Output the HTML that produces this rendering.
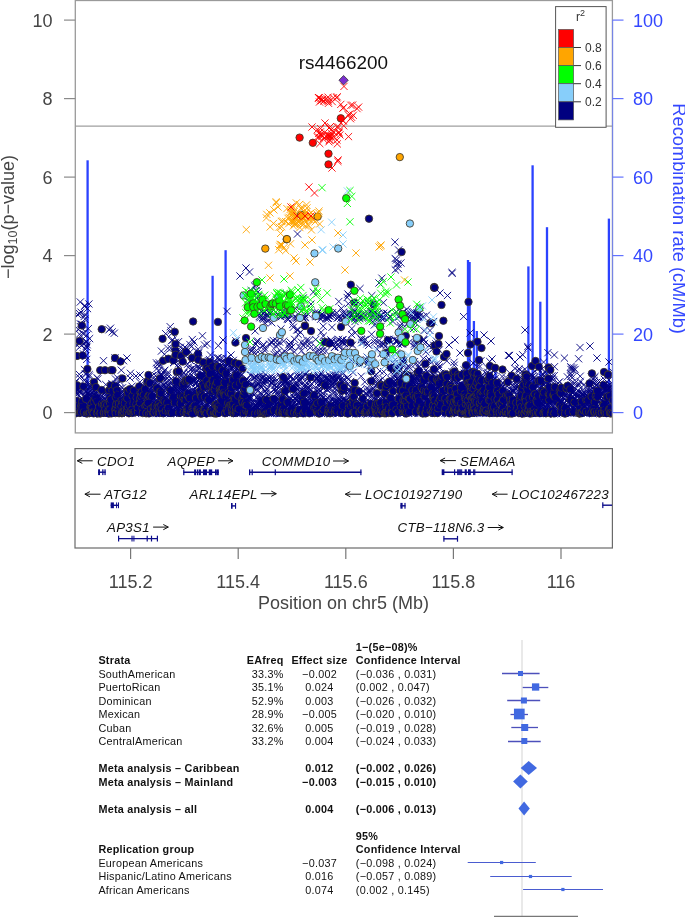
<!DOCTYPE html>
<html><head><meta charset="utf-8"><style>
html,body{margin:0;padding:0;background:#fff;}
svg{display:block;will-change:transform;}
text{font-family:"Liberation Sans", sans-serif;}
</style></head><body>
<svg width="685" height="917" viewBox="0 0 685 917">

<line x1="75" y1="126.1" x2="612.4" y2="126.1" stroke="#9f9f9f" stroke-width="1.2"/>
<line x1="87.6" y1="160.3" x2="87.6" y2="414" stroke="#2b42ff" stroke-width="2.3"/>
<line x1="212.6" y1="275.8" x2="212.6" y2="414" stroke="#2b42ff" stroke-width="2.3"/>
<line x1="225.6" y1="250.2" x2="225.6" y2="414" stroke="#2b42ff" stroke-width="2.3"/>
<line x1="468.0" y1="260" x2="468.0" y2="414" stroke="#2b42ff" stroke-width="2.3"/>
<line x1="469.6" y1="262" x2="469.6" y2="414" stroke="#2b42ff" stroke-width="2.3"/>
<line x1="473.9" y1="321" x2="473.9" y2="414" stroke="#2b42ff" stroke-width="2.3"/>
<line x1="476.8" y1="331" x2="476.8" y2="414" stroke="#2b42ff" stroke-width="2.3"/>
<line x1="495.5" y1="365" x2="495.5" y2="414" stroke="#2b42ff" stroke-width="2.3"/>
<line x1="528.4" y1="266.4" x2="528.4" y2="414" stroke="#2b42ff" stroke-width="2.3"/>
<line x1="532.6" y1="165.3" x2="532.6" y2="414" stroke="#2b42ff" stroke-width="2.3"/>
<line x1="540.3" y1="301.7" x2="540.3" y2="414" stroke="#2b42ff" stroke-width="2.3"/>
<line x1="547.0" y1="227.2" x2="547.0" y2="414" stroke="#2b42ff" stroke-width="2.3"/>
<line x1="608.9" y1="218.6" x2="608.9" y2="414" stroke="#2b42ff" stroke-width="2.3"/>
<defs><circle id="c" r="3.7" stroke="#3e3828" stroke-width="0.85"/><path id="x" d="M-3.6,-3.6L3.6,3.6M-3.6,3.6L3.6,-3.6" fill="none" stroke-width="0.9"/></defs>
<svg x="75.5" y="0" width="537" height="433" viewBox="75.5 0 537 433" overflow="hidden">
<g fill="#000080" stroke="#000080">
<use href="#c" x="73.9" y="386.3"/>
<use href="#x" x="73.9" y="383.4"/>
<use href="#c" x="74.1" y="389.4"/>
<use href="#c" x="74.6" y="401.8"/>
<use href="#x" x="74.7" y="401.8"/>
<use href="#x" x="74.9" y="404.0"/>
<use href="#x" x="74.9" y="411.5"/>
<use href="#x" x="75.2" y="390.2"/>
<use href="#x" x="75.3" y="382.5"/>
<use href="#x" x="75.4" y="351.3"/>
<use href="#x" x="75.5" y="392.5"/>
<use href="#x" x="75.7" y="412.8"/>
<use href="#c" x="75.8" y="413.3"/>
<use href="#x" x="76.0" y="406.7"/>
<use href="#x" x="76.1" y="393.3"/>
<use href="#x" x="76.2" y="399.9"/>
<use href="#x" x="76.5" y="408.2"/>
<use href="#x" x="76.5" y="389.5"/>
<use href="#c" x="76.7" y="401.0"/>
<use href="#x" x="76.8" y="413.0"/>
<use href="#x" x="76.9" y="345.0"/>
<use href="#c" x="77.0" y="356.0"/>
<use href="#x" x="77.0" y="413.0"/>
<use href="#c" x="77.2" y="385.3"/>
<use href="#x" x="77.4" y="401.6"/>
<use href="#x" x="77.4" y="394.1"/>
<use href="#c" x="77.4" y="410.8"/>
<use href="#x" x="77.6" y="314.5"/>
<use href="#x" x="77.8" y="390.0"/>
<use href="#x" x="77.9" y="411.1"/>
<use href="#x" x="77.9" y="388.4"/>
<use href="#x" x="78.2" y="389.6"/>
<use href="#x" x="78.3" y="329.5"/>
<use href="#c" x="78.3" y="405.8"/>
<use href="#x" x="78.5" y="411.4"/>
<use href="#x" x="78.5" y="401.9"/>
<use href="#x" x="78.6" y="409.5"/>
<use href="#x" x="79.1" y="395.4"/>
<use href="#c" x="79.1" y="411.5"/>
<use href="#c" x="79.3" y="412.9"/>
<use href="#x" x="79.3" y="374.3"/>
<use href="#x" x="79.3" y="404.0"/>
<use href="#x" x="79.3" y="412.8"/>
<use href="#x" x="79.5" y="313.6"/>
<use href="#x" x="79.5" y="343.7"/>
<use href="#c" x="79.5" y="341.0"/>
<use href="#x" x="79.5" y="334.2"/>
<use href="#x" x="79.5" y="377.6"/>
<use href="#x" x="79.6" y="412.7"/>
<use href="#x" x="79.6" y="391.9"/>
<use href="#x" x="79.7" y="392.3"/>
<use href="#x" x="79.8" y="409.5"/>
<use href="#x" x="80.1" y="413.1"/>
<use href="#c" x="80.1" y="412.5"/>
<use href="#x" x="80.3" y="302.0"/>
<use href="#x" x="80.4" y="324.0"/>
<use href="#x" x="80.4" y="405.4"/>
<use href="#x" x="80.7" y="327.0"/>
<use href="#c" x="80.7" y="412.4"/>
<use href="#x" x="80.9" y="410.0"/>
<use href="#x" x="81.0" y="327.1"/>
<use href="#x" x="81.0" y="412.2"/>
<use href="#c" x="81.0" y="411.8"/>
<use href="#x" x="81.1" y="312.2"/>
<use href="#x" x="81.2" y="411.0"/>
<use href="#x" x="81.2" y="390.0"/>
<use href="#c" x="81.2" y="406.1"/>
<use href="#x" x="81.6" y="345.2"/>
<use href="#x" x="81.6" y="391.9"/>
<use href="#x" x="81.7" y="412.3"/>
<use href="#x" x="81.7" y="324.5"/>
<use href="#x" x="81.8" y="399.3"/>
<use href="#x" x="81.9" y="324.3"/>
<use href="#c" x="81.9" y="325.5"/>
<use href="#x" x="82.2" y="404.1"/>
<use href="#c" x="82.2" y="401.7"/>
<use href="#x" x="82.5" y="408.9"/>
<use href="#c" x="82.5" y="406.6"/>
<use href="#c" x="82.6" y="355.5"/>
<use href="#x" x="82.6" y="411.3"/>
<use href="#x" x="82.9" y="333.3"/>
<use href="#x" x="83.1" y="412.4"/>
<use href="#x" x="83.2" y="407.3"/>
<use href="#x" x="83.2" y="407.9"/>
<use href="#c" x="83.3" y="386.4"/>
<use href="#x" x="83.4" y="353.9"/>
<use href="#x" x="83.5" y="413.0"/>
<use href="#x" x="83.6" y="334.1"/>
<use href="#x" x="83.7" y="400.1"/>
<use href="#c" x="83.8" y="412.2"/>
<use href="#x" x="83.8" y="403.5"/>
<use href="#x" x="83.9" y="403.3"/>
<use href="#x" x="84.0" y="343.5"/>
<use href="#x" x="84.2" y="403.7"/>
<use href="#x" x="84.2" y="316.5"/>
<use href="#x" x="84.3" y="380.3"/>
<use href="#x" x="84.5" y="396.3"/>
<use href="#x" x="84.5" y="369.6"/>
<use href="#x" x="84.6" y="306.3"/>
<use href="#x" x="84.7" y="407.1"/>
<use href="#x" x="84.8" y="410.2"/>
<use href="#x" x="84.8" y="305.6"/>
<use href="#x" x="84.9" y="403.6"/>
<use href="#x" x="84.9" y="319.2"/>
<use href="#x" x="85.1" y="314.5"/>
<use href="#x" x="85.2" y="412.4"/>
<use href="#x" x="85.2" y="398.5"/>
<use href="#x" x="85.4" y="349.4"/>
<use href="#x" x="85.4" y="396.5"/>
<use href="#x" x="85.5" y="373.9"/>
<use href="#x" x="85.8" y="356.0"/>
<use href="#x" x="85.8" y="391.4"/>
<use href="#c" x="85.9" y="399.0"/>
<use href="#x" x="85.9" y="386.7"/>
<use href="#x" x="86.0" y="412.2"/>
<use href="#x" x="86.1" y="374.2"/>
<use href="#x" x="86.2" y="413.3"/>
<use href="#x" x="86.2" y="346.5"/>
<use href="#x" x="86.2" y="342.1"/>
<use href="#x" x="86.2" y="406.9"/>
<use href="#x" x="86.4" y="341.4"/>
<use href="#x" x="86.5" y="381.9"/>
<use href="#x" x="86.7" y="359.4"/>
<use href="#x" x="86.7" y="335.3"/>
<use href="#c" x="86.8" y="413.6"/>
<use href="#x" x="86.8" y="391.3"/>
<use href="#x" x="86.8" y="394.3"/>
<use href="#x" x="86.9" y="406.9"/>
<use href="#x" x="87.0" y="347.2"/>
<use href="#x" x="87.1" y="344.7"/>
<use href="#x" x="87.3" y="393.7"/>
<use href="#x" x="87.4" y="392.8"/>
<use href="#c" x="87.4" y="369.0"/>
<use href="#x" x="87.5" y="308.6"/>
<use href="#x" x="87.5" y="401.9"/>
<use href="#x" x="87.7" y="407.8"/>
<use href="#x" x="87.7" y="410.5"/>
<use href="#x" x="87.8" y="413.4"/>
<use href="#c" x="87.8" y="412.9"/>
<use href="#x" x="88.0" y="408.0"/>
<use href="#x" x="88.3" y="406.8"/>
<use href="#x" x="88.3" y="328.7"/>
<use href="#x" x="88.4" y="382.4"/>
<use href="#x" x="88.6" y="397.0"/>
<use href="#x" x="88.6" y="384.8"/>
<use href="#x" x="88.7" y="393.6"/>
<use href="#x" x="88.8" y="413.2"/>
<use href="#x" x="88.9" y="394.9"/>
<use href="#x" x="88.9" y="304.0"/>
<use href="#x" x="89.1" y="386.9"/>
<use href="#x" x="89.2" y="374.6"/>
<use href="#c" x="89.3" y="412.8"/>
<use href="#x" x="89.3" y="406.8"/>
<use href="#x" x="89.3" y="395.3"/>
<use href="#x" x="89.4" y="376.2"/>
<use href="#c" x="89.5" y="412.5"/>
<use href="#x" x="89.6" y="338.6"/>
<use href="#x" x="89.9" y="412.4"/>
<use href="#x" x="90.0" y="391.5"/>
<use href="#x" x="90.0" y="403.9"/>
<use href="#c" x="90.1" y="412.6"/>
<use href="#c" x="90.4" y="407.0"/>
<use href="#x" x="90.4" y="386.5"/>
<use href="#x" x="90.6" y="387.9"/>
<use href="#x" x="90.6" y="412.6"/>
<use href="#x" x="90.7" y="400.0"/>
<use href="#x" x="90.8" y="400.2"/>
<use href="#x" x="90.9" y="396.8"/>
<use href="#c" x="91.2" y="407.3"/>
<use href="#x" x="91.5" y="395.3"/>
<use href="#c" x="91.7" y="404.2"/>
<use href="#c" x="92.0" y="408.3"/>
<use href="#c" x="92.0" y="411.7"/>
<use href="#x" x="92.1" y="400.5"/>
<use href="#x" x="92.2" y="410.2"/>
<use href="#x" x="92.2" y="401.3"/>
<use href="#x" x="92.5" y="392.3"/>
<use href="#x" x="92.9" y="395.7"/>
<use href="#x" x="92.9" y="397.0"/>
<use href="#x" x="93.0" y="413.6"/>
<use href="#x" x="93.2" y="405.3"/>
<use href="#x" x="93.3" y="391.8"/>
<use href="#c" x="93.4" y="412.2"/>
<use href="#c" x="93.6" y="413.4"/>
<use href="#c" x="93.8" y="401.1"/>
<use href="#x" x="93.8" y="394.8"/>
<use href="#c" x="94.0" y="382.1"/>
<use href="#x" x="94.0" y="405.5"/>
<use href="#x" x="94.4" y="409.0"/>
<use href="#x" x="94.6" y="391.1"/>
<use href="#x" x="94.6" y="402.8"/>
<use href="#x" x="94.7" y="389.7"/>
<use href="#x" x="95.0" y="399.1"/>
<use href="#x" x="95.2" y="410.6"/>
<use href="#x" x="95.3" y="396.6"/>
<use href="#c" x="95.4" y="398.3"/>
<use href="#x" x="95.7" y="400.2"/>
<use href="#x" x="95.7" y="399.3"/>
<use href="#x" x="95.9" y="412.1"/>
<use href="#c" x="95.9" y="387.1"/>
<use href="#x" x="96.0" y="392.3"/>
<use href="#x" x="96.2" y="407.4"/>
<use href="#x" x="96.3" y="393.3"/>
<use href="#x" x="96.4" y="413.4"/>
<use href="#x" x="96.5" y="402.2"/>
<use href="#x" x="96.9" y="409.1"/>
<use href="#c" x="96.9" y="412.7"/>
<use href="#x" x="97.1" y="396.5"/>
<use href="#x" x="97.1" y="377.7"/>
<use href="#x" x="97.2" y="408.7"/>
<use href="#c" x="97.3" y="401.6"/>
<use href="#x" x="97.5" y="396.1"/>
<use href="#c" x="97.5" y="413.5"/>
<use href="#x" x="97.6" y="410.2"/>
<use href="#x" x="97.7" y="397.4"/>
<use href="#x" x="97.7" y="397.0"/>
<use href="#x" x="97.8" y="378.9"/>
<use href="#c" x="98.0" y="410.9"/>
<use href="#x" x="98.3" y="403.2"/>
<use href="#x" x="98.6" y="412.3"/>
<use href="#x" x="98.6" y="409.6"/>
<use href="#x" x="99.0" y="404.4"/>
<use href="#c" x="99.1" y="407.0"/>
<use href="#x" x="99.2" y="413.4"/>
<use href="#x" x="99.2" y="399.4"/>
<use href="#x" x="99.5" y="397.0"/>
<use href="#x" x="99.9" y="397.6"/>
<use href="#x" x="100.0" y="408.3"/>
<use href="#x" x="100.1" y="412.8"/>
<use href="#c" x="100.2" y="413.5"/>
<use href="#c" x="100.2" y="370.2"/>
<use href="#x" x="100.3" y="405.5"/>
<use href="#x" x="100.4" y="404.7"/>
<use href="#x" x="100.5" y="407.1"/>
<use href="#x" x="100.6" y="409.7"/>
<use href="#c" x="100.8" y="412.5"/>
<use href="#x" x="101.0" y="401.0"/>
<use href="#x" x="101.2" y="410.5"/>
<use href="#x" x="101.2" y="411.8"/>
<use href="#c" x="101.5" y="390.0"/>
<use href="#x" x="101.5" y="398.3"/>
<use href="#x" x="101.6" y="408.5"/>
<use href="#c" x="101.7" y="329.2"/>
<use href="#x" x="101.8" y="412.4"/>
<use href="#x" x="101.9" y="398.5"/>
<use href="#x" x="101.9" y="408.6"/>
<use href="#c" x="102.0" y="404.1"/>
<use href="#x" x="102.3" y="411.9"/>
<use href="#x" x="102.5" y="409.8"/>
<use href="#x" x="102.6" y="392.1"/>
<use href="#x" x="102.6" y="406.6"/>
<use href="#x" x="102.7" y="405.5"/>
<use href="#x" x="102.7" y="413.2"/>
<use href="#x" x="102.8" y="412.5"/>
<use href="#x" x="103.4" y="403.6"/>
<use href="#x" x="103.5" y="360.7"/>
<use href="#x" x="103.5" y="412.3"/>
<use href="#x" x="103.6" y="398.7"/>
<use href="#c" x="103.7" y="404.7"/>
<use href="#x" x="103.8" y="411.7"/>
<use href="#c" x="103.8" y="412.9"/>
<use href="#c" x="104.0" y="412.6"/>
<use href="#x" x="104.7" y="398.6"/>
<use href="#x" x="104.8" y="405.6"/>
<use href="#c" x="105.0" y="370.2"/>
<use href="#c" x="105.0" y="404.2"/>
<use href="#x" x="105.1" y="412.3"/>
<use href="#c" x="105.3" y="409.1"/>
<use href="#x" x="105.4" y="392.6"/>
<use href="#x" x="105.7" y="409.5"/>
<use href="#c" x="105.8" y="412.6"/>
<use href="#x" x="105.8" y="407.0"/>
<use href="#x" x="105.8" y="384.6"/>
<use href="#x" x="106.1" y="391.1"/>
<use href="#x" x="106.3" y="391.1"/>
<use href="#x" x="106.4" y="391.5"/>
<use href="#x" x="106.9" y="413.2"/>
<use href="#x" x="107.0" y="400.4"/>
<use href="#c" x="107.2" y="405.0"/>
<use href="#x" x="107.2" y="412.3"/>
<use href="#x" x="107.2" y="405.8"/>
<use href="#x" x="107.3" y="410.8"/>
<use href="#c" x="107.7" y="412.3"/>
<use href="#x" x="107.7" y="411.1"/>
<use href="#x" x="107.8" y="392.7"/>
<use href="#x" x="107.9" y="396.8"/>
<use href="#x" x="108.2" y="396.5"/>
<use href="#x" x="108.2" y="395.4"/>
<use href="#c" x="108.8" y="413.6"/>
<use href="#x" x="108.8" y="395.2"/>
<use href="#x" x="108.9" y="406.9"/>
<use href="#c" x="108.9" y="409.3"/>
<use href="#x" x="109.0" y="329.8"/>
<use href="#c" x="109.1" y="390.3"/>
<use href="#x" x="109.1" y="413.4"/>
<use href="#x" x="109.4" y="413.4"/>
<use href="#x" x="109.5" y="404.0"/>
<use href="#x" x="109.8" y="393.2"/>
<use href="#c" x="110.0" y="402.9"/>
<use href="#x" x="110.1" y="402.3"/>
<use href="#x" x="110.2" y="413.4"/>
<use href="#c" x="110.2" y="409.3"/>
<use href="#x" x="110.5" y="328.2"/>
<use href="#c" x="110.6" y="399.5"/>
<use href="#c" x="110.7" y="385.5"/>
<use href="#x" x="110.7" y="412.2"/>
<use href="#x" x="110.8" y="405.4"/>
<use href="#c" x="111.0" y="370.2"/>
<use href="#x" x="111.1" y="413.3"/>
<use href="#x" x="111.3" y="400.5"/>
<use href="#x" x="111.4" y="412.3"/>
<use href="#x" x="111.5" y="404.3"/>
<use href="#c" x="111.5" y="413.4"/>
<use href="#x" x="111.5" y="411.1"/>
<use href="#x" x="111.7" y="395.2"/>
<use href="#x" x="111.9" y="383.9"/>
<use href="#x" x="111.9" y="404.6"/>
<use href="#x" x="112.1" y="408.5"/>
<use href="#x" x="112.2" y="331.9"/>
<use href="#c" x="112.4" y="390.6"/>
<use href="#x" x="112.5" y="404.0"/>
<use href="#c" x="112.5" y="370.2"/>
<use href="#x" x="112.5" y="395.5"/>
<use href="#x" x="112.6" y="406.8"/>
<use href="#x" x="112.9" y="403.1"/>
<use href="#x" x="113.1" y="412.3"/>
<use href="#x" x="113.5" y="405.9"/>
<use href="#x" x="113.5" y="412.1"/>
<use href="#x" x="113.5" y="393.4"/>
<use href="#x" x="114.1" y="407.9"/>
<use href="#x" x="114.1" y="395.8"/>
<use href="#x" x="114.1" y="406.9"/>
<use href="#x" x="114.3" y="333.2"/>
<use href="#x" x="114.3" y="392.1"/>
<use href="#x" x="114.4" y="394.4"/>
<use href="#x" x="114.5" y="405.0"/>
<use href="#x" x="114.6" y="413.5"/>
<use href="#c" x="115.0" y="358.0"/>
<use href="#x" x="115.0" y="358.0"/>
<use href="#c" x="115.0" y="386.1"/>
<use href="#x" x="115.1" y="403.4"/>
<use href="#c" x="115.2" y="409.8"/>
<use href="#x" x="115.3" y="396.8"/>
<use href="#x" x="115.4" y="400.8"/>
<use href="#x" x="115.5" y="379.0"/>
<use href="#x" x="115.5" y="384.1"/>
<use href="#x" x="115.6" y="406.5"/>
<use href="#x" x="115.6" y="388.7"/>
<use href="#c" x="115.6" y="413.1"/>
<use href="#c" x="115.8" y="397.2"/>
<use href="#x" x="115.9" y="392.4"/>
<use href="#x" x="116.0" y="388.1"/>
<use href="#c" x="116.1" y="407.6"/>
<use href="#c" x="116.3" y="404.3"/>
<use href="#x" x="116.5" y="392.7"/>
<use href="#x" x="116.7" y="411.6"/>
<use href="#x" x="116.7" y="384.8"/>
<use href="#c" x="116.8" y="390.3"/>
<use href="#x" x="117.0" y="402.2"/>
<use href="#c" x="117.3" y="394.7"/>
<use href="#x" x="117.4" y="413.0"/>
<use href="#x" x="117.5" y="397.2"/>
<use href="#x" x="117.6" y="377.8"/>
<use href="#x" x="117.8" y="399.5"/>
<use href="#x" x="117.8" y="412.0"/>
<use href="#x" x="118.0" y="412.4"/>
<use href="#x" x="118.0" y="383.6"/>
<use href="#x" x="118.2" y="394.1"/>
<use href="#c" x="118.4" y="409.6"/>
<use href="#x" x="118.7" y="412.2"/>
<use href="#c" x="118.8" y="406.2"/>
<use href="#c" x="118.9" y="403.3"/>
<use href="#c" x="119.2" y="412.7"/>
<use href="#c" x="119.2" y="413.2"/>
<use href="#x" x="119.3" y="409.8"/>
<use href="#x" x="119.4" y="412.6"/>
<use href="#x" x="119.6" y="395.4"/>
<use href="#x" x="119.7" y="412.3"/>
<use href="#x" x="119.8" y="402.5"/>
<use href="#x" x="119.9" y="405.7"/>
<use href="#x" x="119.9" y="406.9"/>
<use href="#x" x="120.0" y="408.9"/>
<use href="#x" x="120.0" y="388.4"/>
<use href="#x" x="120.0" y="381.6"/>
<use href="#c" x="120.5" y="361.5"/>
<use href="#x" x="120.7" y="392.2"/>
<use href="#x" x="121.0" y="393.1"/>
<use href="#x" x="121.3" y="370.2"/>
<use href="#c" x="121.3" y="406.1"/>
<use href="#x" x="121.4" y="411.7"/>
<use href="#x" x="121.4" y="408.8"/>
<use href="#x" x="121.5" y="393.6"/>
<use href="#c" x="121.6" y="400.8"/>
<use href="#c" x="121.9" y="412.5"/>
<use href="#c" x="121.9" y="413.3"/>
<use href="#x" x="122.0" y="395.7"/>
<use href="#x" x="122.2" y="406.2"/>
<use href="#x" x="122.4" y="406.1"/>
<use href="#x" x="122.5" y="403.6"/>
<use href="#x" x="122.5" y="387.8"/>
<use href="#c" x="122.5" y="378.5"/>
<use href="#c" x="122.7" y="402.6"/>
<use href="#x" x="122.7" y="407.6"/>
<use href="#x" x="122.8" y="401.9"/>
<use href="#x" x="123.0" y="397.0"/>
<use href="#c" x="123.2" y="412.4"/>
<use href="#x" x="123.5" y="360.7"/>
<use href="#x" x="123.5" y="408.3"/>
<use href="#x" x="123.5" y="402.8"/>
<use href="#x" x="123.6" y="393.3"/>
<use href="#c" x="123.7" y="409.0"/>
<use href="#c" x="123.7" y="411.8"/>
<use href="#x" x="124.1" y="404.4"/>
<use href="#x" x="124.2" y="407.6"/>
<use href="#x" x="124.2" y="410.9"/>
<use href="#x" x="124.8" y="394.6"/>
<use href="#c" x="124.8" y="403.3"/>
<use href="#c" x="124.9" y="410.0"/>
<use href="#x" x="125.2" y="410.0"/>
<use href="#x" x="125.3" y="407.5"/>
<use href="#x" x="125.5" y="391.4"/>
<use href="#x" x="125.7" y="404.4"/>
<use href="#x" x="125.8" y="403.0"/>
<use href="#x" x="126.2" y="404.8"/>
<use href="#x" x="126.2" y="397.5"/>
<use href="#x" x="126.3" y="410.4"/>
<use href="#c" x="126.6" y="412.1"/>
<use href="#x" x="126.7" y="403.3"/>
<use href="#c" x="126.8" y="408.4"/>
<use href="#x" x="127.0" y="358.0"/>
<use href="#x" x="127.2" y="392.7"/>
<use href="#c" x="127.2" y="398.4"/>
<use href="#x" x="127.4" y="409.6"/>
<use href="#c" x="127.4" y="390.6"/>
<use href="#x" x="127.5" y="413.4"/>
<use href="#x" x="127.6" y="393.8"/>
<use href="#c" x="127.8" y="407.1"/>
<use href="#c" x="127.8" y="392.4"/>
<use href="#x" x="128.0" y="402.2"/>
<use href="#x" x="128.4" y="408.1"/>
<use href="#x" x="128.9" y="411.8"/>
<use href="#c" x="129.0" y="413.3"/>
<use href="#x" x="129.1" y="407.7"/>
<use href="#x" x="129.2" y="395.6"/>
<use href="#c" x="129.4" y="404.7"/>
<use href="#x" x="129.4" y="401.5"/>
<use href="#x" x="129.6" y="398.8"/>
<use href="#x" x="129.6" y="412.4"/>
<use href="#c" x="129.8" y="389.1"/>
<use href="#x" x="129.8" y="407.8"/>
<use href="#x" x="130.0" y="378.0"/>
<use href="#x" x="130.0" y="391.9"/>
<use href="#c" x="130.3" y="411.5"/>
<use href="#x" x="130.4" y="373.3"/>
<use href="#x" x="130.4" y="410.2"/>
<use href="#x" x="130.6" y="402.9"/>
<use href="#x" x="130.8" y="396.3"/>
<use href="#x" x="130.9" y="397.7"/>
<use href="#x" x="130.9" y="398.4"/>
<use href="#x" x="131.1" y="395.0"/>
<use href="#c" x="131.3" y="412.3"/>
<use href="#x" x="132.0" y="386.2"/>
<use href="#x" x="132.1" y="413.5"/>
<use href="#x" x="132.1" y="412.6"/>
<use href="#c" x="132.4" y="395.8"/>
<use href="#x" x="132.5" y="405.7"/>
<use href="#c" x="132.5" y="409.1"/>
<use href="#x" x="132.5" y="411.8"/>
<use href="#x" x="132.5" y="391.7"/>
<use href="#x" x="132.6" y="405.8"/>
<use href="#x" x="132.6" y="398.9"/>
<use href="#c" x="132.7" y="412.8"/>
<use href="#x" x="133.1" y="411.5"/>
<use href="#c" x="133.4" y="403.5"/>
<use href="#x" x="133.5" y="408.1"/>
<use href="#c" x="133.8" y="390.5"/>
<use href="#x" x="134.0" y="402.0"/>
<use href="#c" x="134.1" y="412.2"/>
<use href="#x" x="134.2" y="392.5"/>
<use href="#x" x="134.2" y="397.8"/>
<use href="#x" x="134.9" y="411.8"/>
<use href="#x" x="135.0" y="397.3"/>
<use href="#x" x="135.1" y="401.4"/>
<use href="#x" x="135.2" y="402.1"/>
<use href="#c" x="135.2" y="412.0"/>
<use href="#x" x="135.5" y="407.4"/>
<use href="#x" x="135.7" y="404.9"/>
<use href="#x" x="135.8" y="413.5"/>
<use href="#x" x="135.9" y="412.4"/>
<use href="#x" x="136.0" y="376.0"/>
<use href="#x" x="136.2" y="394.6"/>
<use href="#c" x="136.4" y="404.5"/>
<use href="#x" x="136.5" y="406.2"/>
<use href="#c" x="136.6" y="397.8"/>
<use href="#x" x="136.7" y="412.3"/>
<use href="#x" x="137.1" y="404.2"/>
<use href="#x" x="137.2" y="397.4"/>
<use href="#x" x="137.4" y="406.3"/>
<use href="#x" x="137.5" y="393.8"/>
<use href="#x" x="137.5" y="400.2"/>
<use href="#x" x="137.7" y="407.7"/>
<use href="#c" x="137.8" y="411.8"/>
<use href="#c" x="137.9" y="407.6"/>
<use href="#x" x="138.1" y="411.9"/>
<use href="#x" x="138.5" y="397.5"/>
<use href="#x" x="138.6" y="392.0"/>
<use href="#x" x="138.8" y="402.9"/>
<use href="#x" x="138.9" y="395.6"/>
<use href="#x" x="139.0" y="389.4"/>
<use href="#c" x="139.2" y="386.4"/>
<use href="#x" x="139.3" y="410.1"/>
<use href="#x" x="139.3" y="405.7"/>
<use href="#x" x="139.6" y="398.4"/>
<use href="#x" x="139.7" y="405.0"/>
<use href="#x" x="139.8" y="382.2"/>
<use href="#c" x="139.8" y="402.6"/>
<use href="#x" x="140.0" y="392.5"/>
<use href="#x" x="140.0" y="375.0"/>
<use href="#x" x="140.0" y="391.4"/>
<use href="#c" x="140.2" y="398.4"/>
<use href="#c" x="140.5" y="392.3"/>
<use href="#x" x="140.6" y="387.6"/>
<use href="#x" x="140.6" y="412.4"/>
<use href="#x" x="140.8" y="407.5"/>
<use href="#x" x="141.2" y="407.0"/>
<use href="#x" x="141.3" y="411.0"/>
<use href="#x" x="141.5" y="400.9"/>
<use href="#c" x="141.5" y="396.2"/>
<use href="#x" x="141.7" y="404.7"/>
<use href="#x" x="141.7" y="399.6"/>
<use href="#x" x="141.7" y="413.1"/>
<use href="#c" x="141.7" y="392.0"/>
<use href="#x" x="141.9" y="389.4"/>
<use href="#x" x="142.2" y="394.5"/>
<use href="#c" x="142.5" y="408.5"/>
<use href="#x" x="142.6" y="408.1"/>
<use href="#x" x="142.6" y="411.4"/>
<use href="#x" x="142.7" y="397.9"/>
<use href="#c" x="142.8" y="413.1"/>
<use href="#x" x="143.0" y="401.6"/>
<use href="#x" x="143.0" y="410.8"/>
<use href="#x" x="143.6" y="411.5"/>
<use href="#c" x="143.8" y="394.8"/>
<use href="#x" x="143.9" y="405.9"/>
<use href="#x" x="143.9" y="412.2"/>
<use href="#x" x="144.0" y="392.4"/>
<use href="#x" x="144.4" y="394.4"/>
<use href="#x" x="144.8" y="403.9"/>
<use href="#x" x="144.9" y="402.5"/>
<use href="#c" x="144.9" y="388.9"/>
<use href="#x" x="145.2" y="407.5"/>
<use href="#x" x="145.3" y="397.4"/>
<use href="#c" x="145.3" y="406.2"/>
<use href="#x" x="145.4" y="397.0"/>
<use href="#x" x="145.5" y="412.4"/>
<use href="#x" x="145.6" y="393.9"/>
<use href="#x" x="145.6" y="385.7"/>
<use href="#x" x="145.8" y="408.5"/>
<use href="#x" x="146.0" y="393.8"/>
<use href="#x" x="146.1" y="412.1"/>
<use href="#c" x="146.3" y="413.3"/>
<use href="#c" x="146.4" y="405.1"/>
<use href="#x" x="146.5" y="393.8"/>
<use href="#x" x="146.8" y="395.5"/>
<use href="#x" x="146.8" y="388.9"/>
<use href="#x" x="146.9" y="396.0"/>
<use href="#x" x="147.1" y="391.4"/>
<use href="#c" x="147.2" y="381.4"/>
<use href="#x" x="147.4" y="394.8"/>
<use href="#c" x="147.6" y="398.3"/>
<use href="#c" x="147.8" y="402.9"/>
<use href="#x" x="147.8" y="404.1"/>
<use href="#x" x="147.9" y="400.6"/>
<use href="#x" x="148.1" y="412.5"/>
<use href="#x" x="148.5" y="396.4"/>
<use href="#c" x="148.5" y="375.0"/>
<use href="#c" x="148.6" y="395.9"/>
<use href="#x" x="148.7" y="392.5"/>
<use href="#c" x="149.0" y="413.4"/>
<use href="#x" x="149.1" y="407.7"/>
<use href="#x" x="149.2" y="407.7"/>
<use href="#x" x="149.5" y="383.7"/>
<use href="#x" x="149.5" y="406.6"/>
<use href="#c" x="149.5" y="383.0"/>
<use href="#c" x="149.5" y="395.4"/>
<use href="#x" x="149.6" y="406.4"/>
<use href="#x" x="149.8" y="393.0"/>
<use href="#x" x="149.8" y="392.1"/>
<use href="#x" x="150.1" y="408.0"/>
<use href="#x" x="150.4" y="410.3"/>
<use href="#c" x="150.5" y="412.5"/>
<use href="#x" x="150.5" y="401.3"/>
<use href="#x" x="150.9" y="388.5"/>
<use href="#c" x="150.9" y="408.7"/>
<use href="#x" x="151.4" y="400.1"/>
<use href="#x" x="151.5" y="412.8"/>
<use href="#x" x="151.5" y="388.8"/>
<use href="#x" x="151.5" y="412.6"/>
<use href="#x" x="151.6" y="397.6"/>
<use href="#c" x="151.6" y="396.3"/>
<use href="#x" x="151.8" y="387.4"/>
<use href="#x" x="152.2" y="401.6"/>
<use href="#x" x="152.2" y="405.8"/>
<use href="#x" x="152.3" y="386.5"/>
<use href="#x" x="152.3" y="391.6"/>
<use href="#x" x="152.4" y="375.6"/>
<use href="#x" x="152.5" y="404.5"/>
<use href="#x" x="152.7" y="392.5"/>
<use href="#x" x="152.7" y="411.1"/>
<use href="#c" x="152.8" y="412.2"/>
<use href="#x" x="152.9" y="413.6"/>
<use href="#x" x="153.0" y="382.1"/>
<use href="#x" x="153.1" y="413.4"/>
<use href="#c" x="153.6" y="406.8"/>
<use href="#x" x="153.6" y="398.1"/>
<use href="#x" x="153.6" y="394.3"/>
<use href="#c" x="153.7" y="412.5"/>
<use href="#x" x="153.8" y="403.7"/>
<use href="#x" x="153.8" y="384.8"/>
<use href="#x" x="154.0" y="398.6"/>
<use href="#x" x="154.2" y="402.6"/>
<use href="#x" x="154.4" y="379.7"/>
<use href="#x" x="154.5" y="381.9"/>
<use href="#x" x="154.7" y="403.6"/>
<use href="#x" x="154.7" y="409.3"/>
<use href="#c" x="154.8" y="406.2"/>
<use href="#x" x="154.8" y="389.1"/>
<use href="#x" x="155.0" y="404.0"/>
<use href="#x" x="155.4" y="402.5"/>
<use href="#x" x="155.4" y="395.9"/>
<use href="#x" x="155.5" y="400.4"/>
<use href="#x" x="155.5" y="412.6"/>
<use href="#x" x="155.7" y="375.7"/>
<use href="#x" x="156.0" y="408.6"/>
<use href="#x" x="156.0" y="411.8"/>
<use href="#x" x="156.1" y="404.2"/>
<use href="#x" x="156.3" y="413.1"/>
<use href="#x" x="156.4" y="400.9"/>
<use href="#x" x="156.5" y="381.1"/>
<use href="#c" x="156.5" y="411.9"/>
<use href="#x" x="156.5" y="408.1"/>
<use href="#x" x="156.5" y="394.0"/>
<use href="#x" x="156.5" y="362.9"/>
<use href="#x" x="156.8" y="390.8"/>
<use href="#c" x="156.9" y="388.3"/>
<use href="#x" x="157.0" y="368.4"/>
<use href="#x" x="157.3" y="411.7"/>
<use href="#x" x="157.4" y="364.7"/>
<use href="#c" x="157.5" y="406.1"/>
<use href="#x" x="157.6" y="392.5"/>
<use href="#x" x="157.6" y="400.9"/>
<use href="#x" x="157.6" y="385.0"/>
<use href="#x" x="157.8" y="393.3"/>
<use href="#x" x="157.9" y="406.5"/>
<use href="#x" x="158.3" y="413.5"/>
<use href="#x" x="158.4" y="370.8"/>
<use href="#x" x="158.5" y="379.3"/>
<use href="#x" x="158.5" y="392.6"/>
<use href="#c" x="158.6" y="404.0"/>
<use href="#c" x="158.6" y="412.0"/>
<use href="#x" x="158.8" y="394.8"/>
<use href="#x" x="159.1" y="390.5"/>
<use href="#x" x="159.1" y="406.8"/>
<use href="#c" x="159.2" y="406.8"/>
<use href="#x" x="159.2" y="393.8"/>
<use href="#x" x="159.3" y="362.9"/>
<use href="#x" x="159.4" y="403.9"/>
<use href="#x" x="159.7" y="413.5"/>
<use href="#c" x="159.7" y="391.5"/>
<use href="#c" x="159.7" y="413.0"/>
<use href="#x" x="160.0" y="412.7"/>
<use href="#c" x="160.0" y="396.1"/>
<use href="#c" x="160.0" y="378.4"/>
<use href="#x" x="160.0" y="386.5"/>
<use href="#x" x="160.1" y="387.3"/>
<use href="#x" x="160.2" y="364.9"/>
<use href="#c" x="160.5" y="391.7"/>
<use href="#x" x="160.6" y="397.1"/>
<use href="#x" x="160.7" y="413.0"/>
<use href="#c" x="160.7" y="393.4"/>
<use href="#x" x="161.1" y="388.1"/>
<use href="#x" x="161.2" y="411.6"/>
<use href="#x" x="161.3" y="375.2"/>
<use href="#x" x="161.3" y="387.7"/>
<use href="#c" x="161.3" y="405.4"/>
<use href="#x" x="161.4" y="351.1"/>
<use href="#x" x="161.4" y="413.4"/>
<use href="#x" x="161.6" y="375.8"/>
<use href="#c" x="161.7" y="409.4"/>
<use href="#x" x="161.8" y="378.0"/>
<use href="#x" x="161.8" y="374.7"/>
<use href="#x" x="161.9" y="389.3"/>
<use href="#x" x="162.1" y="410.1"/>
<use href="#x" x="162.2" y="386.6"/>
<use href="#x" x="162.3" y="396.9"/>
<use href="#c" x="162.3" y="408.8"/>
<use href="#x" x="162.4" y="410.9"/>
<use href="#x" x="162.5" y="409.2"/>
<use href="#x" x="162.6" y="412.1"/>
<use href="#c" x="162.6" y="338.8"/>
<use href="#x" x="162.9" y="406.0"/>
<use href="#x" x="163.0" y="392.4"/>
<use href="#x" x="163.1" y="385.5"/>
<use href="#c" x="163.1" y="360.8"/>
<use href="#x" x="163.2" y="372.4"/>
<use href="#x" x="163.3" y="400.1"/>
<use href="#c" x="163.3" y="413.2"/>
<use href="#x" x="163.5" y="400.1"/>
<use href="#c" x="163.5" y="400.5"/>
<use href="#x" x="163.6" y="406.9"/>
<use href="#x" x="163.8" y="384.9"/>
<use href="#x" x="163.9" y="396.0"/>
<use href="#x" x="164.0" y="410.4"/>
<use href="#x" x="164.0" y="405.6"/>
<use href="#x" x="164.2" y="401.7"/>
<use href="#x" x="164.3" y="370.9"/>
<use href="#x" x="164.4" y="354.3"/>
<use href="#c" x="164.6" y="401.6"/>
<use href="#x" x="164.7" y="370.3"/>
<use href="#x" x="164.8" y="397.0"/>
<use href="#x" x="164.9" y="412.4"/>
<use href="#x" x="164.9" y="409.6"/>
<use href="#x" x="165.1" y="413.1"/>
<use href="#x" x="165.2" y="407.7"/>
<use href="#x" x="165.5" y="385.9"/>
<use href="#x" x="165.6" y="411.7"/>
<use href="#c" x="165.7" y="410.9"/>
<use href="#x" x="165.7" y="333.7"/>
<use href="#x" x="165.8" y="402.3"/>
<use href="#x" x="166.3" y="404.0"/>
<use href="#x" x="166.3" y="411.6"/>
<use href="#x" x="166.4" y="387.7"/>
<use href="#x" x="166.5" y="379.2"/>
<use href="#x" x="166.5" y="409.2"/>
<use href="#x" x="166.7" y="398.6"/>
<use href="#x" x="167.0" y="378.0"/>
<use href="#x" x="167.0" y="381.8"/>
<use href="#x" x="167.0" y="389.8"/>
<use href="#x" x="167.1" y="408.8"/>
<use href="#c" x="167.2" y="402.7"/>
<use href="#x" x="167.2" y="411.8"/>
<use href="#x" x="167.4" y="400.4"/>
<use href="#x" x="167.5" y="401.3"/>
<use href="#x" x="167.5" y="375.1"/>
<use href="#x" x="167.6" y="386.2"/>
<use href="#x" x="167.7" y="402.9"/>
<use href="#x" x="167.7" y="413.5"/>
<use href="#x" x="167.8" y="412.6"/>
<use href="#x" x="167.9" y="348.3"/>
<use href="#x" x="168.0" y="385.3"/>
<use href="#x" x="168.0" y="393.9"/>
<use href="#c" x="168.1" y="407.8"/>
<use href="#x" x="168.2" y="372.4"/>
<use href="#c" x="168.3" y="358.7"/>
<use href="#x" x="168.4" y="412.1"/>
<use href="#x" x="168.6" y="391.1"/>
<use href="#c" x="168.6" y="412.5"/>
<use href="#x" x="168.8" y="412.0"/>
<use href="#x" x="168.9" y="412.5"/>
<use href="#x" x="169.0" y="394.9"/>
<use href="#x" x="169.1" y="393.4"/>
<use href="#x" x="169.3" y="386.3"/>
<use href="#x" x="169.5" y="412.9"/>
<use href="#x" x="169.6" y="408.3"/>
<use href="#x" x="169.9" y="359.8"/>
<use href="#x" x="170.1" y="400.3"/>
<use href="#x" x="170.1" y="392.5"/>
<use href="#x" x="170.2" y="401.2"/>
<use href="#x" x="170.2" y="326.7"/>
<use href="#x" x="170.3" y="413.6"/>
<use href="#x" x="170.3" y="412.4"/>
<use href="#c" x="170.4" y="412.9"/>
<use href="#c" x="170.5" y="390.3"/>
<use href="#x" x="170.5" y="412.1"/>
<use href="#x" x="170.7" y="399.4"/>
<use href="#x" x="170.7" y="408.5"/>
<use href="#x" x="170.7" y="391.1"/>
<use href="#x" x="170.8" y="393.5"/>
<use href="#x" x="170.8" y="391.6"/>
<use href="#x" x="171.0" y="330.9"/>
<use href="#x" x="171.0" y="348.3"/>
<use href="#x" x="171.1" y="413.4"/>
<use href="#x" x="171.2" y="399.3"/>
<use href="#x" x="171.3" y="378.9"/>
<use href="#x" x="171.5" y="402.9"/>
<use href="#x" x="171.5" y="382.3"/>
<use href="#x" x="171.5" y="412.0"/>
<use href="#x" x="171.6" y="333.6"/>
<use href="#x" x="171.7" y="406.4"/>
<use href="#x" x="171.7" y="340.5"/>
<use href="#x" x="171.8" y="388.4"/>
<use href="#x" x="172.1" y="397.6"/>
<use href="#x" x="172.1" y="405.7"/>
<use href="#c" x="172.1" y="412.7"/>
<use href="#x" x="172.5" y="388.2"/>
<use href="#x" x="172.6" y="379.8"/>
<use href="#x" x="172.7" y="340.0"/>
<use href="#c" x="173.0" y="397.5"/>
<use href="#x" x="173.0" y="395.7"/>
<use href="#x" x="173.0" y="413.0"/>
<use href="#x" x="173.1" y="413.2"/>
<use href="#x" x="173.2" y="386.4"/>
<use href="#c" x="173.3" y="360.4"/>
<use href="#x" x="173.4" y="410.7"/>
<use href="#x" x="173.4" y="392.2"/>
<use href="#x" x="173.5" y="406.6"/>
<use href="#x" x="173.7" y="402.2"/>
<use href="#x" x="173.7" y="390.1"/>
<use href="#x" x="173.8" y="362.6"/>
<use href="#x" x="173.8" y="362.3"/>
<use href="#x" x="174.0" y="386.4"/>
<use href="#x" x="174.1" y="412.7"/>
<use href="#x" x="174.2" y="412.8"/>
<use href="#x" x="174.3" y="397.2"/>
<use href="#x" x="174.4" y="412.5"/>
<use href="#x" x="174.7" y="404.3"/>
<use href="#x" x="174.7" y="352.7"/>
<use href="#c" x="174.8" y="402.5"/>
<use href="#c" x="174.8" y="331.9"/>
<use href="#x" x="174.8" y="387.0"/>
<use href="#x" x="175.0" y="413.0"/>
<use href="#x" x="175.1" y="411.5"/>
<use href="#x" x="175.1" y="342.4"/>
<use href="#x" x="175.1" y="343.1"/>
<use href="#x" x="175.2" y="397.0"/>
<use href="#x" x="175.3" y="412.3"/>
<use href="#c" x="175.4" y="350.5"/>
<use href="#x" x="175.4" y="346.1"/>
<use href="#c" x="175.5" y="354.7"/>
<use href="#c" x="175.5" y="344.1"/>
<use href="#x" x="175.5" y="402.1"/>
<use href="#x" x="175.8" y="397.2"/>
<use href="#x" x="175.9" y="391.2"/>
<use href="#x" x="176.0" y="386.1"/>
<use href="#c" x="176.1" y="381.3"/>
<use href="#x" x="176.2" y="412.7"/>
<use href="#x" x="176.2" y="392.4"/>
<use href="#x" x="176.3" y="408.2"/>
<use href="#x" x="176.3" y="380.1"/>
<use href="#x" x="176.3" y="383.2"/>
<use href="#x" x="176.4" y="406.1"/>
<use href="#x" x="176.6" y="359.9"/>
<use href="#x" x="176.6" y="412.9"/>
<use href="#x" x="176.6" y="386.5"/>
<use href="#x" x="176.7" y="400.7"/>
<use href="#c" x="176.8" y="371.9"/>
<use href="#x" x="177.2" y="389.6"/>
<use href="#x" x="177.4" y="396.5"/>
<use href="#x" x="177.4" y="393.6"/>
<use href="#x" x="177.5" y="405.8"/>
<use href="#x" x="177.5" y="389.8"/>
<use href="#x" x="177.5" y="375.5"/>
<use href="#x" x="177.6" y="386.1"/>
<use href="#x" x="177.6" y="392.8"/>
<use href="#x" x="178.0" y="412.5"/>
<use href="#x" x="178.0" y="404.9"/>
<use href="#x" x="178.1" y="367.1"/>
<use href="#x" x="178.3" y="399.8"/>
<use href="#x" x="178.3" y="366.8"/>
<use href="#x" x="178.3" y="364.1"/>
<use href="#x" x="178.4" y="386.3"/>
<use href="#x" x="178.5" y="341.7"/>
<use href="#x" x="178.6" y="392.5"/>
<use href="#x" x="178.6" y="407.8"/>
<use href="#c" x="178.8" y="371.3"/>
<use href="#x" x="178.9" y="351.2"/>
<use href="#x" x="179.0" y="405.6"/>
<use href="#x" x="179.2" y="391.1"/>
<use href="#c" x="179.3" y="412.8"/>
<use href="#x" x="179.4" y="410.3"/>
<use href="#c" x="179.4" y="412.7"/>
<use href="#x" x="179.5" y="397.5"/>
<use href="#x" x="179.5" y="387.0"/>
<use href="#x" x="179.7" y="400.8"/>
<use href="#x" x="179.8" y="359.2"/>
<use href="#x" x="179.9" y="393.2"/>
<use href="#x" x="179.9" y="412.3"/>
<use href="#x" x="179.9" y="396.7"/>
<use href="#x" x="180.0" y="407.2"/>
<use href="#x" x="180.2" y="411.3"/>
<use href="#x" x="180.4" y="347.3"/>
<use href="#x" x="180.4" y="413.1"/>
<use href="#x" x="180.6" y="385.1"/>
<use href="#c" x="180.6" y="403.5"/>
<use href="#x" x="180.7" y="387.7"/>
<use href="#x" x="180.8" y="411.0"/>
<use href="#x" x="180.8" y="410.1"/>
<use href="#c" x="180.9" y="396.3"/>
<use href="#c" x="181.0" y="356.0"/>
<use href="#x" x="181.1" y="391.2"/>
<use href="#x" x="181.2" y="402.6"/>
<use href="#x" x="181.5" y="377.0"/>
<use href="#x" x="181.8" y="405.0"/>
<use href="#x" x="181.8" y="403.5"/>
<use href="#x" x="181.9" y="388.7"/>
<use href="#x" x="182.0" y="409.4"/>
<use href="#x" x="182.1" y="412.0"/>
<use href="#x" x="182.4" y="396.8"/>
<use href="#x" x="182.4" y="385.7"/>
<use href="#x" x="182.5" y="390.0"/>
<use href="#x" x="182.6" y="396.3"/>
<use href="#x" x="182.7" y="401.5"/>
<use href="#x" x="182.7" y="398.7"/>
<use href="#x" x="182.7" y="410.0"/>
<use href="#c" x="182.8" y="361.6"/>
<use href="#x" x="183.0" y="381.0"/>
<use href="#x" x="183.0" y="404.4"/>
<use href="#x" x="183.0" y="359.2"/>
<use href="#x" x="183.1" y="413.0"/>
<use href="#c" x="183.2" y="384.4"/>
<use href="#c" x="183.2" y="396.8"/>
<use href="#x" x="183.2" y="377.6"/>
<use href="#x" x="183.3" y="349.0"/>
<use href="#x" x="183.4" y="401.2"/>
<use href="#x" x="183.5" y="383.9"/>
<use href="#x" x="183.5" y="393.2"/>
<use href="#x" x="183.5" y="397.7"/>
<use href="#x" x="183.5" y="385.2"/>
<use href="#c" x="183.7" y="412.3"/>
<use href="#x" x="183.7" y="372.5"/>
<use href="#x" x="183.9" y="409.9"/>
<use href="#x" x="183.9" y="373.2"/>
<use href="#x" x="183.9" y="389.6"/>
<use href="#x" x="184.0" y="376.5"/>
<use href="#x" x="184.1" y="413.3"/>
<use href="#x" x="184.3" y="354.6"/>
<use href="#c" x="184.5" y="399.6"/>
<use href="#x" x="184.6" y="402.0"/>
<use href="#x" x="184.8" y="389.8"/>
<use href="#x" x="184.8" y="347.2"/>
<use href="#x" x="184.8" y="386.8"/>
<use href="#x" x="185.2" y="402.3"/>
<use href="#c" x="185.3" y="381.3"/>
<use href="#x" x="185.3" y="389.9"/>
<use href="#x" x="185.4" y="407.0"/>
<use href="#x" x="185.4" y="383.9"/>
<use href="#x" x="185.5" y="394.6"/>
<use href="#c" x="185.6" y="399.4"/>
<use href="#x" x="185.7" y="399.5"/>
<use href="#x" x="185.9" y="411.1"/>
<use href="#c" x="186.0" y="352.0"/>
<use href="#x" x="186.0" y="397.6"/>
<use href="#x" x="186.2" y="399.5"/>
<use href="#x" x="186.2" y="409.9"/>
<use href="#x" x="186.3" y="411.6"/>
<use href="#x" x="186.4" y="392.3"/>
<use href="#c" x="186.4" y="412.9"/>
<use href="#x" x="186.7" y="407.1"/>
<use href="#x" x="186.7" y="348.8"/>
<use href="#c" x="186.7" y="380.2"/>
<use href="#x" x="186.9" y="408.9"/>
<use href="#x" x="186.9" y="410.1"/>
<use href="#x" x="187.0" y="400.1"/>
<use href="#c" x="187.0" y="408.6"/>
<use href="#c" x="187.4" y="412.6"/>
<use href="#c" x="187.5" y="395.2"/>
<use href="#x" x="187.6" y="364.2"/>
<use href="#x" x="187.7" y="386.0"/>
<use href="#x" x="187.7" y="413.5"/>
<use href="#c" x="187.8" y="410.2"/>
<use href="#c" x="187.9" y="393.6"/>
<use href="#x" x="188.1" y="407.2"/>
<use href="#x" x="188.1" y="398.9"/>
<use href="#x" x="188.1" y="392.1"/>
<use href="#x" x="188.2" y="404.5"/>
<use href="#x" x="188.4" y="367.1"/>
<use href="#x" x="188.5" y="388.3"/>
<use href="#c" x="188.6" y="410.4"/>
<use href="#x" x="188.7" y="399.5"/>
<use href="#c" x="188.7" y="379.4"/>
<use href="#x" x="188.8" y="404.9"/>
<use href="#x" x="189.1" y="410.2"/>
<use href="#x" x="189.3" y="409.5"/>
<use href="#x" x="189.3" y="392.1"/>
<use href="#c" x="189.3" y="398.0"/>
<use href="#x" x="189.8" y="404.7"/>
<use href="#x" x="189.8" y="376.6"/>
<use href="#x" x="189.9" y="344.5"/>
<use href="#x" x="190.1" y="412.4"/>
<use href="#x" x="190.1" y="373.9"/>
<use href="#x" x="190.2" y="352.0"/>
<use href="#x" x="190.2" y="413.4"/>
<use href="#x" x="190.2" y="408.3"/>
<use href="#x" x="190.2" y="405.7"/>
<use href="#x" x="190.3" y="397.5"/>
<use href="#x" x="190.4" y="407.7"/>
<use href="#x" x="190.4" y="369.6"/>
<use href="#x" x="190.5" y="360.5"/>
<use href="#x" x="191.0" y="394.0"/>
<use href="#x" x="191.0" y="384.0"/>
<use href="#x" x="191.2" y="381.5"/>
<use href="#x" x="191.3" y="412.4"/>
<use href="#x" x="191.3" y="393.4"/>
<use href="#c" x="191.3" y="412.1"/>
<use href="#x" x="191.4" y="346.6"/>
<use href="#x" x="191.4" y="406.3"/>
<use href="#x" x="191.4" y="395.7"/>
<use href="#x" x="191.4" y="400.2"/>
<use href="#x" x="191.6" y="382.6"/>
<use href="#x" x="191.7" y="407.8"/>
<use href="#x" x="191.7" y="413.5"/>
<use href="#x" x="191.9" y="355.6"/>
<use href="#x" x="192.0" y="407.6"/>
<use href="#c" x="192.0" y="358.0"/>
<use href="#x" x="192.2" y="392.9"/>
<use href="#x" x="192.3" y="339.5"/>
<use href="#c" x="192.3" y="413.6"/>
<use href="#x" x="192.3" y="400.8"/>
<use href="#x" x="192.4" y="413.1"/>
<use href="#x" x="192.4" y="368.5"/>
<use href="#c" x="192.5" y="407.9"/>
<use href="#x" x="192.6" y="396.5"/>
<use href="#x" x="192.6" y="401.2"/>
<use href="#x" x="192.6" y="405.3"/>
<use href="#x" x="192.9" y="407.4"/>
<use href="#x" x="193.0" y="390.1"/>
<use href="#c" x="193.1" y="321.5"/>
<use href="#x" x="193.3" y="398.5"/>
<use href="#x" x="193.4" y="412.4"/>
<use href="#x" x="193.5" y="380.2"/>
<use href="#x" x="193.5" y="359.3"/>
<use href="#x" x="193.6" y="380.1"/>
<use href="#c" x="193.8" y="407.5"/>
<use href="#x" x="193.8" y="392.6"/>
<use href="#x" x="193.8" y="395.9"/>
<use href="#x" x="194.0" y="377.1"/>
<use href="#x" x="194.0" y="342.0"/>
<use href="#x" x="194.0" y="395.1"/>
<use href="#x" x="194.2" y="368.6"/>
<use href="#x" x="194.3" y="411.5"/>
<use href="#x" x="194.3" y="379.6"/>
<use href="#x" x="194.4" y="411.0"/>
<use href="#x" x="194.4" y="409.4"/>
<use href="#x" x="194.4" y="371.9"/>
<use href="#c" x="194.5" y="405.8"/>
<use href="#x" x="194.6" y="410.2"/>
<use href="#x" x="194.6" y="412.8"/>
<use href="#x" x="194.9" y="378.3"/>
<use href="#x" x="195.0" y="392.5"/>
<use href="#x" x="195.2" y="412.9"/>
<use href="#x" x="195.2" y="408.6"/>
<use href="#x" x="195.3" y="380.5"/>
<use href="#x" x="195.4" y="411.1"/>
<use href="#x" x="195.8" y="398.8"/>
<use href="#x" x="195.8" y="391.5"/>
<use href="#x" x="196.0" y="383.5"/>
<use href="#x" x="196.0" y="395.3"/>
<use href="#c" x="196.0" y="397.9"/>
<use href="#x" x="196.1" y="382.8"/>
<use href="#x" x="196.3" y="391.2"/>
<use href="#x" x="196.4" y="389.3"/>
<use href="#x" x="196.5" y="412.9"/>
<use href="#x" x="196.5" y="403.8"/>
<use href="#x" x="196.6" y="405.7"/>
<use href="#x" x="196.7" y="381.9"/>
<use href="#x" x="196.8" y="401.6"/>
<use href="#x" x="196.8" y="403.1"/>
<use href="#c" x="197.2" y="409.4"/>
<use href="#x" x="197.2" y="401.4"/>
<use href="#x" x="197.3" y="385.8"/>
<use href="#x" x="197.4" y="413.3"/>
<use href="#x" x="197.6" y="377.3"/>
<use href="#x" x="197.6" y="410.4"/>
<use href="#x" x="197.6" y="366.7"/>
<use href="#x" x="197.7" y="385.9"/>
<use href="#x" x="197.7" y="376.0"/>
<use href="#x" x="197.8" y="385.9"/>
<use href="#x" x="197.9" y="396.0"/>
<use href="#c" x="198.0" y="354.0"/>
<use href="#x" x="198.0" y="412.9"/>
<use href="#c" x="198.1" y="409.2"/>
<use href="#x" x="198.2" y="349.1"/>
<use href="#x" x="198.2" y="377.7"/>
<use href="#c" x="198.3" y="359.9"/>
<use href="#x" x="198.4" y="357.5"/>
<use href="#c" x="198.4" y="412.0"/>
<use href="#x" x="198.5" y="353.2"/>
<use href="#x" x="198.5" y="397.0"/>
<use href="#x" x="198.6" y="352.0"/>
<use href="#x" x="198.7" y="369.3"/>
<use href="#x" x="198.9" y="413.5"/>
<use href="#x" x="198.9" y="395.8"/>
<use href="#c" x="199.0" y="409.9"/>
<use href="#x" x="199.1" y="396.9"/>
<use href="#x" x="199.2" y="406.7"/>
<use href="#x" x="199.2" y="408.6"/>
<use href="#x" x="199.2" y="405.9"/>
<use href="#x" x="199.4" y="407.9"/>
<use href="#x" x="199.6" y="367.7"/>
<use href="#x" x="199.6" y="394.0"/>
<use href="#x" x="199.8" y="388.7"/>
<use href="#c" x="200.1" y="390.9"/>
<use href="#x" x="200.1" y="401.8"/>
<use href="#c" x="200.1" y="411.7"/>
<use href="#x" x="200.3" y="401.1"/>
<use href="#x" x="200.3" y="410.7"/>
<use href="#c" x="200.3" y="375.9"/>
<use href="#x" x="200.4" y="397.9"/>
<use href="#c" x="200.5" y="394.5"/>
<use href="#x" x="200.6" y="374.3"/>
<use href="#x" x="200.6" y="400.3"/>
<use href="#c" x="200.6" y="413.6"/>
<use href="#x" x="200.6" y="377.3"/>
<use href="#x" x="200.7" y="364.3"/>
<use href="#x" x="200.9" y="400.9"/>
<use href="#x" x="201.0" y="383.4"/>
<use href="#x" x="201.2" y="394.6"/>
<use href="#c" x="201.2" y="396.0"/>
<use href="#c" x="201.4" y="396.7"/>
<use href="#x" x="201.4" y="407.7"/>
<use href="#x" x="201.6" y="386.2"/>
<use href="#x" x="201.8" y="374.7"/>
<use href="#x" x="201.8" y="364.6"/>
<use href="#c" x="201.9" y="413.4"/>
<use href="#x" x="201.9" y="384.3"/>
<use href="#x" x="201.9" y="411.6"/>
<use href="#x" x="202.1" y="399.4"/>
<use href="#x" x="202.1" y="401.6"/>
<use href="#x" x="202.2" y="374.2"/>
<use href="#x" x="202.2" y="396.5"/>
<use href="#x" x="202.3" y="376.0"/>
<use href="#x" x="202.4" y="335.8"/>
<use href="#x" x="202.7" y="410.6"/>
<use href="#x" x="202.9" y="412.8"/>
<use href="#x" x="202.9" y="377.9"/>
<use href="#x" x="203.0" y="388.7"/>
<use href="#c" x="203.0" y="383.9"/>
<use href="#x" x="203.1" y="377.9"/>
<use href="#x" x="203.1" y="391.8"/>
<use href="#x" x="203.1" y="380.0"/>
<use href="#x" x="203.3" y="406.6"/>
<use href="#c" x="203.4" y="362.3"/>
<use href="#x" x="203.5" y="374.4"/>
<use href="#x" x="203.8" y="412.1"/>
<use href="#x" x="203.9" y="412.3"/>
<use href="#c" x="204.0" y="387.2"/>
<use href="#x" x="204.0" y="413.4"/>
<use href="#x" x="204.0" y="399.5"/>
<use href="#c" x="204.1" y="410.2"/>
<use href="#x" x="204.1" y="396.8"/>
<use href="#x" x="204.3" y="395.0"/>
<use href="#x" x="204.4" y="366.5"/>
<use href="#x" x="204.4" y="407.0"/>
<use href="#x" x="204.5" y="372.4"/>
<use href="#x" x="204.5" y="345.0"/>
<use href="#x" x="204.5" y="382.1"/>
<use href="#x" x="204.6" y="406.6"/>
<use href="#c" x="204.6" y="412.6"/>
<use href="#c" x="204.7" y="409.1"/>
<use href="#c" x="204.8" y="396.8"/>
<use href="#x" x="204.9" y="397.9"/>
<use href="#c" x="205.0" y="410.7"/>
<use href="#x" x="205.0" y="396.0"/>
<use href="#x" x="205.1" y="413.4"/>
<use href="#x" x="205.3" y="387.8"/>
<use href="#x" x="205.3" y="381.9"/>
<use href="#x" x="205.6" y="373.3"/>
<use href="#x" x="205.7" y="372.4"/>
<use href="#x" x="205.8" y="372.7"/>
<use href="#x" x="205.8" y="363.9"/>
<use href="#x" x="206.0" y="412.2"/>
<use href="#x" x="206.0" y="408.2"/>
<use href="#x" x="206.1" y="373.3"/>
<use href="#x" x="206.2" y="412.2"/>
<use href="#x" x="206.2" y="382.4"/>
<use href="#x" x="206.2" y="383.7"/>
<use href="#c" x="206.2" y="412.8"/>
<use href="#c" x="206.4" y="380.9"/>
<use href="#x" x="206.5" y="372.8"/>
<use href="#c" x="206.5" y="368.0"/>
<use href="#c" x="206.5" y="413.5"/>
<use href="#x" x="206.5" y="385.8"/>
<use href="#x" x="206.7" y="376.1"/>
<use href="#x" x="206.8" y="413.5"/>
<use href="#x" x="206.9" y="378.2"/>
<use href="#x" x="206.9" y="389.6"/>
<use href="#x" x="207.0" y="410.2"/>
<use href="#x" x="207.0" y="404.9"/>
<use href="#x" x="207.2" y="343.8"/>
<use href="#x" x="207.2" y="404.1"/>
<use href="#x" x="207.3" y="370.1"/>
<use href="#x" x="207.3" y="397.4"/>
<use href="#x" x="207.4" y="392.5"/>
<use href="#x" x="207.8" y="395.7"/>
<use href="#x" x="207.9" y="402.0"/>
<use href="#x" x="208.0" y="375.4"/>
<use href="#x" x="208.0" y="386.1"/>
<use href="#x" x="208.1" y="368.3"/>
<use href="#x" x="208.2" y="412.3"/>
<use href="#x" x="208.3" y="382.3"/>
<use href="#c" x="208.3" y="386.1"/>
<use href="#x" x="208.4" y="360.7"/>
<use href="#x" x="208.4" y="393.1"/>
<use href="#c" x="208.5" y="369.4"/>
<use href="#x" x="208.5" y="402.9"/>
<use href="#c" x="208.5" y="399.8"/>
<use href="#x" x="208.7" y="371.9"/>
<use href="#x" x="208.7" y="396.7"/>
<use href="#c" x="208.8" y="385.1"/>
<use href="#x" x="208.9" y="387.2"/>
<use href="#x" x="209.0" y="411.4"/>
<use href="#x" x="209.1" y="408.5"/>
<use href="#x" x="209.1" y="398.7"/>
<use href="#x" x="209.1" y="372.2"/>
<use href="#x" x="209.1" y="385.3"/>
<use href="#x" x="209.1" y="413.1"/>
<use href="#x" x="209.3" y="411.6"/>
<use href="#x" x="209.5" y="359.6"/>
<use href="#x" x="209.5" y="413.4"/>
<use href="#c" x="209.6" y="362.1"/>
<use href="#c" x="209.6" y="374.1"/>
<use href="#x" x="209.8" y="413.2"/>
<use href="#x" x="209.9" y="403.0"/>
<use href="#x" x="209.9" y="382.7"/>
<use href="#x" x="209.9" y="400.6"/>
<use href="#c" x="210.1" y="384.3"/>
<use href="#x" x="210.1" y="413.6"/>
<use href="#x" x="210.2" y="408.5"/>
<use href="#c" x="210.2" y="411.8"/>
<use href="#x" x="210.4" y="387.1"/>
<use href="#x" x="210.4" y="374.2"/>
<use href="#x" x="210.4" y="361.2"/>
<use href="#x" x="210.5" y="400.5"/>
<use href="#x" x="210.5" y="413.5"/>
<use href="#x" x="210.5" y="367.3"/>
<use href="#x" x="210.5" y="355.0"/>
<use href="#x" x="210.9" y="371.6"/>
<use href="#c" x="210.9" y="412.5"/>
<use href="#x" x="211.0" y="395.1"/>
<use href="#x" x="211.2" y="400.6"/>
<use href="#x" x="211.2" y="401.7"/>
<use href="#x" x="211.2" y="395.2"/>
<use href="#x" x="211.3" y="394.6"/>
<use href="#x" x="211.3" y="399.8"/>
<use href="#x" x="211.3" y="375.2"/>
<use href="#x" x="211.3" y="368.6"/>
<use href="#x" x="212.0" y="392.9"/>
<use href="#x" x="212.0" y="373.4"/>
<use href="#x" x="212.1" y="408.1"/>
<use href="#x" x="212.1" y="399.9"/>
<use href="#x" x="212.2" y="390.5"/>
<use href="#x" x="212.2" y="390.0"/>
<use href="#x" x="212.2" y="399.2"/>
<use href="#c" x="212.4" y="380.4"/>
<use href="#x" x="212.4" y="392.4"/>
<use href="#c" x="212.4" y="391.4"/>
<use href="#c" x="212.4" y="366.4"/>
<use href="#x" x="212.4" y="367.3"/>
<use href="#x" x="212.7" y="372.9"/>
<use href="#x" x="212.8" y="389.5"/>
<use href="#c" x="212.9" y="386.0"/>
<use href="#x" x="212.9" y="397.3"/>
<use href="#x" x="212.9" y="412.6"/>
<use href="#x" x="212.9" y="405.1"/>
<use href="#x" x="213.0" y="390.7"/>
<use href="#x" x="213.1" y="397.9"/>
<use href="#x" x="213.1" y="371.0"/>
<use href="#x" x="213.2" y="404.6"/>
<use href="#x" x="213.3" y="390.3"/>
<use href="#x" x="213.3" y="374.4"/>
<use href="#c" x="213.3" y="380.0"/>
<use href="#x" x="213.6" y="382.8"/>
<use href="#x" x="213.6" y="412.6"/>
<use href="#x" x="213.7" y="385.6"/>
<use href="#x" x="213.8" y="409.7"/>
<use href="#x" x="213.9" y="368.4"/>
<use href="#c" x="213.9" y="413.2"/>
<use href="#x" x="214.0" y="363.8"/>
<use href="#x" x="214.0" y="379.3"/>
<use href="#x" x="214.0" y="412.8"/>
<use href="#x" x="214.3" y="384.8"/>
<use href="#x" x="214.4" y="411.3"/>
<use href="#c" x="214.4" y="412.5"/>
<use href="#x" x="214.5" y="402.7"/>
<use href="#x" x="214.6" y="380.7"/>
<use href="#x" x="214.6" y="406.9"/>
<use href="#c" x="214.6" y="389.9"/>
<use href="#x" x="214.6" y="362.0"/>
<use href="#x" x="214.7" y="407.5"/>
<use href="#x" x="214.8" y="376.0"/>
<use href="#x" x="214.8" y="376.7"/>
<use href="#x" x="214.8" y="398.1"/>
<use href="#x" x="215.0" y="371.7"/>
<use href="#c" x="215.0" y="388.6"/>
<use href="#x" x="215.0" y="393.4"/>
<use href="#x" x="215.4" y="405.7"/>
<use href="#c" x="215.4" y="404.8"/>
<use href="#x" x="215.5" y="392.4"/>
<use href="#c" x="215.6" y="413.4"/>
<use href="#c" x="215.6" y="385.3"/>
<use href="#x" x="215.7" y="369.1"/>
<use href="#x" x="215.7" y="412.2"/>
<use href="#x" x="215.8" y="374.9"/>
<use href="#x" x="216.0" y="401.6"/>
<use href="#x" x="216.0" y="408.0"/>
<use href="#x" x="216.1" y="389.7"/>
<use href="#x" x="216.4" y="375.2"/>
<use href="#x" x="216.4" y="376.4"/>
<use href="#x" x="216.4" y="394.6"/>
<use href="#c" x="216.5" y="413.4"/>
<use href="#x" x="216.5" y="362.8"/>
<use href="#c" x="216.6" y="412.6"/>
<use href="#x" x="216.6" y="403.9"/>
<use href="#c" x="216.6" y="404.5"/>
<use href="#x" x="216.6" y="378.3"/>
<use href="#c" x="216.9" y="382.1"/>
<use href="#x" x="216.9" y="395.9"/>
<use href="#x" x="217.2" y="358.1"/>
<use href="#x" x="217.2" y="367.9"/>
<use href="#x" x="217.3" y="384.1"/>
<use href="#x" x="217.3" y="376.5"/>
<use href="#x" x="217.3" y="380.4"/>
<use href="#x" x="217.4" y="396.2"/>
<use href="#x" x="217.5" y="402.9"/>
<use href="#x" x="217.5" y="368.0"/>
<use href="#x" x="217.5" y="371.9"/>
<use href="#x" x="217.5" y="370.6"/>
<use href="#x" x="217.6" y="374.9"/>
<use href="#c" x="217.7" y="366.8"/>
<use href="#x" x="217.8" y="384.8"/>
<use href="#x" x="217.8" y="393.2"/>
<use href="#c" x="217.9" y="321.9"/>
<use href="#x" x="218.1" y="396.2"/>
<use href="#c" x="218.1" y="406.0"/>
<use href="#x" x="218.2" y="357.7"/>
<use href="#x" x="218.2" y="372.8"/>
<use href="#x" x="218.3" y="345.6"/>
<use href="#x" x="218.3" y="383.5"/>
<use href="#x" x="218.3" y="400.2"/>
<use href="#x" x="218.4" y="370.1"/>
<use href="#c" x="218.6" y="411.5"/>
<use href="#c" x="218.9" y="367.1"/>
<use href="#x" x="219.0" y="381.1"/>
<use href="#c" x="219.0" y="412.8"/>
<use href="#x" x="219.0" y="384.6"/>
<use href="#x" x="219.1" y="390.5"/>
<use href="#c" x="219.1" y="406.3"/>
<use href="#x" x="219.2" y="408.3"/>
<use href="#x" x="219.2" y="383.7"/>
<use href="#c" x="219.2" y="409.2"/>
<use href="#x" x="219.3" y="364.3"/>
<use href="#x" x="219.3" y="386.1"/>
<use href="#x" x="219.4" y="386.0"/>
<use href="#x" x="219.5" y="400.0"/>
<use href="#x" x="219.5" y="372.4"/>
<use href="#x" x="219.6" y="377.7"/>
<use href="#x" x="219.7" y="407.6"/>
<use href="#x" x="219.7" y="358.9"/>
<use href="#x" x="219.8" y="410.5"/>
<use href="#c" x="219.8" y="389.4"/>
<use href="#x" x="219.9" y="412.3"/>
<use href="#x" x="220.0" y="401.5"/>
<use href="#x" x="220.2" y="399.1"/>
<use href="#x" x="220.3" y="410.9"/>
<use href="#c" x="220.3" y="394.9"/>
<use href="#x" x="220.3" y="381.7"/>
<use href="#c" x="220.4" y="409.5"/>
<use href="#x" x="220.6" y="375.3"/>
<use href="#x" x="220.7" y="374.9"/>
<use href="#c" x="220.8" y="391.1"/>
<use href="#x" x="220.8" y="374.8"/>
<use href="#x" x="220.9" y="412.5"/>
<use href="#x" x="221.1" y="408.8"/>
<use href="#x" x="221.1" y="376.2"/>
<use href="#x" x="221.2" y="409.4"/>
<use href="#x" x="221.2" y="378.4"/>
<use href="#x" x="221.3" y="413.1"/>
<use href="#c" x="221.3" y="400.9"/>
<use href="#x" x="221.4" y="365.6"/>
<use href="#x" x="221.5" y="370.8"/>
<use href="#x" x="221.6" y="413.4"/>
<use href="#x" x="221.6" y="395.9"/>
<use href="#x" x="221.6" y="362.3"/>
<use href="#x" x="221.6" y="412.6"/>
<use href="#x" x="221.7" y="407.1"/>
<use href="#x" x="221.7" y="403.0"/>
<use href="#x" x="221.9" y="382.7"/>
<use href="#x" x="221.9" y="399.9"/>
<use href="#x" x="222.1" y="358.4"/>
<use href="#x" x="222.2" y="404.3"/>
<use href="#x" x="222.2" y="397.1"/>
<use href="#x" x="222.3" y="413.4"/>
<use href="#c" x="222.4" y="388.9"/>
<use href="#c" x="222.4" y="390.9"/>
<use href="#c" x="222.4" y="370.4"/>
<use href="#x" x="222.6" y="380.1"/>
<use href="#x" x="222.6" y="412.6"/>
<use href="#x" x="222.8" y="396.8"/>
<use href="#c" x="222.8" y="388.4"/>
<use href="#x" x="223.0" y="374.3"/>
<use href="#x" x="223.0" y="340.0"/>
<use href="#x" x="223.0" y="363.5"/>
<use href="#x" x="223.0" y="394.2"/>
<use href="#x" x="223.1" y="412.1"/>
<use href="#x" x="223.2" y="377.6"/>
<use href="#x" x="223.2" y="410.4"/>
<use href="#x" x="223.2" y="402.4"/>
<use href="#x" x="223.2" y="395.0"/>
<use href="#x" x="223.3" y="381.3"/>
<use href="#x" x="223.6" y="369.4"/>
<use href="#x" x="223.7" y="398.2"/>
<use href="#x" x="223.7" y="412.6"/>
<use href="#x" x="223.8" y="410.2"/>
<use href="#x" x="223.9" y="410.5"/>
<use href="#x" x="223.9" y="399.4"/>
<use href="#x" x="223.9" y="390.4"/>
<use href="#x" x="223.9" y="385.1"/>
<use href="#c" x="224.1" y="392.5"/>
<use href="#x" x="224.2" y="384.2"/>
<use href="#x" x="224.4" y="400.5"/>
<use href="#c" x="224.5" y="382.6"/>
<use href="#x" x="224.5" y="362.5"/>
<use href="#x" x="224.5" y="400.1"/>
<use href="#c" x="224.5" y="395.0"/>
<use href="#x" x="224.6" y="373.1"/>
<use href="#x" x="224.8" y="372.6"/>
<use href="#x" x="224.9" y="399.5"/>
<use href="#x" x="225.0" y="410.1"/>
<use href="#x" x="225.1" y="367.5"/>
<use href="#c" x="225.1" y="413.2"/>
<use href="#x" x="225.2" y="398.0"/>
<use href="#x" x="225.2" y="400.1"/>
<use href="#x" x="225.2" y="376.2"/>
<use href="#x" x="225.3" y="372.7"/>
<use href="#c" x="225.4" y="395.4"/>
<use href="#x" x="225.5" y="376.8"/>
<use href="#x" x="225.6" y="383.6"/>
<use href="#x" x="225.6" y="386.2"/>
<use href="#x" x="225.7" y="400.6"/>
<use href="#x" x="225.7" y="363.5"/>
<use href="#x" x="225.7" y="402.3"/>
<use href="#x" x="225.7" y="401.0"/>
<use href="#x" x="225.9" y="371.3"/>
<use href="#x" x="226.0" y="373.0"/>
<use href="#x" x="226.0" y="409.5"/>
<use href="#c" x="226.1" y="373.6"/>
<use href="#x" x="226.2" y="412.9"/>
<use href="#x" x="226.3" y="383.2"/>
<use href="#x" x="226.3" y="393.4"/>
<use href="#x" x="226.4" y="358.5"/>
<use href="#x" x="226.6" y="409.4"/>
<use href="#x" x="226.6" y="368.3"/>
<use href="#x" x="226.7" y="395.1"/>
<use href="#x" x="226.8" y="392.3"/>
<use href="#x" x="226.8" y="382.9"/>
<use href="#x" x="226.9" y="391.1"/>
<use href="#c" x="226.9" y="409.8"/>
<use href="#x" x="227.0" y="362.5"/>
<use href="#x" x="227.0" y="311.3"/>
<use href="#x" x="227.1" y="412.0"/>
<use href="#x" x="227.2" y="406.6"/>
<use href="#x" x="227.3" y="379.3"/>
<use href="#x" x="227.4" y="409.2"/>
<use href="#x" x="227.4" y="380.3"/>
<use href="#c" x="227.5" y="412.2"/>
<use href="#x" x="227.6" y="387.6"/>
<use href="#x" x="227.7" y="372.7"/>
<use href="#x" x="227.7" y="383.4"/>
<use href="#x" x="227.7" y="403.3"/>
<use href="#x" x="227.8" y="364.0"/>
<use href="#x" x="227.8" y="402.2"/>
<use href="#x" x="228.0" y="413.1"/>
<use href="#x" x="228.1" y="389.5"/>
<use href="#c" x="228.2" y="402.8"/>
<use href="#x" x="228.2" y="395.9"/>
<use href="#x" x="228.3" y="396.9"/>
<use href="#x" x="228.4" y="373.4"/>
<use href="#x" x="228.4" y="401.2"/>
<use href="#x" x="228.6" y="362.0"/>
<use href="#c" x="228.6" y="392.7"/>
<use href="#c" x="228.7" y="361.1"/>
<use href="#x" x="228.8" y="363.4"/>
<use href="#x" x="229.0" y="379.0"/>
<use href="#x" x="229.0" y="375.5"/>
<use href="#x" x="229.1" y="404.1"/>
<use href="#c" x="229.1" y="407.5"/>
<use href="#x" x="229.2" y="395.1"/>
<use href="#x" x="229.2" y="412.9"/>
<use href="#x" x="229.2" y="404.6"/>
<use href="#x" x="229.2" y="361.8"/>
<use href="#x" x="229.3" y="387.9"/>
<use href="#x" x="229.4" y="391.9"/>
<use href="#x" x="229.6" y="407.0"/>
<use href="#x" x="229.7" y="408.9"/>
<use href="#x" x="229.8" y="395.1"/>
<use href="#x" x="229.9" y="406.0"/>
<use href="#x" x="230.0" y="396.5"/>
<use href="#x" x="230.0" y="402.2"/>
<use href="#x" x="230.0" y="381.9"/>
<use href="#c" x="230.1" y="404.9"/>
<use href="#x" x="230.2" y="366.1"/>
<use href="#x" x="230.3" y="385.0"/>
<use href="#x" x="230.3" y="409.1"/>
<use href="#x" x="230.4" y="381.1"/>
<use href="#x" x="230.6" y="367.3"/>
<use href="#x" x="230.7" y="408.1"/>
<use href="#x" x="230.7" y="369.0"/>
<use href="#x" x="230.7" y="388.8"/>
<use href="#x" x="230.8" y="398.3"/>
<use href="#x" x="230.8" y="410.9"/>
<use href="#x" x="230.8" y="413.2"/>
<use href="#x" x="230.9" y="379.6"/>
<use href="#x" x="230.9" y="407.2"/>
<use href="#x" x="231.0" y="355.0"/>
<use href="#c" x="231.2" y="405.2"/>
<use href="#c" x="231.2" y="394.0"/>
<use href="#c" x="231.3" y="385.3"/>
<use href="#c" x="231.4" y="388.0"/>
<use href="#x" x="231.5" y="401.6"/>
<use href="#x" x="231.8" y="389.4"/>
<use href="#x" x="231.8" y="410.4"/>
<use href="#x" x="231.8" y="395.7"/>
<use href="#x" x="231.9" y="404.4"/>
<use href="#x" x="231.9" y="367.5"/>
<use href="#x" x="231.9" y="386.1"/>
<use href="#c" x="232.0" y="412.2"/>
<use href="#c" x="232.0" y="409.9"/>
<use href="#x" x="232.1" y="386.5"/>
<use href="#x" x="232.1" y="386.0"/>
<use href="#x" x="232.3" y="408.2"/>
<use href="#x" x="232.4" y="383.7"/>
<use href="#x" x="232.4" y="375.3"/>
<use href="#x" x="232.5" y="399.9"/>
<use href="#x" x="232.6" y="363.3"/>
<use href="#x" x="232.6" y="412.5"/>
<use href="#c" x="232.6" y="405.4"/>
<use href="#x" x="232.8" y="396.9"/>
<use href="#x" x="232.8" y="405.4"/>
<use href="#x" x="232.9" y="406.4"/>
<use href="#c" x="233.1" y="380.0"/>
<use href="#c" x="233.2" y="403.9"/>
<use href="#x" x="233.3" y="387.5"/>
<use href="#x" x="233.3" y="360.4"/>
<use href="#c" x="233.4" y="413.1"/>
<use href="#x" x="233.4" y="380.0"/>
<use href="#x" x="233.4" y="385.8"/>
<use href="#x" x="233.5" y="373.0"/>
<use href="#c" x="233.5" y="412.8"/>
<use href="#x" x="233.7" y="365.6"/>
<use href="#c" x="233.7" y="410.3"/>
<use href="#x" x="233.8" y="366.2"/>
<use href="#x" x="233.9" y="402.7"/>
<use href="#c" x="234.1" y="398.3"/>
<use href="#x" x="234.1" y="405.8"/>
<use href="#x" x="234.4" y="387.1"/>
<use href="#x" x="234.4" y="403.0"/>
<use href="#x" x="234.4" y="366.6"/>
<use href="#x" x="234.5" y="378.1"/>
<use href="#x" x="234.5" y="409.9"/>
<use href="#x" x="234.7" y="388.6"/>
<use href="#c" x="234.8" y="362.8"/>
<use href="#x" x="234.9" y="372.2"/>
<use href="#x" x="234.9" y="407.7"/>
<use href="#x" x="235.0" y="396.5"/>
<use href="#x" x="235.0" y="395.7"/>
<use href="#c" x="235.1" y="399.1"/>
<use href="#x" x="235.2" y="380.5"/>
<use href="#x" x="235.2" y="387.3"/>
<use href="#x" x="235.3" y="410.7"/>
<use href="#x" x="235.4" y="399.9"/>
<use href="#c" x="235.4" y="342.6"/>
<use href="#x" x="235.5" y="400.3"/>
<use href="#x" x="235.5" y="388.8"/>
<use href="#x" x="235.5" y="405.2"/>
<use href="#x" x="235.6" y="412.2"/>
<use href="#x" x="235.6" y="369.5"/>
<use href="#x" x="235.6" y="412.7"/>
<use href="#x" x="235.7" y="403.9"/>
<use href="#c" x="235.8" y="412.9"/>
<use href="#c" x="235.8" y="385.5"/>
<use href="#c" x="235.8" y="411.3"/>
<use href="#c" x="235.8" y="407.4"/>
<use href="#x" x="235.8" y="382.0"/>
<use href="#x" x="235.9" y="340.8"/>
<use href="#x" x="235.9" y="377.6"/>
<use href="#x" x="235.9" y="366.9"/>
<use href="#c" x="236.0" y="375.3"/>
<use href="#x" x="236.5" y="397.6"/>
<use href="#x" x="236.7" y="410.8"/>
<use href="#x" x="236.8" y="384.5"/>
<use href="#x" x="236.8" y="380.5"/>
<use href="#x" x="236.9" y="402.6"/>
<use href="#x" x="237.0" y="388.7"/>
<use href="#x" x="237.0" y="386.5"/>
<use href="#x" x="237.1" y="393.5"/>
<use href="#x" x="237.1" y="396.6"/>
<use href="#x" x="237.1" y="413.6"/>
<use href="#x" x="237.2" y="405.1"/>
<use href="#c" x="237.4" y="412.3"/>
<use href="#x" x="237.5" y="368.7"/>
<use href="#x" x="237.6" y="375.5"/>
<use href="#x" x="237.7" y="402.9"/>
<use href="#x" x="237.8" y="413.1"/>
<use href="#x" x="237.8" y="412.0"/>
<use href="#x" x="237.9" y="380.3"/>
<use href="#x" x="238.0" y="411.4"/>
<use href="#c" x="238.1" y="395.7"/>
<use href="#x" x="238.2" y="413.2"/>
<use href="#x" x="238.2" y="399.3"/>
<use href="#x" x="238.2" y="413.0"/>
<use href="#x" x="238.2" y="365.2"/>
<use href="#x" x="238.3" y="405.1"/>
<use href="#x" x="238.3" y="411.9"/>
<use href="#c" x="238.6" y="409.0"/>
<use href="#c" x="238.7" y="363.8"/>
<use href="#x" x="238.7" y="381.5"/>
<use href="#x" x="238.9" y="410.3"/>
<use href="#x" x="239.0" y="371.6"/>
<use href="#x" x="239.0" y="374.9"/>
<use href="#x" x="239.0" y="383.4"/>
<use href="#x" x="239.2" y="380.8"/>
<use href="#x" x="239.4" y="387.7"/>
<use href="#x" x="239.4" y="387.6"/>
<use href="#x" x="239.5" y="394.9"/>
<use href="#x" x="239.8" y="405.5"/>
<use href="#x" x="239.8" y="398.6"/>
<use href="#x" x="239.9" y="411.6"/>
<use href="#x" x="239.9" y="411.7"/>
<use href="#x" x="240.0" y="374.2"/>
<use href="#x" x="240.0" y="276.0"/>
<use href="#c" x="240.1" y="383.6"/>
<use href="#x" x="240.1" y="382.2"/>
<use href="#x" x="240.2" y="413.5"/>
<use href="#x" x="240.3" y="384.0"/>
<use href="#x" x="240.4" y="368.6"/>
<use href="#x" x="240.5" y="386.8"/>
<use href="#x" x="240.6" y="385.3"/>
<use href="#x" x="240.7" y="386.3"/>
<use href="#x" x="241.0" y="383.6"/>
<use href="#x" x="241.0" y="390.0"/>
<use href="#x" x="241.1" y="375.7"/>
<use href="#x" x="241.1" y="384.3"/>
<use href="#x" x="241.1" y="413.0"/>
<use href="#x" x="241.2" y="397.6"/>
<use href="#x" x="241.3" y="394.6"/>
<use href="#x" x="241.4" y="401.5"/>
<use href="#x" x="241.7" y="400.0"/>
<use href="#x" x="241.7" y="374.5"/>
<use href="#x" x="241.7" y="386.2"/>
<use href="#x" x="241.8" y="408.4"/>
<use href="#x" x="241.8" y="412.4"/>
<use href="#x" x="241.9" y="386.2"/>
<use href="#x" x="242.0" y="410.2"/>
<use href="#c" x="242.0" y="399.5"/>
<use href="#x" x="242.2" y="402.6"/>
<use href="#x" x="242.5" y="411.5"/>
<use href="#c" x="242.6" y="368.4"/>
<use href="#c" x="242.7" y="402.8"/>
<use href="#x" x="242.9" y="398.6"/>
<use href="#c" x="243.0" y="401.7"/>
<use href="#x" x="243.0" y="405.2"/>
<use href="#c" x="243.1" y="380.8"/>
<use href="#x" x="243.2" y="383.6"/>
<use href="#x" x="243.2" y="406.3"/>
<use href="#c" x="243.5" y="395.1"/>
<use href="#x" x="243.6" y="383.2"/>
<use href="#x" x="243.7" y="387.3"/>
<use href="#c" x="243.8" y="413.1"/>
<use href="#x" x="244.0" y="385.2"/>
<use href="#x" x="244.0" y="408.3"/>
<use href="#x" x="244.3" y="398.7"/>
<use href="#x" x="244.3" y="402.8"/>
<use href="#c" x="244.4" y="391.5"/>
<use href="#x" x="244.5" y="410.9"/>
<use href="#x" x="244.6" y="411.9"/>
<use href="#x" x="244.7" y="393.8"/>
<use href="#c" x="244.8" y="388.5"/>
<use href="#x" x="245.0" y="413.1"/>
<use href="#x" x="245.1" y="385.7"/>
<use href="#c" x="245.3" y="404.5"/>
<use href="#x" x="245.3" y="384.2"/>
<use href="#x" x="245.4" y="392.2"/>
<use href="#x" x="245.5" y="381.1"/>
<use href="#x" x="245.5" y="403.3"/>
<use href="#c" x="245.6" y="402.9"/>
<use href="#c" x="245.6" y="384.6"/>
<use href="#x" x="245.9" y="408.6"/>
<use href="#c" x="246.0" y="338.0"/>
<use href="#x" x="246.0" y="268.0"/>
<use href="#x" x="246.1" y="406.2"/>
<use href="#x" x="246.2" y="412.1"/>
<use href="#x" x="246.3" y="406.1"/>
<use href="#x" x="246.3" y="406.9"/>
<use href="#c" x="246.4" y="411.4"/>
<use href="#x" x="246.6" y="401.0"/>
<use href="#c" x="246.6" y="405.3"/>
<use href="#x" x="246.6" y="412.6"/>
<use href="#x" x="246.8" y="378.9"/>
<use href="#x" x="247.0" y="394.7"/>
<use href="#x" x="247.0" y="396.6"/>
<use href="#x" x="247.0" y="391.4"/>
<use href="#x" x="247.2" y="381.8"/>
<use href="#x" x="247.2" y="398.3"/>
<use href="#x" x="247.5" y="413.0"/>
<use href="#x" x="247.5" y="412.2"/>
<use href="#x" x="247.6" y="394.1"/>
<use href="#x" x="247.8" y="409.9"/>
<use href="#x" x="247.9" y="402.8"/>
<use href="#x" x="248.2" y="386.0"/>
<use href="#x" x="248.2" y="409.8"/>
<use href="#x" x="248.2" y="389.4"/>
<use href="#x" x="248.3" y="410.2"/>
<use href="#c" x="248.4" y="412.3"/>
<use href="#x" x="248.4" y="380.7"/>
<use href="#x" x="248.5" y="398.7"/>
<use href="#x" x="248.6" y="392.3"/>
<use href="#x" x="248.7" y="301.9"/>
<use href="#x" x="248.8" y="397.0"/>
<use href="#x" x="248.8" y="400.8"/>
<use href="#x" x="248.9" y="398.0"/>
<use href="#x" x="249.0" y="397.5"/>
<use href="#x" x="249.0" y="387.3"/>
<use href="#x" x="249.4" y="406.3"/>
<use href="#x" x="249.4" y="381.2"/>
<use href="#x" x="249.5" y="272.0"/>
<use href="#c" x="249.6" y="412.7"/>
<use href="#x" x="249.7" y="413.6"/>
<use href="#x" x="249.8" y="387.9"/>
<use href="#x" x="249.9" y="398.2"/>
<use href="#x" x="250.0" y="349.9"/>
<use href="#x" x="250.1" y="406.8"/>
<use href="#x" x="250.3" y="375.1"/>
<use href="#x" x="250.3" y="407.4"/>
<use href="#x" x="250.4" y="406.1"/>
<use href="#x" x="250.5" y="390.6"/>
<use href="#x" x="250.6" y="410.7"/>
<use href="#x" x="250.7" y="296.5"/>
<use href="#x" x="250.8" y="413.5"/>
<use href="#x" x="250.8" y="384.9"/>
<use href="#c" x="251.0" y="412.0"/>
<use href="#x" x="251.0" y="412.1"/>
<use href="#x" x="251.0" y="397.8"/>
<use href="#x" x="251.1" y="411.9"/>
<use href="#x" x="251.2" y="290.6"/>
<use href="#x" x="251.2" y="410.9"/>
<use href="#x" x="251.2" y="409.1"/>
<use href="#x" x="251.3" y="375.0"/>
<use href="#x" x="251.8" y="355.3"/>
<use href="#x" x="251.9" y="411.2"/>
<use href="#x" x="252.2" y="386.3"/>
<use href="#x" x="252.2" y="393.0"/>
<use href="#x" x="252.2" y="384.8"/>
<use href="#x" x="252.2" y="350.6"/>
<use href="#x" x="252.3" y="361.2"/>
<use href="#x" x="252.5" y="413.3"/>
<use href="#x" x="252.7" y="387.1"/>
<use href="#x" x="252.9" y="387.6"/>
<use href="#x" x="252.9" y="407.9"/>
<use href="#x" x="252.9" y="349.2"/>
<use href="#x" x="253.3" y="402.1"/>
<use href="#x" x="253.3" y="412.9"/>
<use href="#x" x="253.4" y="408.8"/>
<use href="#x" x="253.9" y="400.0"/>
<use href="#x" x="254.0" y="392.3"/>
<use href="#x" x="254.1" y="395.1"/>
<use href="#x" x="254.3" y="377.3"/>
<use href="#x" x="254.4" y="405.3"/>
<use href="#x" x="254.4" y="407.2"/>
<use href="#x" x="254.5" y="285.9"/>
<use href="#x" x="254.5" y="378.0"/>
<use href="#x" x="254.7" y="412.5"/>
<use href="#x" x="254.8" y="387.1"/>
<use href="#x" x="254.8" y="377.3"/>
<use href="#x" x="254.8" y="409.1"/>
<use href="#x" x="255.1" y="304.6"/>
<use href="#x" x="255.1" y="330.9"/>
<use href="#c" x="255.1" y="413.5"/>
<use href="#x" x="255.3" y="412.9"/>
<use href="#x" x="255.5" y="404.6"/>
<use href="#x" x="255.8" y="412.7"/>
<use href="#x" x="255.8" y="344.1"/>
<use href="#x" x="255.8" y="354.1"/>
<use href="#x" x="255.9" y="285.0"/>
<use href="#x" x="255.9" y="344.1"/>
<use href="#x" x="256.0" y="410.4"/>
<use href="#x" x="256.1" y="386.7"/>
<use href="#x" x="256.2" y="413.3"/>
<use href="#x" x="256.2" y="376.6"/>
<use href="#x" x="256.3" y="290.6"/>
<use href="#x" x="256.3" y="405.0"/>
<use href="#x" x="256.5" y="409.0"/>
<use href="#x" x="256.5" y="350.4"/>
<use href="#x" x="256.5" y="413.2"/>
<use href="#x" x="256.6" y="341.5"/>
<use href="#x" x="256.6" y="408.8"/>
<use href="#x" x="256.8" y="298.1"/>
<use href="#x" x="256.9" y="406.8"/>
<use href="#x" x="257.1" y="404.1"/>
<use href="#x" x="257.3" y="410.4"/>
<use href="#x" x="257.3" y="377.3"/>
<use href="#x" x="257.4" y="385.8"/>
<use href="#x" x="257.5" y="384.8"/>
<use href="#x" x="257.6" y="391.1"/>
<use href="#x" x="257.7" y="383.4"/>
<use href="#x" x="257.7" y="341.0"/>
<use href="#x" x="257.7" y="408.2"/>
<use href="#x" x="257.9" y="407.4"/>
<use href="#x" x="258.1" y="291.8"/>
<use href="#x" x="258.2" y="296.5"/>
<use href="#x" x="258.3" y="403.4"/>
<use href="#c" x="258.3" y="413.1"/>
<use href="#x" x="258.5" y="412.4"/>
<use href="#x" x="258.6" y="398.2"/>
<use href="#x" x="258.7" y="383.6"/>
<use href="#x" x="258.8" y="413.0"/>
<use href="#x" x="258.8" y="403.7"/>
<use href="#x" x="258.9" y="412.2"/>
<use href="#x" x="259.0" y="400.9"/>
<use href="#x" x="259.3" y="316.5"/>
<use href="#x" x="259.4" y="413.2"/>
<use href="#x" x="259.4" y="410.1"/>
<use href="#x" x="259.7" y="313.4"/>
<use href="#x" x="259.7" y="403.4"/>
<use href="#x" x="259.8" y="400.7"/>
<use href="#x" x="259.8" y="412.5"/>
<use href="#x" x="260.0" y="317.7"/>
<use href="#x" x="260.3" y="411.6"/>
<use href="#x" x="260.3" y="376.1"/>
<use href="#x" x="260.3" y="405.3"/>
<use href="#x" x="260.4" y="400.9"/>
<use href="#x" x="260.4" y="399.6"/>
<use href="#x" x="260.4" y="392.9"/>
<use href="#x" x="260.5" y="403.6"/>
<use href="#x" x="260.6" y="379.3"/>
<use href="#x" x="260.6" y="386.5"/>
<use href="#x" x="260.7" y="385.8"/>
<use href="#x" x="260.7" y="398.1"/>
<use href="#c" x="260.8" y="412.6"/>
<use href="#x" x="260.9" y="374.0"/>
<use href="#x" x="260.9" y="302.1"/>
<use href="#x" x="261.1" y="404.2"/>
<use href="#x" x="261.2" y="411.1"/>
<use href="#x" x="261.3" y="393.3"/>
<use href="#x" x="261.4" y="401.6"/>
<use href="#x" x="261.4" y="377.3"/>
<use href="#x" x="261.6" y="399.9"/>
<use href="#x" x="261.9" y="406.2"/>
<use href="#x" x="261.9" y="407.7"/>
<use href="#x" x="262.0" y="352.8"/>
<use href="#x" x="262.0" y="397.3"/>
<use href="#x" x="262.1" y="401.4"/>
<use href="#x" x="262.5" y="399.4"/>
<use href="#x" x="262.5" y="317.5"/>
<use href="#c" x="262.5" y="413.0"/>
<use href="#x" x="262.7" y="400.3"/>
<use href="#x" x="262.9" y="345.9"/>
<use href="#x" x="262.9" y="409.6"/>
<use href="#x" x="262.9" y="382.4"/>
<use href="#x" x="263.0" y="313.0"/>
<use href="#x" x="263.1" y="318.2"/>
<use href="#x" x="263.4" y="377.5"/>
<use href="#x" x="263.4" y="385.5"/>
<use href="#x" x="263.4" y="344.5"/>
<use href="#x" x="263.5" y="412.2"/>
<use href="#x" x="263.6" y="319.2"/>
<use href="#x" x="263.8" y="380.5"/>
<use href="#x" x="263.9" y="401.1"/>
<use href="#c" x="264.0" y="413.6"/>
<use href="#x" x="264.1" y="396.2"/>
<use href="#x" x="264.1" y="398.0"/>
<use href="#x" x="264.2" y="412.6"/>
<use href="#x" x="264.3" y="383.2"/>
<use href="#x" x="264.4" y="312.1"/>
<use href="#x" x="264.5" y="348.0"/>
<use href="#c" x="264.5" y="412.4"/>
<use href="#x" x="264.7" y="407.3"/>
<use href="#x" x="264.7" y="408.5"/>
<use href="#x" x="264.7" y="322.9"/>
<use href="#x" x="264.9" y="350.7"/>
<use href="#x" x="265.0" y="312.0"/>
<use href="#x" x="265.0" y="379.3"/>
<use href="#x" x="265.0" y="380.6"/>
<use href="#x" x="265.1" y="391.1"/>
<use href="#x" x="265.2" y="407.8"/>
<use href="#x" x="265.3" y="402.1"/>
<use href="#x" x="265.4" y="408.3"/>
<use href="#x" x="265.5" y="374.3"/>
<use href="#x" x="265.6" y="404.5"/>
<use href="#x" x="265.7" y="402.8"/>
<use href="#x" x="265.9" y="393.1"/>
<use href="#x" x="266.0" y="408.6"/>
<use href="#x" x="266.1" y="408.3"/>
<use href="#c" x="266.2" y="399.8"/>
<use href="#x" x="266.3" y="381.0"/>
<use href="#c" x="266.4" y="413.2"/>
<use href="#x" x="266.5" y="319.0"/>
<use href="#x" x="266.5" y="389.2"/>
<use href="#x" x="266.7" y="407.4"/>
<use href="#x" x="266.9" y="406.2"/>
<use href="#x" x="266.9" y="315.3"/>
<use href="#x" x="267.4" y="403.0"/>
<use href="#x" x="267.5" y="379.0"/>
<use href="#x" x="267.5" y="379.6"/>
<use href="#x" x="267.6" y="389.1"/>
<use href="#x" x="267.8" y="321.1"/>
<use href="#x" x="267.9" y="400.0"/>
<use href="#x" x="267.9" y="315.8"/>
<use href="#x" x="268.1" y="408.7"/>
<use href="#c" x="268.1" y="412.5"/>
<use href="#x" x="268.3" y="407.3"/>
<use href="#x" x="268.4" y="402.8"/>
<use href="#x" x="268.7" y="410.0"/>
<use href="#x" x="268.7" y="402.3"/>
<use href="#x" x="268.8" y="394.8"/>
<use href="#x" x="268.8" y="410.2"/>
<use href="#x" x="269.1" y="312.3"/>
<use href="#x" x="269.1" y="402.1"/>
<use href="#x" x="269.3" y="393.7"/>
<use href="#x" x="269.3" y="406.3"/>
<use href="#x" x="269.4" y="406.0"/>
<use href="#x" x="269.5" y="412.5"/>
<use href="#x" x="269.5" y="403.4"/>
<use href="#x" x="269.7" y="344.2"/>
<use href="#x" x="269.7" y="378.0"/>
<use href="#c" x="269.7" y="412.1"/>
<use href="#x" x="269.8" y="411.0"/>
<use href="#x" x="269.8" y="313.7"/>
<use href="#x" x="269.9" y="413.1"/>
<use href="#x" x="270.0" y="405.7"/>
<use href="#x" x="270.2" y="401.8"/>
<use href="#x" x="270.3" y="404.9"/>
<use href="#x" x="270.6" y="410.0"/>
<use href="#x" x="270.7" y="412.3"/>
<use href="#x" x="270.8" y="382.9"/>
<use href="#x" x="271.0" y="400.3"/>
<use href="#x" x="271.3" y="409.2"/>
<use href="#x" x="271.3" y="376.5"/>
<use href="#x" x="271.3" y="379.2"/>
<use href="#x" x="271.4" y="312.5"/>
<use href="#x" x="271.4" y="341.8"/>
<use href="#x" x="271.5" y="412.8"/>
<use href="#x" x="271.5" y="408.4"/>
<use href="#x" x="271.6" y="408.5"/>
<use href="#x" x="271.7" y="343.1"/>
<use href="#x" x="271.7" y="322.7"/>
<use href="#x" x="272.0" y="382.9"/>
<use href="#x" x="272.1" y="413.6"/>
<use href="#x" x="272.1" y="400.6"/>
<use href="#x" x="272.1" y="409.6"/>
<use href="#x" x="272.2" y="383.4"/>
<use href="#x" x="272.2" y="378.5"/>
<use href="#x" x="272.6" y="381.4"/>
<use href="#x" x="272.7" y="400.1"/>
<use href="#x" x="272.9" y="400.5"/>
<use href="#x" x="272.9" y="410.6"/>
<use href="#x" x="273.1" y="404.1"/>
<use href="#x" x="273.2" y="406.5"/>
<use href="#x" x="273.3" y="340.5"/>
<use href="#x" x="273.5" y="316.1"/>
<use href="#x" x="273.7" y="403.6"/>
<use href="#x" x="273.8" y="401.5"/>
<use href="#c" x="273.8" y="398.8"/>
<use href="#c" x="274.0" y="410.5"/>
<use href="#x" x="274.0" y="399.4"/>
<use href="#x" x="274.1" y="354.4"/>
<use href="#x" x="274.4" y="401.0"/>
<use href="#x" x="274.4" y="413.4"/>
<use href="#x" x="274.5" y="405.7"/>
<use href="#x" x="274.5" y="385.3"/>
<use href="#x" x="274.8" y="389.2"/>
<use href="#x" x="274.9" y="413.0"/>
<use href="#x" x="275.0" y="412.7"/>
<use href="#x" x="275.1" y="406.2"/>
<use href="#x" x="275.2" y="378.2"/>
<use href="#x" x="275.3" y="391.1"/>
<use href="#x" x="275.4" y="410.9"/>
<use href="#x" x="275.5" y="312.3"/>
<use href="#x" x="275.6" y="391.0"/>
<use href="#x" x="275.6" y="316.5"/>
<use href="#x" x="275.6" y="411.5"/>
<use href="#x" x="276.0" y="353.7"/>
<use href="#x" x="276.0" y="346.2"/>
<use href="#x" x="276.1" y="407.1"/>
<use href="#x" x="276.2" y="404.7"/>
<use href="#x" x="276.5" y="409.9"/>
<use href="#x" x="276.5" y="413.4"/>
<use href="#x" x="276.5" y="403.8"/>
<use href="#x" x="276.6" y="390.1"/>
<use href="#x" x="276.7" y="404.7"/>
<use href="#x" x="276.7" y="403.0"/>
<use href="#x" x="276.8" y="393.0"/>
<use href="#x" x="276.9" y="413.0"/>
<use href="#x" x="276.9" y="341.0"/>
<use href="#x" x="277.0" y="386.9"/>
<use href="#x" x="277.6" y="352.7"/>
<use href="#x" x="277.7" y="395.5"/>
<use href="#x" x="277.7" y="399.1"/>
<use href="#x" x="277.7" y="382.8"/>
<use href="#x" x="277.8" y="385.3"/>
<use href="#x" x="277.8" y="402.3"/>
<use href="#x" x="278.0" y="412.4"/>
<use href="#x" x="278.3" y="314.8"/>
<use href="#x" x="278.4" y="345.0"/>
<use href="#x" x="278.5" y="409.1"/>
<use href="#x" x="278.6" y="403.4"/>
<use href="#x" x="278.6" y="413.0"/>
<use href="#x" x="278.9" y="407.6"/>
<use href="#x" x="278.9" y="399.1"/>
<use href="#x" x="279.0" y="396.6"/>
<use href="#x" x="279.1" y="412.7"/>
<use href="#c" x="279.1" y="412.3"/>
<use href="#x" x="279.5" y="413.6"/>
<use href="#x" x="279.6" y="316.1"/>
<use href="#x" x="279.6" y="342.1"/>
<use href="#x" x="279.6" y="410.0"/>
<use href="#x" x="279.7" y="404.9"/>
<use href="#c" x="279.8" y="411.8"/>
<use href="#x" x="279.8" y="377.4"/>
<use href="#x" x="280.1" y="316.2"/>
<use href="#x" x="280.3" y="392.5"/>
<use href="#x" x="280.4" y="403.7"/>
<use href="#x" x="280.5" y="376.5"/>
<use href="#c" x="280.7" y="406.7"/>
<use href="#x" x="280.8" y="376.2"/>
<use href="#x" x="280.9" y="396.7"/>
<use href="#x" x="281.0" y="316.6"/>
<use href="#x" x="281.0" y="411.5"/>
<use href="#x" x="281.0" y="328.9"/>
<use href="#x" x="281.0" y="402.2"/>
<use href="#x" x="281.0" y="405.9"/>
<use href="#x" x="281.3" y="413.2"/>
<use href="#x" x="281.6" y="389.9"/>
<use href="#x" x="281.7" y="353.1"/>
<use href="#x" x="281.8" y="403.6"/>
<use href="#x" x="281.9" y="384.7"/>
<use href="#x" x="282.0" y="308.1"/>
<use href="#x" x="282.2" y="396.6"/>
<use href="#x" x="282.3" y="312.0"/>
<use href="#x" x="282.4" y="315.7"/>
<use href="#x" x="282.4" y="410.1"/>
<use href="#c" x="282.4" y="412.6"/>
<use href="#x" x="282.5" y="408.2"/>
<use href="#x" x="282.5" y="405.9"/>
<use href="#x" x="282.5" y="412.1"/>
<use href="#c" x="282.7" y="399.4"/>
<use href="#c" x="282.8" y="412.7"/>
<use href="#x" x="282.9" y="383.8"/>
<use href="#x" x="283.0" y="379.8"/>
<use href="#x" x="283.0" y="382.7"/>
<use href="#x" x="283.1" y="403.5"/>
<use href="#c" x="283.2" y="377.1"/>
<use href="#c" x="283.3" y="409.0"/>
<use href="#x" x="283.3" y="407.8"/>
<use href="#x" x="283.6" y="341.2"/>
<use href="#c" x="283.8" y="412.5"/>
<use href="#x" x="283.9" y="312.7"/>
<use href="#x" x="283.9" y="412.6"/>
<use href="#x" x="283.9" y="402.2"/>
<use href="#x" x="284.0" y="393.1"/>
<use href="#x" x="284.0" y="379.9"/>
<use href="#x" x="284.1" y="395.0"/>
<use href="#x" x="284.2" y="389.2"/>
<use href="#x" x="284.4" y="400.1"/>
<use href="#x" x="284.4" y="408.9"/>
<use href="#x" x="284.6" y="391.5"/>
<use href="#x" x="284.7" y="351.3"/>
<use href="#x" x="284.7" y="410.9"/>
<use href="#c" x="284.8" y="413.4"/>
<use href="#x" x="284.8" y="407.7"/>
<use href="#c" x="284.9" y="391.1"/>
<use href="#x" x="284.9" y="314.9"/>
<use href="#x" x="285.1" y="408.7"/>
<use href="#x" x="285.2" y="381.3"/>
<use href="#x" x="285.4" y="315.6"/>
<use href="#x" x="285.5" y="376.7"/>
<use href="#x" x="285.7" y="412.3"/>
<use href="#x" x="285.7" y="394.7"/>
<use href="#x" x="285.8" y="379.1"/>
<use href="#x" x="285.8" y="407.5"/>
<use href="#x" x="286.0" y="384.1"/>
<use href="#x" x="286.1" y="381.1"/>
<use href="#x" x="286.2" y="293.9"/>
<use href="#x" x="286.2" y="381.4"/>
<use href="#x" x="286.5" y="388.0"/>
<use href="#x" x="286.6" y="402.6"/>
<use href="#x" x="286.6" y="403.9"/>
<use href="#x" x="286.7" y="381.6"/>
<use href="#x" x="286.7" y="411.8"/>
<use href="#x" x="286.7" y="314.8"/>
<use href="#x" x="286.8" y="389.0"/>
<use href="#x" x="286.9" y="409.1"/>
<use href="#x" x="287.3" y="318.6"/>
<use href="#c" x="287.3" y="411.8"/>
<use href="#c" x="287.5" y="402.1"/>
<use href="#x" x="287.5" y="408.4"/>
<use href="#x" x="287.5" y="410.2"/>
<use href="#x" x="287.7" y="389.3"/>
<use href="#x" x="287.8" y="314.3"/>
<use href="#x" x="287.8" y="411.6"/>
<use href="#x" x="287.9" y="404.1"/>
<use href="#x" x="288.1" y="384.4"/>
<use href="#x" x="288.3" y="319.5"/>
<use href="#x" x="288.3" y="319.3"/>
<use href="#x" x="288.4" y="412.0"/>
<use href="#x" x="288.6" y="312.9"/>
<use href="#x" x="288.7" y="382.5"/>
<use href="#x" x="288.8" y="410.1"/>
<use href="#x" x="289.0" y="386.1"/>
<use href="#x" x="289.0" y="344.3"/>
<use href="#x" x="289.0" y="404.2"/>
<use href="#x" x="289.3" y="397.0"/>
<use href="#c" x="289.4" y="413.3"/>
<use href="#x" x="289.6" y="344.8"/>
<use href="#c" x="289.6" y="412.3"/>
<use href="#x" x="289.7" y="408.5"/>
<use href="#x" x="289.8" y="376.5"/>
<use href="#x" x="289.8" y="348.4"/>
<use href="#x" x="289.9" y="399.3"/>
<use href="#x" x="289.9" y="397.8"/>
<use href="#x" x="290.0" y="376.6"/>
<use href="#x" x="290.0" y="412.4"/>
<use href="#x" x="290.2" y="355.4"/>
<use href="#x" x="290.3" y="345.6"/>
<use href="#x" x="290.4" y="404.0"/>
<use href="#c" x="290.5" y="412.4"/>
<use href="#x" x="290.5" y="409.6"/>
<use href="#x" x="290.6" y="342.5"/>
<use href="#x" x="290.9" y="381.8"/>
<use href="#x" x="291.0" y="389.6"/>
<use href="#x" x="291.0" y="412.5"/>
<use href="#x" x="291.2" y="407.0"/>
<use href="#x" x="291.2" y="411.4"/>
<use href="#x" x="291.3" y="376.3"/>
<use href="#c" x="291.3" y="413.4"/>
<use href="#x" x="291.4" y="405.5"/>
<use href="#x" x="291.4" y="409.9"/>
<use href="#x" x="291.4" y="408.8"/>
<use href="#x" x="291.7" y="389.7"/>
<use href="#x" x="291.7" y="411.5"/>
<use href="#x" x="292.0" y="406.9"/>
<use href="#x" x="292.0" y="347.0"/>
<use href="#x" x="292.2" y="388.6"/>
<use href="#x" x="292.2" y="407.7"/>
<use href="#x" x="292.3" y="407.7"/>
<use href="#x" x="292.5" y="408.0"/>
<use href="#x" x="292.7" y="324.5"/>
<use href="#x" x="292.8" y="405.2"/>
<use href="#x" x="293.0" y="379.1"/>
<use href="#c" x="293.0" y="389.0"/>
<use href="#x" x="293.0" y="404.4"/>
<use href="#x" x="293.2" y="386.1"/>
<use href="#x" x="293.3" y="327.3"/>
<use href="#x" x="293.3" y="396.6"/>
<use href="#x" x="293.5" y="317.9"/>
<use href="#x" x="293.6" y="408.1"/>
<use href="#x" x="293.8" y="413.4"/>
<use href="#x" x="293.8" y="400.7"/>
<use href="#x" x="294.0" y="387.8"/>
<use href="#c" x="294.0" y="412.8"/>
<use href="#x" x="294.4" y="351.9"/>
<use href="#x" x="294.6" y="401.7"/>
<use href="#x" x="294.7" y="339.4"/>
<use href="#x" x="294.9" y="398.3"/>
<use href="#x" x="295.0" y="412.0"/>
<use href="#x" x="295.1" y="397.7"/>
<use href="#x" x="295.3" y="391.6"/>
<use href="#x" x="295.4" y="399.1"/>
<use href="#x" x="295.5" y="308.6"/>
<use href="#x" x="295.6" y="386.6"/>
<use href="#x" x="295.6" y="317.9"/>
<use href="#x" x="295.8" y="412.8"/>
<use href="#x" x="295.8" y="384.1"/>
<use href="#x" x="296.0" y="382.4"/>
<use href="#x" x="296.2" y="387.9"/>
<use href="#x" x="296.3" y="413.4"/>
<use href="#x" x="296.4" y="409.6"/>
<use href="#x" x="296.5" y="385.8"/>
<use href="#x" x="296.6" y="412.3"/>
<use href="#x" x="296.7" y="400.4"/>
<use href="#x" x="296.7" y="405.7"/>
<use href="#x" x="296.7" y="396.9"/>
<use href="#x" x="296.8" y="330.0"/>
<use href="#c" x="296.9" y="413.4"/>
<use href="#x" x="297.0" y="318.0"/>
<use href="#x" x="297.2" y="393.3"/>
<use href="#c" x="297.3" y="413.4"/>
<use href="#x" x="297.4" y="395.6"/>
<use href="#x" x="297.4" y="413.4"/>
<use href="#x" x="297.5" y="411.2"/>
<use href="#x" x="297.5" y="234.0"/>
<use href="#x" x="297.6" y="373.6"/>
<use href="#x" x="297.7" y="410.3"/>
<use href="#x" x="298.0" y="402.4"/>
<use href="#x" x="298.0" y="314.2"/>
<use href="#x" x="298.1" y="386.1"/>
<use href="#x" x="298.1" y="329.8"/>
<use href="#x" x="298.2" y="376.5"/>
<use href="#x" x="298.2" y="376.0"/>
<use href="#x" x="298.2" y="334.4"/>
<use href="#x" x="298.3" y="410.4"/>
<use href="#x" x="298.3" y="390.2"/>
<use href="#c" x="298.4" y="410.4"/>
<use href="#x" x="298.4" y="412.4"/>
<use href="#x" x="298.6" y="380.0"/>
<use href="#x" x="298.7" y="394.6"/>
<use href="#x" x="298.7" y="398.2"/>
<use href="#x" x="298.8" y="402.2"/>
<use href="#c" x="298.9" y="412.2"/>
<use href="#x" x="299.0" y="408.2"/>
<use href="#c" x="299.1" y="410.1"/>
<use href="#x" x="299.1" y="408.4"/>
<use href="#x" x="299.1" y="346.5"/>
<use href="#x" x="299.2" y="381.1"/>
<use href="#x" x="299.5" y="391.6"/>
<use href="#x" x="299.6" y="410.4"/>
<use href="#x" x="299.8" y="401.2"/>
<use href="#x" x="299.9" y="407.7"/>
<use href="#x" x="299.9" y="391.9"/>
<use href="#x" x="300.0" y="409.2"/>
<use href="#x" x="300.4" y="399.1"/>
<use href="#x" x="300.5" y="374.0"/>
<use href="#x" x="300.5" y="332.4"/>
<use href="#x" x="300.6" y="380.0"/>
<use href="#x" x="300.7" y="400.6"/>
<use href="#x" x="300.7" y="376.7"/>
<use href="#x" x="300.9" y="398.3"/>
<use href="#x" x="301.0" y="411.3"/>
<use href="#x" x="301.0" y="413.5"/>
<use href="#x" x="301.3" y="405.0"/>
<use href="#x" x="301.4" y="401.5"/>
<use href="#x" x="301.4" y="342.2"/>
<use href="#x" x="301.5" y="350.8"/>
<use href="#x" x="301.7" y="413.6"/>
<use href="#x" x="301.9" y="405.1"/>
<use href="#x" x="302.0" y="412.6"/>
<use href="#x" x="302.1" y="408.8"/>
<use href="#x" x="302.2" y="406.8"/>
<use href="#x" x="302.2" y="393.9"/>
<use href="#x" x="302.5" y="316.7"/>
<use href="#x" x="302.6" y="401.6"/>
<use href="#x" x="302.6" y="396.2"/>
<use href="#x" x="302.7" y="399.7"/>
<use href="#x" x="302.7" y="390.8"/>
<use href="#x" x="302.7" y="317.7"/>
<use href="#x" x="302.9" y="377.4"/>
<use href="#x" x="303.2" y="298.0"/>
<use href="#x" x="303.2" y="318.5"/>
<use href="#x" x="303.2" y="382.9"/>
<use href="#c" x="303.3" y="413.4"/>
<use href="#x" x="303.3" y="398.4"/>
<use href="#c" x="303.7" y="393.7"/>
<use href="#x" x="303.7" y="345.7"/>
<use href="#x" x="303.7" y="405.2"/>
<use href="#x" x="304.1" y="385.8"/>
<use href="#c" x="304.2" y="402.4"/>
<use href="#x" x="304.5" y="403.6"/>
<use href="#x" x="304.6" y="314.4"/>
<use href="#x" x="304.8" y="400.1"/>
<use href="#x" x="304.8" y="375.1"/>
<use href="#x" x="304.8" y="387.2"/>
<use href="#c" x="304.9" y="325.6"/>
<use href="#x" x="304.9" y="343.4"/>
<use href="#x" x="305.0" y="373.8"/>
<use href="#c" x="305.0" y="326.0"/>
<use href="#x" x="305.1" y="413.5"/>
<use href="#x" x="305.1" y="404.7"/>
<use href="#x" x="305.1" y="392.2"/>
<use href="#x" x="305.2" y="389.9"/>
<use href="#x" x="305.2" y="355.5"/>
<use href="#x" x="305.2" y="317.7"/>
<use href="#c" x="305.2" y="411.2"/>
<use href="#x" x="305.3" y="317.1"/>
<use href="#x" x="305.4" y="407.8"/>
<use href="#x" x="305.6" y="405.4"/>
<use href="#x" x="305.6" y="406.4"/>
<use href="#x" x="305.7" y="407.5"/>
<use href="#x" x="305.9" y="400.5"/>
<use href="#x" x="306.1" y="386.4"/>
<use href="#x" x="306.3" y="409.8"/>
<use href="#x" x="306.4" y="406.8"/>
<use href="#x" x="306.5" y="413.4"/>
<use href="#x" x="306.7" y="383.1"/>
<use href="#x" x="306.7" y="412.7"/>
<use href="#x" x="306.8" y="409.2"/>
<use href="#x" x="306.8" y="340.1"/>
<use href="#x" x="306.8" y="410.4"/>
<use href="#x" x="307.1" y="413.4"/>
<use href="#x" x="307.1" y="411.4"/>
<use href="#x" x="307.2" y="408.2"/>
<use href="#x" x="307.3" y="372.4"/>
<use href="#x" x="307.5" y="412.6"/>
<use href="#x" x="307.6" y="409.6"/>
<use href="#x" x="307.7" y="400.9"/>
<use href="#x" x="307.8" y="391.7"/>
<use href="#x" x="307.9" y="404.2"/>
<use href="#x" x="308.0" y="388.6"/>
<use href="#x" x="308.2" y="314.4"/>
<use href="#x" x="308.2" y="400.5"/>
<use href="#x" x="308.5" y="403.4"/>
<use href="#x" x="308.6" y="375.5"/>
<use href="#x" x="308.7" y="402.8"/>
<use href="#x" x="308.7" y="390.7"/>
<use href="#x" x="309.0" y="388.0"/>
<use href="#x" x="309.0" y="393.9"/>
<use href="#x" x="309.0" y="340.5"/>
<use href="#x" x="309.1" y="377.0"/>
<use href="#x" x="309.2" y="344.2"/>
<use href="#x" x="309.3" y="413.3"/>
<use href="#x" x="309.3" y="405.3"/>
<use href="#c" x="309.4" y="413.3"/>
<use href="#x" x="309.4" y="408.6"/>
<use href="#x" x="309.5" y="391.7"/>
<use href="#x" x="309.6" y="398.0"/>
<use href="#x" x="309.6" y="408.9"/>
<use href="#x" x="309.7" y="385.4"/>
<use href="#x" x="309.8" y="381.9"/>
<use href="#x" x="309.9" y="412.7"/>
<use href="#x" x="310.1" y="406.6"/>
<use href="#x" x="310.1" y="347.8"/>
<use href="#x" x="310.2" y="412.5"/>
<use href="#x" x="310.4" y="399.9"/>
<use href="#c" x="310.7" y="377.3"/>
<use href="#x" x="310.7" y="394.7"/>
<use href="#x" x="310.8" y="378.3"/>
<use href="#x" x="310.9" y="304.1"/>
<use href="#x" x="311.0" y="396.8"/>
<use href="#c" x="311.0" y="331.0"/>
<use href="#x" x="311.0" y="394.5"/>
<use href="#x" x="311.2" y="412.2"/>
<use href="#x" x="311.3" y="407.2"/>
<use href="#x" x="311.4" y="394.4"/>
<use href="#x" x="311.7" y="413.1"/>
<use href="#x" x="312.1" y="407.7"/>
<use href="#x" x="312.1" y="384.2"/>
<use href="#x" x="312.2" y="410.2"/>
<use href="#x" x="312.4" y="377.8"/>
<use href="#x" x="312.4" y="406.0"/>
<use href="#x" x="312.7" y="405.8"/>
<use href="#x" x="312.8" y="405.8"/>
<use href="#x" x="312.8" y="403.0"/>
<use href="#x" x="313.0" y="410.7"/>
<use href="#x" x="313.2" y="405.0"/>
<use href="#x" x="313.2" y="402.2"/>
<use href="#x" x="313.3" y="292.1"/>
<use href="#x" x="313.3" y="398.8"/>
<use href="#x" x="313.4" y="408.4"/>
<use href="#x" x="313.6" y="413.4"/>
<use href="#x" x="313.7" y="400.2"/>
<use href="#x" x="313.7" y="393.3"/>
<use href="#x" x="313.8" y="400.1"/>
<use href="#c" x="314.1" y="395.2"/>
<use href="#c" x="314.3" y="407.8"/>
<use href="#x" x="314.3" y="408.0"/>
<use href="#x" x="314.3" y="393.7"/>
<use href="#x" x="314.5" y="411.2"/>
<use href="#x" x="314.6" y="405.8"/>
<use href="#x" x="314.7" y="400.4"/>
<use href="#x" x="314.8" y="410.6"/>
<use href="#x" x="315.0" y="312.7"/>
<use href="#x" x="315.2" y="403.5"/>
<use href="#x" x="315.4" y="401.1"/>
<use href="#x" x="315.4" y="412.8"/>
<use href="#c" x="315.5" y="406.9"/>
<use href="#x" x="315.7" y="339.5"/>
<use href="#x" x="315.7" y="389.8"/>
<use href="#x" x="315.8" y="315.7"/>
<use href="#x" x="315.8" y="352.1"/>
<use href="#x" x="315.9" y="347.3"/>
<use href="#x" x="315.9" y="411.9"/>
<use href="#x" x="316.0" y="403.2"/>
<use href="#x" x="316.0" y="408.3"/>
<use href="#x" x="316.1" y="316.7"/>
<use href="#x" x="316.3" y="398.2"/>
<use href="#x" x="316.6" y="378.7"/>
<use href="#x" x="316.7" y="405.1"/>
<use href="#x" x="316.7" y="315.7"/>
<use href="#x" x="316.9" y="315.5"/>
<use href="#x" x="316.9" y="399.0"/>
<use href="#c" x="317.0" y="411.7"/>
<use href="#x" x="317.1" y="314.0"/>
<use href="#c" x="317.2" y="403.3"/>
<use href="#x" x="317.2" y="313.8"/>
<use href="#x" x="317.2" y="378.0"/>
<use href="#x" x="317.6" y="378.6"/>
<use href="#x" x="317.7" y="312.4"/>
<use href="#x" x="317.7" y="397.2"/>
<use href="#x" x="317.9" y="376.9"/>
<use href="#x" x="318.0" y="351.6"/>
<use href="#x" x="318.1" y="385.1"/>
<use href="#c" x="318.2" y="412.9"/>
<use href="#x" x="318.2" y="412.8"/>
<use href="#x" x="318.4" y="392.9"/>
<use href="#x" x="318.4" y="391.0"/>
<use href="#x" x="318.5" y="376.3"/>
<use href="#x" x="318.6" y="375.6"/>
<use href="#x" x="318.7" y="381.3"/>
<use href="#x" x="318.8" y="405.9"/>
<use href="#x" x="318.8" y="317.0"/>
<use href="#x" x="318.8" y="389.3"/>
<use href="#x" x="318.8" y="380.6"/>
<use href="#x" x="318.9" y="405.7"/>
<use href="#x" x="319.0" y="407.2"/>
<use href="#c" x="319.2" y="413.6"/>
<use href="#x" x="319.2" y="378.4"/>
<use href="#x" x="319.5" y="361.4"/>
<use href="#x" x="319.7" y="411.0"/>
<use href="#x" x="319.7" y="408.9"/>
<use href="#x" x="319.8" y="411.8"/>
<use href="#x" x="319.9" y="383.1"/>
<use href="#x" x="320.0" y="401.4"/>
<use href="#x" x="320.1" y="390.8"/>
<use href="#x" x="320.1" y="315.9"/>
<use href="#x" x="320.2" y="406.6"/>
<use href="#x" x="320.6" y="384.1"/>
<use href="#x" x="320.6" y="375.0"/>
<use href="#x" x="320.7" y="379.8"/>
<use href="#x" x="320.7" y="315.3"/>
<use href="#x" x="320.7" y="319.2"/>
<use href="#x" x="320.9" y="399.8"/>
<use href="#x" x="320.9" y="351.7"/>
<use href="#x" x="321.0" y="372.9"/>
<use href="#x" x="321.1" y="332.2"/>
<use href="#x" x="321.2" y="407.4"/>
<use href="#c" x="321.2" y="402.3"/>
<use href="#x" x="321.4" y="413.1"/>
<use href="#x" x="321.4" y="410.4"/>
<use href="#x" x="321.5" y="396.9"/>
<use href="#x" x="321.5" y="386.7"/>
<use href="#c" x="321.6" y="412.2"/>
<use href="#x" x="321.6" y="314.9"/>
<use href="#x" x="321.8" y="396.0"/>
<use href="#x" x="321.9" y="405.2"/>
<use href="#x" x="321.9" y="408.1"/>
<use href="#x" x="322.0" y="382.4"/>
<use href="#x" x="322.1" y="411.8"/>
<use href="#x" x="322.3" y="404.0"/>
<use href="#x" x="322.5" y="317.0"/>
<use href="#x" x="322.5" y="401.2"/>
<use href="#x" x="322.6" y="393.2"/>
<use href="#x" x="322.6" y="350.7"/>
<use href="#x" x="322.6" y="381.4"/>
<use href="#x" x="323.2" y="401.4"/>
<use href="#x" x="323.2" y="315.2"/>
<use href="#x" x="323.2" y="346.6"/>
<use href="#x" x="323.2" y="326.2"/>
<use href="#x" x="323.3" y="336.1"/>
<use href="#x" x="323.3" y="343.2"/>
<use href="#x" x="323.4" y="407.8"/>
<use href="#x" x="323.4" y="410.0"/>
<use href="#x" x="323.5" y="412.0"/>
<use href="#x" x="323.6" y="397.2"/>
<use href="#x" x="323.6" y="408.9"/>
<use href="#x" x="323.6" y="388.4"/>
<use href="#c" x="323.7" y="409.4"/>
<use href="#x" x="323.7" y="376.9"/>
<use href="#x" x="323.8" y="413.1"/>
<use href="#x" x="323.9" y="384.6"/>
<use href="#x" x="324.4" y="412.9"/>
<use href="#x" x="324.5" y="402.0"/>
<use href="#x" x="324.5" y="413.3"/>
<use href="#x" x="324.7" y="408.7"/>
<use href="#x" x="324.7" y="382.0"/>
<use href="#c" x="324.9" y="385.4"/>
<use href="#x" x="324.9" y="405.7"/>
<use href="#c" x="325.0" y="342.0"/>
<use href="#x" x="325.1" y="341.5"/>
<use href="#x" x="325.1" y="400.1"/>
<use href="#x" x="325.3" y="413.5"/>
<use href="#x" x="325.7" y="318.6"/>
<use href="#x" x="325.9" y="409.0"/>
<use href="#x" x="325.9" y="378.3"/>
<use href="#x" x="326.0" y="376.3"/>
<use href="#x" x="326.0" y="351.4"/>
<use href="#x" x="326.1" y="399.3"/>
<use href="#x" x="326.3" y="412.0"/>
<use href="#x" x="326.3" y="378.2"/>
<use href="#x" x="326.4" y="341.9"/>
<use href="#x" x="326.6" y="412.5"/>
<use href="#x" x="326.7" y="400.9"/>
<use href="#x" x="326.7" y="384.3"/>
<use href="#x" x="326.7" y="381.9"/>
<use href="#x" x="326.7" y="406.9"/>
<use href="#x" x="326.8" y="407.9"/>
<use href="#x" x="326.8" y="378.6"/>
<use href="#x" x="326.9" y="389.8"/>
<use href="#x" x="327.0" y="317.5"/>
<use href="#x" x="327.4" y="378.1"/>
<use href="#x" x="327.5" y="318.3"/>
<use href="#x" x="327.5" y="413.4"/>
<use href="#x" x="327.8" y="389.7"/>
<use href="#c" x="327.9" y="413.0"/>
<use href="#x" x="327.9" y="397.8"/>
<use href="#x" x="327.9" y="385.4"/>
<use href="#x" x="328.0" y="407.8"/>
<use href="#x" x="328.1" y="315.3"/>
<use href="#x" x="328.3" y="387.9"/>
<use href="#x" x="328.3" y="381.1"/>
<use href="#x" x="328.4" y="318.4"/>
<use href="#x" x="328.6" y="378.7"/>
<use href="#x" x="328.6" y="380.3"/>
<use href="#c" x="328.6" y="409.0"/>
<use href="#x" x="328.9" y="401.7"/>
<use href="#x" x="329.0" y="396.3"/>
<use href="#x" x="329.0" y="316.1"/>
<use href="#x" x="329.2" y="412.0"/>
<use href="#c" x="329.2" y="411.8"/>
<use href="#x" x="329.4" y="405.4"/>
<use href="#c" x="329.4" y="343.5"/>
<use href="#x" x="329.5" y="375.4"/>
<use href="#x" x="329.6" y="402.4"/>
<use href="#x" x="329.7" y="407.5"/>
<use href="#x" x="329.9" y="407.5"/>
<use href="#x" x="330.0" y="413.6"/>
<use href="#c" x="330.2" y="413.3"/>
<use href="#x" x="330.2" y="316.3"/>
<use href="#x" x="330.2" y="388.5"/>
<use href="#c" x="330.4" y="405.9"/>
<use href="#c" x="330.6" y="412.2"/>
<use href="#x" x="330.9" y="339.9"/>
<use href="#x" x="331.0" y="377.7"/>
<use href="#x" x="331.1" y="381.9"/>
<use href="#x" x="331.1" y="410.1"/>
<use href="#x" x="331.1" y="411.7"/>
<use href="#x" x="331.2" y="314.8"/>
<use href="#x" x="331.2" y="385.4"/>
<use href="#x" x="331.4" y="405.8"/>
<use href="#x" x="331.5" y="412.8"/>
<use href="#x" x="331.5" y="341.4"/>
<use href="#x" x="331.6" y="412.5"/>
<use href="#x" x="331.8" y="406.9"/>
<use href="#x" x="332.0" y="327.3"/>
<use href="#c" x="332.0" y="410.1"/>
<use href="#x" x="332.0" y="412.1"/>
<use href="#x" x="332.0" y="342.2"/>
<use href="#x" x="332.1" y="405.1"/>
<use href="#x" x="332.4" y="386.8"/>
<use href="#x" x="332.4" y="312.8"/>
<use href="#x" x="332.6" y="399.9"/>
<use href="#x" x="332.6" y="315.8"/>
<use href="#x" x="332.6" y="397.9"/>
<use href="#x" x="332.6" y="344.0"/>
<use href="#x" x="332.8" y="407.2"/>
<use href="#x" x="332.8" y="408.5"/>
<use href="#x" x="332.8" y="384.1"/>
<use href="#x" x="332.9" y="374.3"/>
<use href="#x" x="333.2" y="378.1"/>
<use href="#x" x="333.2" y="382.3"/>
<use href="#x" x="333.5" y="378.1"/>
<use href="#x" x="333.6" y="393.2"/>
<use href="#x" x="333.7" y="406.5"/>
<use href="#x" x="333.8" y="360.9"/>
<use href="#x" x="333.9" y="380.6"/>
<use href="#x" x="334.1" y="409.8"/>
<use href="#x" x="334.2" y="376.2"/>
<use href="#x" x="334.3" y="402.2"/>
<use href="#x" x="334.4" y="406.1"/>
<use href="#x" x="334.4" y="347.4"/>
<use href="#x" x="334.4" y="401.4"/>
<use href="#x" x="334.6" y="404.3"/>
<use href="#c" x="334.6" y="412.1"/>
<use href="#x" x="334.6" y="412.6"/>
<use href="#x" x="334.8" y="401.0"/>
<use href="#x" x="335.1" y="347.0"/>
<use href="#c" x="335.3" y="410.0"/>
<use href="#x" x="335.3" y="400.5"/>
<use href="#x" x="335.4" y="388.1"/>
<use href="#x" x="335.5" y="374.9"/>
<use href="#x" x="335.8" y="381.3"/>
<use href="#x" x="335.8" y="392.9"/>
<use href="#x" x="336.1" y="411.9"/>
<use href="#x" x="336.1" y="409.0"/>
<use href="#x" x="336.2" y="379.5"/>
<use href="#x" x="336.3" y="383.6"/>
<use href="#x" x="336.5" y="389.8"/>
<use href="#x" x="336.6" y="379.6"/>
<use href="#x" x="336.6" y="407.2"/>
<use href="#x" x="336.6" y="342.5"/>
<use href="#x" x="336.6" y="373.0"/>
<use href="#c" x="336.7" y="411.1"/>
<use href="#x" x="336.8" y="406.7"/>
<use href="#x" x="336.8" y="312.7"/>
<use href="#x" x="336.8" y="412.8"/>
<use href="#x" x="336.8" y="400.6"/>
<use href="#x" x="337.1" y="409.6"/>
<use href="#x" x="337.2" y="405.0"/>
<use href="#x" x="337.2" y="318.2"/>
<use href="#x" x="337.5" y="374.1"/>
<use href="#x" x="337.7" y="385.8"/>
<use href="#x" x="337.9" y="408.6"/>
<use href="#x" x="337.9" y="340.6"/>
<use href="#x" x="338.0" y="401.5"/>
<use href="#x" x="338.0" y="413.4"/>
<use href="#x" x="338.0" y="378.5"/>
<use href="#x" x="338.2" y="317.5"/>
<use href="#x" x="338.3" y="376.1"/>
<use href="#x" x="338.3" y="401.5"/>
<use href="#x" x="338.3" y="413.3"/>
<use href="#x" x="338.4" y="397.5"/>
<use href="#x" x="338.4" y="356.8"/>
<use href="#x" x="338.5" y="339.3"/>
<use href="#x" x="338.6" y="411.1"/>
<use href="#x" x="338.6" y="346.1"/>
<use href="#x" x="338.7" y="399.3"/>
<use href="#x" x="338.7" y="400.0"/>
<use href="#x" x="338.7" y="346.5"/>
<use href="#x" x="338.8" y="301.5"/>
<use href="#x" x="338.9" y="413.4"/>
<use href="#x" x="339.1" y="316.9"/>
<use href="#x" x="339.1" y="408.7"/>
<use href="#x" x="339.2" y="413.4"/>
<use href="#x" x="339.2" y="382.4"/>
<use href="#x" x="339.3" y="405.6"/>
<use href="#x" x="339.3" y="392.2"/>
<use href="#x" x="339.5" y="412.4"/>
<use href="#x" x="339.7" y="409.0"/>
<use href="#x" x="339.9" y="412.4"/>
<use href="#x" x="340.0" y="380.0"/>
<use href="#x" x="340.1" y="402.7"/>
<use href="#x" x="340.3" y="403.1"/>
<use href="#x" x="340.5" y="401.0"/>
<use href="#x" x="340.5" y="379.6"/>
<use href="#c" x="340.6" y="412.9"/>
<use href="#c" x="340.6" y="385.3"/>
<use href="#x" x="340.7" y="406.4"/>
<use href="#x" x="340.7" y="318.3"/>
<use href="#x" x="340.8" y="407.9"/>
<use href="#x" x="341.0" y="368.7"/>
<use href="#c" x="341.0" y="327.0"/>
<use href="#x" x="341.0" y="400.6"/>
<use href="#x" x="341.1" y="407.4"/>
<use href="#x" x="341.1" y="411.9"/>
<use href="#x" x="341.2" y="341.3"/>
<use href="#x" x="341.3" y="411.8"/>
<use href="#x" x="341.3" y="388.4"/>
<use href="#x" x="341.4" y="308.4"/>
<use href="#x" x="341.5" y="389.6"/>
<use href="#x" x="341.7" y="388.8"/>
<use href="#x" x="341.8" y="408.4"/>
<use href="#x" x="342.0" y="319.4"/>
<use href="#x" x="342.0" y="373.5"/>
<use href="#x" x="342.1" y="408.4"/>
<use href="#c" x="342.1" y="390.8"/>
<use href="#x" x="342.3" y="342.7"/>
<use href="#x" x="342.4" y="412.9"/>
<use href="#x" x="342.4" y="405.7"/>
<use href="#x" x="342.6" y="402.7"/>
<use href="#x" x="342.6" y="391.4"/>
<use href="#x" x="342.6" y="339.7"/>
<use href="#c" x="342.7" y="405.9"/>
<use href="#x" x="342.8" y="339.9"/>
<use href="#x" x="342.8" y="380.7"/>
<use href="#x" x="343.1" y="406.7"/>
<use href="#x" x="343.2" y="373.3"/>
<use href="#x" x="343.2" y="314.4"/>
<use href="#x" x="343.3" y="398.8"/>
<use href="#x" x="343.4" y="408.1"/>
<use href="#x" x="343.4" y="348.9"/>
<use href="#x" x="343.5" y="312.2"/>
<use href="#c" x="343.5" y="390.0"/>
<use href="#x" x="343.6" y="388.7"/>
<use href="#x" x="343.6" y="399.3"/>
<use href="#x" x="343.7" y="342.7"/>
<use href="#x" x="343.7" y="391.7"/>
<use href="#x" x="343.8" y="408.7"/>
<use href="#c" x="343.9" y="387.2"/>
<use href="#x" x="344.0" y="379.3"/>
<use href="#x" x="344.0" y="413.1"/>
<use href="#x" x="344.2" y="351.6"/>
<use href="#x" x="344.4" y="401.0"/>
<use href="#x" x="344.4" y="380.6"/>
<use href="#x" x="344.5" y="387.8"/>
<use href="#c" x="344.6" y="412.5"/>
<use href="#x" x="344.6" y="317.6"/>
<use href="#x" x="344.7" y="412.9"/>
<use href="#x" x="344.7" y="385.4"/>
<use href="#x" x="344.7" y="343.7"/>
<use href="#x" x="344.9" y="407.5"/>
<use href="#x" x="344.9" y="317.9"/>
<use href="#x" x="345.0" y="404.3"/>
<use href="#x" x="345.1" y="314.2"/>
<use href="#x" x="345.2" y="391.3"/>
<use href="#x" x="345.3" y="398.9"/>
<use href="#x" x="345.5" y="401.3"/>
<use href="#x" x="345.6" y="410.1"/>
<use href="#x" x="345.8" y="409.8"/>
<use href="#x" x="345.9" y="400.0"/>
<use href="#x" x="346.1" y="401.1"/>
<use href="#x" x="346.3" y="368.3"/>
<use href="#x" x="346.4" y="315.1"/>
<use href="#x" x="346.5" y="409.2"/>
<use href="#x" x="346.7" y="340.6"/>
<use href="#x" x="346.7" y="341.9"/>
<use href="#x" x="346.9" y="412.2"/>
<use href="#x" x="347.0" y="412.2"/>
<use href="#x" x="347.2" y="297.5"/>
<use href="#x" x="347.2" y="402.2"/>
<use href="#c" x="347.3" y="413.2"/>
<use href="#x" x="347.3" y="410.4"/>
<use href="#x" x="347.6" y="377.4"/>
<use href="#x" x="347.7" y="410.8"/>
<use href="#x" x="347.8" y="363.8"/>
<use href="#x" x="347.8" y="410.8"/>
<use href="#x" x="347.9" y="354.8"/>
<use href="#x" x="347.9" y="294.0"/>
<use href="#c" x="347.9" y="413.5"/>
<use href="#x" x="348.3" y="402.1"/>
<use href="#x" x="348.3" y="379.4"/>
<use href="#x" x="348.3" y="303.7"/>
<use href="#x" x="348.4" y="317.0"/>
<use href="#x" x="348.4" y="412.8"/>
<use href="#x" x="348.6" y="403.4"/>
<use href="#x" x="348.7" y="404.4"/>
<use href="#c" x="348.8" y="407.7"/>
<use href="#x" x="348.8" y="295.1"/>
<use href="#x" x="349.3" y="392.0"/>
<use href="#x" x="349.4" y="411.2"/>
<use href="#c" x="349.5" y="403.4"/>
<use href="#x" x="349.5" y="390.5"/>
<use href="#x" x="349.5" y="407.6"/>
<use href="#x" x="349.5" y="404.3"/>
<use href="#x" x="349.8" y="312.6"/>
<use href="#x" x="349.9" y="413.3"/>
<use href="#x" x="350.1" y="409.2"/>
<use href="#x" x="350.2" y="343.7"/>
<use href="#x" x="350.5" y="387.4"/>
<use href="#x" x="350.6" y="396.4"/>
<use href="#c" x="350.6" y="342.6"/>
<use href="#x" x="350.6" y="381.5"/>
<use href="#x" x="350.7" y="315.1"/>
<use href="#x" x="350.8" y="407.2"/>
<use href="#c" x="350.8" y="284.7"/>
<use href="#c" x="351.0" y="405.8"/>
<use href="#x" x="351.1" y="360.1"/>
<use href="#x" x="351.2" y="404.7"/>
<use href="#x" x="351.2" y="316.3"/>
<use href="#x" x="351.2" y="399.7"/>
<use href="#x" x="351.3" y="407.1"/>
<use href="#x" x="351.6" y="334.6"/>
<use href="#x" x="351.7" y="318.6"/>
<use href="#x" x="351.7" y="387.3"/>
<use href="#x" x="351.7" y="413.1"/>
<use href="#x" x="351.7" y="391.3"/>
<use href="#x" x="351.7" y="409.4"/>
<use href="#x" x="351.8" y="314.2"/>
<use href="#x" x="351.8" y="328.6"/>
<use href="#x" x="352.2" y="392.2"/>
<use href="#x" x="352.2" y="404.8"/>
<use href="#x" x="352.2" y="399.5"/>
<use href="#x" x="352.4" y="399.3"/>
<use href="#x" x="352.5" y="388.3"/>
<use href="#x" x="352.7" y="345.1"/>
<use href="#c" x="352.8" y="400.6"/>
<use href="#x" x="352.9" y="413.1"/>
<use href="#x" x="353.0" y="372.4"/>
<use href="#x" x="353.1" y="314.1"/>
<use href="#c" x="353.1" y="412.4"/>
<use href="#x" x="353.5" y="409.3"/>
<use href="#c" x="353.5" y="404.3"/>
<use href="#x" x="353.5" y="403.5"/>
<use href="#x" x="353.6" y="413.3"/>
<use href="#x" x="353.6" y="309.9"/>
<use href="#c" x="353.6" y="396.7"/>
<use href="#x" x="353.8" y="312.3"/>
<use href="#x" x="353.8" y="412.5"/>
<use href="#c" x="353.9" y="412.3"/>
<use href="#x" x="353.9" y="311.6"/>
<use href="#c" x="354.2" y="412.2"/>
<use href="#x" x="354.3" y="386.9"/>
<use href="#c" x="354.4" y="302.6"/>
<use href="#x" x="354.7" y="318.6"/>
<use href="#c" x="354.7" y="390.0"/>
<use href="#c" x="354.7" y="383.0"/>
<use href="#x" x="355.0" y="321.5"/>
<use href="#x" x="355.0" y="410.8"/>
<use href="#x" x="355.0" y="404.8"/>
<use href="#x" x="355.0" y="405.1"/>
<use href="#c" x="355.2" y="413.3"/>
<use href="#x" x="355.2" y="332.8"/>
<use href="#x" x="355.3" y="409.0"/>
<use href="#x" x="355.4" y="395.3"/>
<use href="#x" x="355.5" y="411.8"/>
<use href="#x" x="355.9" y="407.7"/>
<use href="#x" x="356.0" y="413.6"/>
<use href="#x" x="356.3" y="408.1"/>
<use href="#x" x="356.5" y="403.0"/>
<use href="#c" x="356.9" y="405.2"/>
<use href="#x" x="357.0" y="314.4"/>
<use href="#x" x="357.1" y="313.6"/>
<use href="#x" x="357.2" y="413.4"/>
<use href="#x" x="357.3" y="406.4"/>
<use href="#x" x="357.4" y="407.7"/>
<use href="#x" x="357.6" y="315.3"/>
<use href="#x" x="357.7" y="314.4"/>
<use href="#x" x="357.9" y="413.1"/>
<use href="#x" x="357.9" y="408.8"/>
<use href="#x" x="358.7" y="408.6"/>
<use href="#x" x="358.8" y="394.4"/>
<use href="#c" x="358.8" y="391.4"/>
<use href="#x" x="359.0" y="317.2"/>
<use href="#x" x="359.2" y="394.6"/>
<use href="#c" x="359.2" y="412.5"/>
<use href="#c" x="359.3" y="407.7"/>
<use href="#x" x="359.3" y="412.9"/>
<use href="#x" x="359.4" y="402.4"/>
<use href="#x" x="359.5" y="318.7"/>
<use href="#c" x="359.5" y="362.8"/>
<use href="#x" x="359.6" y="407.3"/>
<use href="#x" x="359.7" y="413.6"/>
<use href="#c" x="359.9" y="412.1"/>
<use href="#x" x="360.0" y="288.6"/>
<use href="#x" x="360.4" y="304.5"/>
<use href="#x" x="360.4" y="409.1"/>
<use href="#x" x="360.4" y="404.0"/>
<use href="#x" x="360.7" y="401.9"/>
<use href="#x" x="360.8" y="389.3"/>
<use href="#x" x="360.8" y="411.7"/>
<use href="#x" x="360.9" y="397.1"/>
<use href="#x" x="361.2" y="376.3"/>
<use href="#x" x="361.3" y="392.8"/>
<use href="#x" x="361.3" y="413.6"/>
<use href="#x" x="361.3" y="315.3"/>
<use href="#x" x="361.4" y="339.1"/>
<use href="#x" x="361.6" y="339.7"/>
<use href="#c" x="361.7" y="409.8"/>
<use href="#x" x="362.1" y="396.7"/>
<use href="#x" x="362.1" y="342.5"/>
<use href="#x" x="362.4" y="402.9"/>
<use href="#x" x="362.5" y="318.1"/>
<use href="#c" x="362.6" y="398.7"/>
<use href="#x" x="362.7" y="413.3"/>
<use href="#x" x="362.8" y="412.9"/>
<use href="#x" x="363.2" y="400.0"/>
<use href="#x" x="363.2" y="407.2"/>
<use href="#x" x="363.2" y="342.3"/>
<use href="#x" x="363.4" y="317.2"/>
<use href="#x" x="363.7" y="409.4"/>
<use href="#x" x="363.9" y="313.6"/>
<use href="#x" x="363.9" y="402.7"/>
<use href="#x" x="364.2" y="340.2"/>
<use href="#x" x="364.2" y="403.4"/>
<use href="#x" x="364.8" y="381.9"/>
<use href="#x" x="364.8" y="406.4"/>
<use href="#x" x="364.8" y="407.5"/>
<use href="#c" x="364.9" y="412.6"/>
<use href="#x" x="365.1" y="402.4"/>
<use href="#x" x="365.2" y="411.3"/>
<use href="#x" x="365.3" y="339.4"/>
<use href="#x" x="365.8" y="397.8"/>
<use href="#c" x="365.9" y="412.4"/>
<use href="#x" x="366.0" y="405.0"/>
<use href="#x" x="366.2" y="393.9"/>
<use href="#c" x="366.3" y="411.0"/>
<use href="#x" x="366.4" y="407.2"/>
<use href="#x" x="366.5" y="359.8"/>
<use href="#c" x="366.8" y="409.6"/>
<use href="#x" x="367.0" y="343.8"/>
<use href="#x" x="367.1" y="388.3"/>
<use href="#c" x="367.2" y="406.3"/>
<use href="#x" x="367.2" y="357.2"/>
<use href="#x" x="367.2" y="413.6"/>
<use href="#x" x="367.3" y="364.5"/>
<use href="#x" x="367.4" y="394.3"/>
<use href="#x" x="367.5" y="404.2"/>
<use href="#x" x="367.5" y="391.2"/>
<use href="#x" x="367.7" y="403.8"/>
<use href="#x" x="367.7" y="394.8"/>
<use href="#x" x="367.8" y="409.1"/>
<use href="#x" x="368.1" y="303.0"/>
<use href="#c" x="368.1" y="361.9"/>
<use href="#x" x="368.3" y="408.9"/>
<use href="#x" x="368.4" y="313.5"/>
<use href="#x" x="368.4" y="408.5"/>
<use href="#x" x="368.6" y="408.3"/>
<use href="#x" x="368.7" y="405.8"/>
<use href="#x" x="368.7" y="345.3"/>
<use href="#x" x="368.8" y="411.9"/>
<use href="#c" x="369.0" y="218.7"/>
<use href="#x" x="369.2" y="411.8"/>
<use href="#x" x="369.2" y="316.0"/>
<use href="#x" x="369.3" y="391.4"/>
<use href="#x" x="369.3" y="411.9"/>
<use href="#x" x="370.0" y="413.2"/>
<use href="#x" x="370.1" y="406.2"/>
<use href="#x" x="370.2" y="390.0"/>
<use href="#c" x="370.2" y="412.3"/>
<use href="#x" x="370.3" y="408.5"/>
<use href="#x" x="370.4" y="407.3"/>
<use href="#x" x="370.6" y="365.1"/>
<use href="#x" x="370.6" y="311.7"/>
<use href="#c" x="370.6" y="403.6"/>
<use href="#x" x="370.8" y="397.4"/>
<use href="#x" x="371.0" y="313.6"/>
<use href="#x" x="371.0" y="413.5"/>
<use href="#x" x="371.2" y="411.9"/>
<use href="#c" x="371.2" y="381.1"/>
<use href="#c" x="371.3" y="371.3"/>
<use href="#c" x="371.3" y="412.4"/>
<use href="#x" x="371.6" y="403.1"/>
<use href="#x" x="371.6" y="334.3"/>
<use href="#x" x="371.7" y="311.6"/>
<use href="#x" x="371.8" y="295.6"/>
<use href="#x" x="371.9" y="394.6"/>
<use href="#x" x="372.2" y="411.3"/>
<use href="#x" x="372.3" y="413.6"/>
<use href="#x" x="372.5" y="408.9"/>
<use href="#x" x="372.5" y="321.6"/>
<use href="#x" x="372.5" y="390.0"/>
<use href="#c" x="372.5" y="410.9"/>
<use href="#x" x="372.8" y="362.7"/>
<use href="#x" x="373.0" y="412.1"/>
<use href="#x" x="373.1" y="316.6"/>
<use href="#x" x="373.1" y="412.7"/>
<use href="#x" x="373.3" y="404.4"/>
<use href="#x" x="373.4" y="388.5"/>
<use href="#x" x="373.4" y="410.7"/>
<use href="#x" x="373.5" y="314.0"/>
<use href="#c" x="373.5" y="304.4"/>
<use href="#x" x="373.6" y="398.5"/>
<use href="#x" x="373.6" y="402.7"/>
<use href="#x" x="373.9" y="397.8"/>
<use href="#x" x="374.0" y="408.0"/>
<use href="#x" x="374.3" y="325.0"/>
<use href="#x" x="374.4" y="379.2"/>
<use href="#x" x="374.4" y="389.9"/>
<use href="#x" x="374.5" y="413.5"/>
<use href="#x" x="374.6" y="342.7"/>
<use href="#x" x="374.8" y="340.2"/>
<use href="#x" x="374.8" y="375.8"/>
<use href="#x" x="374.9" y="317.3"/>
<use href="#x" x="374.9" y="311.9"/>
<use href="#x" x="375.1" y="413.6"/>
<use href="#x" x="375.2" y="313.8"/>
<use href="#c" x="375.2" y="407.5"/>
<use href="#x" x="375.2" y="412.5"/>
<use href="#x" x="375.6" y="315.8"/>
<use href="#x" x="375.6" y="385.9"/>
<use href="#x" x="375.7" y="382.5"/>
<use href="#c" x="375.7" y="410.3"/>
<use href="#c" x="375.9" y="404.2"/>
<use href="#c" x="376.1" y="411.9"/>
<use href="#x" x="376.1" y="410.1"/>
<use href="#x" x="376.3" y="374.8"/>
<use href="#x" x="376.7" y="398.2"/>
<use href="#c" x="376.7" y="413.2"/>
<use href="#x" x="376.9" y="314.1"/>
<use href="#c" x="377.0" y="393.2"/>
<use href="#x" x="377.1" y="318.0"/>
<use href="#x" x="377.1" y="349.2"/>
<use href="#x" x="377.1" y="410.3"/>
<use href="#c" x="377.2" y="413.1"/>
<use href="#x" x="377.3" y="396.3"/>
<use href="#x" x="377.4" y="413.4"/>
<use href="#x" x="377.8" y="383.3"/>
<use href="#x" x="377.8" y="404.9"/>
<use href="#c" x="377.9" y="403.6"/>
<use href="#x" x="378.3" y="318.8"/>
<use href="#c" x="378.4" y="411.3"/>
<use href="#x" x="378.5" y="399.8"/>
<use href="#x" x="378.6" y="401.6"/>
<use href="#x" x="378.7" y="381.4"/>
<use href="#x" x="378.7" y="406.3"/>
<use href="#x" x="378.9" y="313.2"/>
<use href="#x" x="379.0" y="340.6"/>
<use href="#x" x="379.0" y="283.0"/>
<use href="#x" x="379.1" y="408.4"/>
<use href="#x" x="379.2" y="316.3"/>
<use href="#x" x="379.3" y="405.9"/>
<use href="#x" x="379.8" y="413.1"/>
<use href="#x" x="379.9" y="371.0"/>
<use href="#x" x="380.1" y="410.4"/>
<use href="#x" x="380.1" y="343.8"/>
<use href="#c" x="380.1" y="413.4"/>
<use href="#c" x="380.2" y="402.9"/>
<use href="#x" x="380.4" y="411.0"/>
<use href="#x" x="380.4" y="316.6"/>
<use href="#x" x="380.6" y="345.0"/>
<use href="#x" x="381.0" y="326.5"/>
<use href="#x" x="381.1" y="390.7"/>
<use href="#x" x="381.1" y="398.5"/>
<use href="#c" x="381.1" y="385.0"/>
<use href="#x" x="381.1" y="409.7"/>
<use href="#x" x="381.2" y="353.5"/>
<use href="#x" x="381.2" y="315.0"/>
<use href="#c" x="381.3" y="408.3"/>
<use href="#c" x="381.3" y="386.0"/>
<use href="#x" x="381.4" y="318.5"/>
<use href="#c" x="381.5" y="410.3"/>
<use href="#x" x="381.6" y="407.9"/>
<use href="#x" x="381.7" y="403.2"/>
<use href="#x" x="381.8" y="400.6"/>
<use href="#x" x="381.9" y="278.2"/>
<use href="#x" x="382.0" y="410.5"/>
<use href="#x" x="382.6" y="317.9"/>
<use href="#x" x="382.7" y="378.3"/>
<use href="#x" x="382.7" y="413.6"/>
<use href="#c" x="383.0" y="411.9"/>
<use href="#x" x="383.1" y="343.7"/>
<use href="#x" x="383.1" y="404.8"/>
<use href="#x" x="383.1" y="396.7"/>
<use href="#x" x="383.2" y="397.2"/>
<use href="#x" x="383.3" y="407.5"/>
<use href="#x" x="383.4" y="302.7"/>
<use href="#x" x="383.4" y="317.2"/>
<use href="#x" x="383.5" y="382.4"/>
<use href="#x" x="383.6" y="344.6"/>
<use href="#x" x="383.6" y="398.7"/>
<use href="#x" x="383.7" y="371.7"/>
<use href="#x" x="383.8" y="313.1"/>
<use href="#x" x="383.9" y="409.7"/>
<use href="#x" x="384.0" y="412.6"/>
<use href="#x" x="384.4" y="403.6"/>
<use href="#x" x="384.6" y="404.5"/>
<use href="#x" x="384.6" y="317.4"/>
<use href="#c" x="384.7" y="393.2"/>
<use href="#x" x="384.7" y="411.8"/>
<use href="#c" x="384.8" y="413.3"/>
<use href="#x" x="384.9" y="405.0"/>
<use href="#x" x="385.7" y="358.7"/>
<use href="#c" x="385.8" y="386.9"/>
<use href="#c" x="385.8" y="402.7"/>
<use href="#c" x="386.0" y="413.1"/>
<use href="#x" x="386.0" y="345.6"/>
<use href="#c" x="386.0" y="412.3"/>
<use href="#x" x="386.2" y="403.7"/>
<use href="#x" x="386.2" y="356.6"/>
<use href="#x" x="386.3" y="402.4"/>
<use href="#c" x="386.3" y="352.6"/>
<use href="#c" x="386.3" y="406.8"/>
<use href="#x" x="386.6" y="354.0"/>
<use href="#x" x="386.7" y="405.4"/>
<use href="#x" x="386.8" y="313.8"/>
<use href="#c" x="387.1" y="384.0"/>
<use href="#x" x="387.3" y="394.1"/>
<use href="#c" x="387.3" y="411.9"/>
<use href="#x" x="387.4" y="339.7"/>
<use href="#x" x="387.5" y="313.6"/>
<use href="#x" x="387.5" y="402.3"/>
<use href="#x" x="387.6" y="398.9"/>
<use href="#x" x="387.8" y="398.6"/>
<use href="#c" x="387.8" y="340.2"/>
<use href="#x" x="388.0" y="395.5"/>
<use href="#c" x="388.4" y="413.0"/>
<use href="#x" x="388.4" y="349.6"/>
<use href="#x" x="388.8" y="318.1"/>
<use href="#x" x="388.9" y="387.5"/>
<use href="#c" x="389.0" y="408.8"/>
<use href="#x" x="389.2" y="339.2"/>
<use href="#c" x="389.2" y="381.6"/>
<use href="#x" x="389.3" y="340.6"/>
<use href="#x" x="389.3" y="413.5"/>
<use href="#x" x="389.5" y="391.6"/>
<use href="#x" x="389.6" y="407.4"/>
<use href="#x" x="389.7" y="341.1"/>
<use href="#x" x="389.9" y="399.9"/>
<use href="#x" x="390.0" y="409.6"/>
<use href="#x" x="390.1" y="316.3"/>
<use href="#c" x="390.3" y="397.7"/>
<use href="#x" x="390.4" y="402.1"/>
<use href="#c" x="390.5" y="367.7"/>
<use href="#x" x="391.0" y="386.1"/>
<use href="#x" x="391.1" y="379.3"/>
<use href="#x" x="391.2" y="387.6"/>
<use href="#x" x="391.3" y="372.1"/>
<use href="#x" x="391.3" y="396.7"/>
<use href="#x" x="391.4" y="385.2"/>
<use href="#x" x="391.6" y="403.9"/>
<use href="#x" x="391.7" y="402.5"/>
<use href="#x" x="391.7" y="388.0"/>
<use href="#c" x="391.8" y="411.4"/>
<use href="#c" x="392.0" y="413.2"/>
<use href="#x" x="392.0" y="411.4"/>
<use href="#c" x="392.2" y="412.8"/>
<use href="#x" x="392.5" y="403.3"/>
<use href="#x" x="392.5" y="400.1"/>
<use href="#c" x="392.6" y="404.9"/>
<use href="#x" x="392.9" y="386.9"/>
<use href="#x" x="392.9" y="409.8"/>
<use href="#x" x="392.9" y="321.4"/>
<use href="#c" x="393.0" y="391.1"/>
<use href="#x" x="393.4" y="410.9"/>
<use href="#x" x="393.6" y="384.7"/>
<use href="#x" x="393.6" y="384.9"/>
<use href="#x" x="393.7" y="400.8"/>
<use href="#x" x="393.8" y="374.9"/>
<use href="#x" x="393.8" y="382.4"/>
<use href="#x" x="393.9" y="363.8"/>
<use href="#x" x="394.0" y="405.2"/>
<use href="#x" x="394.0" y="378.5"/>
<use href="#x" x="394.0" y="381.2"/>
<use href="#x" x="394.1" y="363.9"/>
<use href="#x" x="394.3" y="339.4"/>
<use href="#x" x="394.5" y="369.2"/>
<use href="#x" x="394.5" y="410.6"/>
<use href="#x" x="394.6" y="397.2"/>
<use href="#x" x="394.6" y="384.4"/>
<use href="#x" x="394.7" y="376.0"/>
<use href="#x" x="395.0" y="242.1"/>
<use href="#x" x="395.1" y="412.9"/>
<use href="#x" x="395.2" y="359.8"/>
<use href="#x" x="395.2" y="258.5"/>
<use href="#x" x="395.2" y="405.0"/>
<use href="#x" x="395.3" y="371.2"/>
<use href="#x" x="395.3" y="403.8"/>
<use href="#x" x="395.3" y="269.9"/>
<use href="#x" x="395.6" y="403.1"/>
<use href="#x" x="395.6" y="370.4"/>
<use href="#x" x="395.7" y="385.3"/>
<use href="#x" x="395.9" y="383.0"/>
<use href="#x" x="395.9" y="412.7"/>
<use href="#x" x="396.0" y="367.5"/>
<use href="#x" x="396.1" y="340.9"/>
<use href="#x" x="396.1" y="405.3"/>
<use href="#x" x="396.2" y="311.8"/>
<use href="#c" x="396.4" y="369.8"/>
<use href="#x" x="396.4" y="260.0"/>
<use href="#c" x="396.4" y="409.4"/>
<use href="#x" x="396.4" y="385.0"/>
<use href="#x" x="396.4" y="406.3"/>
<use href="#x" x="396.5" y="353.0"/>
<use href="#x" x="396.6" y="264.2"/>
<use href="#x" x="396.6" y="381.2"/>
<use href="#x" x="396.6" y="413.2"/>
<use href="#x" x="396.7" y="399.4"/>
<use href="#x" x="396.8" y="341.8"/>
<use href="#x" x="396.9" y="378.9"/>
<use href="#x" x="397.2" y="406.8"/>
<use href="#x" x="397.2" y="341.1"/>
<use href="#x" x="397.2" y="403.0"/>
<use href="#x" x="397.3" y="391.6"/>
<use href="#x" x="397.4" y="401.2"/>
<use href="#x" x="397.4" y="378.7"/>
<use href="#x" x="397.7" y="395.9"/>
<use href="#x" x="397.8" y="340.6"/>
<use href="#x" x="397.9" y="263.9"/>
<use href="#x" x="398.0" y="379.9"/>
<use href="#x" x="398.1" y="377.6"/>
<use href="#x" x="398.1" y="410.8"/>
<use href="#x" x="398.2" y="268.5"/>
<use href="#c" x="398.3" y="412.3"/>
<use href="#x" x="398.4" y="344.3"/>
<use href="#x" x="398.5" y="408.6"/>
<use href="#x" x="398.6" y="250.0"/>
<use href="#x" x="398.7" y="383.7"/>
<use href="#x" x="398.7" y="380.5"/>
<use href="#x" x="398.7" y="317.0"/>
<use href="#x" x="398.7" y="377.3"/>
<use href="#c" x="398.7" y="367.6"/>
<use href="#x" x="398.8" y="408.2"/>
<use href="#c" x="398.9" y="398.8"/>
<use href="#x" x="398.9" y="398.2"/>
<use href="#x" x="398.9" y="370.1"/>
<use href="#x" x="399.0" y="316.4"/>
<use href="#x" x="399.1" y="379.9"/>
<use href="#x" x="399.4" y="387.7"/>
<use href="#x" x="399.7" y="405.7"/>
<use href="#x" x="399.7" y="407.8"/>
<use href="#c" x="399.8" y="390.6"/>
<use href="#x" x="400.0" y="412.4"/>
<use href="#x" x="400.2" y="343.0"/>
<use href="#x" x="400.2" y="407.8"/>
<use href="#x" x="400.3" y="325.6"/>
<use href="#x" x="400.3" y="327.7"/>
<use href="#x" x="400.3" y="400.4"/>
<use href="#x" x="400.5" y="385.5"/>
<use href="#x" x="400.6" y="377.2"/>
<use href="#c" x="400.6" y="406.0"/>
<use href="#x" x="400.7" y="413.6"/>
<use href="#x" x="400.7" y="408.7"/>
<use href="#c" x="400.7" y="382.7"/>
<use href="#x" x="400.9" y="413.4"/>
<use href="#x" x="400.9" y="263.0"/>
<use href="#x" x="400.9" y="412.9"/>
<use href="#x" x="401.0" y="402.2"/>
<use href="#x" x="401.1" y="394.4"/>
<use href="#x" x="401.3" y="411.2"/>
<use href="#x" x="401.3" y="387.8"/>
<use href="#x" x="401.4" y="344.0"/>
<use href="#x" x="401.4" y="313.2"/>
<use href="#x" x="401.5" y="398.6"/>
<use href="#c" x="401.6" y="338.8"/>
<use href="#c" x="401.6" y="252.0"/>
<use href="#x" x="401.7" y="405.3"/>
<use href="#x" x="401.7" y="391.4"/>
<use href="#x" x="401.7" y="403.4"/>
<use href="#x" x="401.8" y="376.2"/>
<use href="#x" x="401.8" y="411.1"/>
<use href="#x" x="401.9" y="323.6"/>
<use href="#x" x="401.9" y="399.3"/>
<use href="#x" x="402.0" y="399.2"/>
<use href="#x" x="402.2" y="343.4"/>
<use href="#x" x="402.4" y="383.1"/>
<use href="#x" x="402.4" y="343.9"/>
<use href="#x" x="402.5" y="365.1"/>
<use href="#x" x="402.5" y="367.5"/>
<use href="#x" x="402.5" y="401.3"/>
<use href="#x" x="402.7" y="405.2"/>
<use href="#x" x="402.8" y="391.3"/>
<use href="#c" x="402.8" y="411.6"/>
<use href="#x" x="402.8" y="313.1"/>
<use href="#x" x="402.9" y="390.5"/>
<use href="#c" x="402.9" y="390.6"/>
<use href="#x" x="403.0" y="376.7"/>
<use href="#x" x="403.0" y="342.6"/>
<use href="#x" x="403.1" y="401.1"/>
<use href="#x" x="403.1" y="312.1"/>
<use href="#x" x="403.2" y="374.0"/>
<use href="#x" x="403.3" y="371.9"/>
<use href="#x" x="403.3" y="404.5"/>
<use href="#c" x="403.3" y="359.9"/>
<use href="#c" x="403.4" y="400.3"/>
<use href="#c" x="403.8" y="410.0"/>
<use href="#x" x="403.8" y="412.8"/>
<use href="#x" x="403.8" y="360.7"/>
<use href="#x" x="403.8" y="383.2"/>
<use href="#c" x="403.9" y="406.6"/>
<use href="#x" x="404.0" y="314.5"/>
<use href="#x" x="404.2" y="377.7"/>
<use href="#x" x="404.3" y="395.4"/>
<use href="#x" x="404.3" y="412.8"/>
<use href="#x" x="404.3" y="411.9"/>
<use href="#x" x="404.5" y="410.5"/>
<use href="#x" x="404.6" y="401.1"/>
<use href="#x" x="404.6" y="411.9"/>
<use href="#c" x="404.7" y="412.3"/>
<use href="#x" x="404.8" y="409.8"/>
<use href="#x" x="404.9" y="408.1"/>
<use href="#x" x="404.9" y="395.2"/>
<use href="#x" x="405.0" y="404.2"/>
<use href="#c" x="405.0" y="400.7"/>
<use href="#c" x="405.1" y="411.8"/>
<use href="#x" x="405.2" y="339.9"/>
<use href="#x" x="405.3" y="392.8"/>
<use href="#x" x="405.5" y="408.8"/>
<use href="#x" x="405.7" y="314.9"/>
<use href="#c" x="405.7" y="395.5"/>
<use href="#c" x="405.8" y="384.8"/>
<use href="#x" x="405.8" y="405.8"/>
<use href="#c" x="405.8" y="335.9"/>
<use href="#x" x="405.8" y="412.1"/>
<use href="#c" x="406.0" y="374.4"/>
<use href="#x" x="406.1" y="383.6"/>
<use href="#c" x="406.2" y="413.5"/>
<use href="#c" x="406.5" y="402.7"/>
<use href="#x" x="406.5" y="377.6"/>
<use href="#x" x="406.5" y="397.9"/>
<use href="#x" x="406.6" y="309.2"/>
<use href="#c" x="406.7" y="412.4"/>
<use href="#x" x="406.7" y="315.2"/>
<use href="#x" x="406.8" y="410.4"/>
<use href="#x" x="406.8" y="380.1"/>
<use href="#x" x="407.1" y="402.9"/>
<use href="#x" x="407.1" y="377.1"/>
<use href="#x" x="407.1" y="324.2"/>
<use href="#x" x="407.2" y="405.5"/>
<use href="#c" x="407.2" y="406.4"/>
<use href="#x" x="407.3" y="389.6"/>
<use href="#x" x="407.3" y="368.0"/>
<use href="#x" x="407.7" y="323.0"/>
<use href="#x" x="407.7" y="375.8"/>
<use href="#x" x="407.8" y="407.7"/>
<use href="#x" x="407.9" y="386.0"/>
<use href="#x" x="408.0" y="409.5"/>
<use href="#x" x="408.1" y="398.5"/>
<use href="#c" x="408.2" y="376.2"/>
<use href="#x" x="408.3" y="392.3"/>
<use href="#x" x="408.3" y="405.0"/>
<use href="#x" x="408.3" y="366.0"/>
<use href="#x" x="408.4" y="397.4"/>
<use href="#x" x="408.5" y="413.3"/>
<use href="#x" x="408.6" y="413.3"/>
<use href="#x" x="408.7" y="407.3"/>
<use href="#c" x="408.8" y="375.7"/>
<use href="#x" x="408.8" y="377.2"/>
<use href="#c" x="408.8" y="398.1"/>
<use href="#x" x="408.8" y="412.0"/>
<use href="#c" x="409.0" y="386.6"/>
<use href="#c" x="409.0" y="412.1"/>
<use href="#x" x="409.0" y="398.4"/>
<use href="#x" x="409.1" y="409.1"/>
<use href="#x" x="409.1" y="342.3"/>
<use href="#x" x="409.3" y="367.5"/>
<use href="#x" x="409.4" y="315.3"/>
<use href="#x" x="409.5" y="392.5"/>
<use href="#x" x="409.6" y="388.6"/>
<use href="#x" x="409.7" y="317.4"/>
<use href="#c" x="409.8" y="398.6"/>
<use href="#x" x="410.0" y="406.3"/>
<use href="#x" x="410.1" y="402.3"/>
<use href="#x" x="410.1" y="321.7"/>
<use href="#x" x="410.2" y="385.0"/>
<use href="#x" x="410.2" y="389.0"/>
<use href="#x" x="410.2" y="410.7"/>
<use href="#x" x="410.4" y="380.0"/>
<use href="#c" x="410.4" y="378.4"/>
<use href="#x" x="410.8" y="386.0"/>
<use href="#x" x="410.8" y="411.0"/>
<use href="#x" x="410.8" y="385.9"/>
<use href="#x" x="410.8" y="381.2"/>
<use href="#x" x="410.9" y="382.8"/>
<use href="#x" x="410.9" y="383.6"/>
<use href="#x" x="410.9" y="387.6"/>
<use href="#x" x="411.0" y="413.0"/>
<use href="#x" x="411.1" y="397.1"/>
<use href="#x" x="411.2" y="380.4"/>
<use href="#x" x="411.2" y="389.1"/>
<use href="#x" x="411.2" y="390.0"/>
<use href="#x" x="411.5" y="319.0"/>
<use href="#c" x="411.8" y="405.8"/>
<use href="#x" x="411.9" y="388.6"/>
<use href="#x" x="411.9" y="380.7"/>
<use href="#x" x="412.0" y="312.1"/>
<use href="#x" x="412.1" y="387.7"/>
<use href="#x" x="412.1" y="407.9"/>
<use href="#x" x="412.2" y="398.4"/>
<use href="#c" x="412.3" y="390.0"/>
<use href="#x" x="412.4" y="317.9"/>
<use href="#x" x="412.4" y="409.4"/>
<use href="#x" x="412.4" y="376.4"/>
<use href="#x" x="412.5" y="375.9"/>
<use href="#x" x="412.6" y="377.9"/>
<use href="#x" x="412.8" y="402.5"/>
<use href="#x" x="412.9" y="317.1"/>
<use href="#x" x="412.9" y="409.7"/>
<use href="#x" x="413.0" y="404.2"/>
<use href="#x" x="413.0" y="412.7"/>
<use href="#x" x="413.1" y="405.5"/>
<use href="#x" x="413.1" y="397.5"/>
<use href="#x" x="413.2" y="409.9"/>
<use href="#x" x="413.3" y="380.7"/>
<use href="#x" x="413.3" y="413.0"/>
<use href="#x" x="413.5" y="311.8"/>
<use href="#x" x="413.6" y="384.0"/>
<use href="#x" x="413.6" y="328.5"/>
<use href="#x" x="413.6" y="382.2"/>
<use href="#x" x="413.7" y="404.2"/>
<use href="#c" x="413.8" y="395.8"/>
<use href="#x" x="413.9" y="412.5"/>
<use href="#x" x="413.9" y="407.4"/>
<use href="#x" x="414.2" y="396.5"/>
<use href="#x" x="414.2" y="399.0"/>
<use href="#x" x="414.3" y="346.5"/>
<use href="#x" x="414.4" y="407.8"/>
<use href="#x" x="414.4" y="361.7"/>
<use href="#x" x="414.4" y="401.9"/>
<use href="#x" x="414.5" y="344.0"/>
<use href="#x" x="414.6" y="398.5"/>
<use href="#x" x="414.7" y="393.7"/>
<use href="#x" x="414.7" y="409.8"/>
<use href="#x" x="414.9" y="392.0"/>
<use href="#x" x="415.0" y="403.6"/>
<use href="#x" x="415.1" y="364.3"/>
<use href="#x" x="415.2" y="318.2"/>
<use href="#x" x="415.3" y="384.3"/>
<use href="#x" x="415.3" y="397.3"/>
<use href="#x" x="415.3" y="339.4"/>
<use href="#x" x="415.4" y="393.0"/>
<use href="#x" x="415.5" y="393.3"/>
<use href="#x" x="415.5" y="391.2"/>
<use href="#x" x="415.6" y="404.5"/>
<use href="#x" x="415.6" y="369.3"/>
<use href="#x" x="415.7" y="396.7"/>
<use href="#x" x="415.7" y="403.6"/>
<use href="#c" x="415.7" y="411.9"/>
<use href="#c" x="415.8" y="397.0"/>
<use href="#x" x="415.8" y="323.2"/>
<use href="#x" x="415.8" y="380.1"/>
<use href="#c" x="415.8" y="390.4"/>
<use href="#x" x="415.9" y="314.6"/>
<use href="#x" x="415.9" y="377.3"/>
<use href="#x" x="416.3" y="343.4"/>
<use href="#x" x="416.3" y="340.2"/>
<use href="#x" x="416.3" y="389.4"/>
<use href="#x" x="416.5" y="407.2"/>
<use href="#x" x="416.6" y="319.3"/>
<use href="#x" x="416.6" y="395.2"/>
<use href="#x" x="416.6" y="392.1"/>
<use href="#x" x="416.6" y="313.7"/>
<use href="#x" x="416.7" y="391.1"/>
<use href="#x" x="416.7" y="378.5"/>
<use href="#x" x="416.7" y="313.4"/>
<use href="#x" x="416.8" y="396.7"/>
<use href="#x" x="416.9" y="386.9"/>
<use href="#x" x="417.1" y="317.0"/>
<use href="#x" x="417.3" y="313.1"/>
<use href="#x" x="417.3" y="315.0"/>
<use href="#x" x="417.3" y="382.6"/>
<use href="#c" x="417.4" y="404.5"/>
<use href="#x" x="417.4" y="396.0"/>
<use href="#c" x="417.5" y="372.8"/>
<use href="#c" x="417.5" y="395.2"/>
<use href="#x" x="417.6" y="313.1"/>
<use href="#x" x="417.6" y="384.9"/>
<use href="#x" x="417.7" y="405.3"/>
<use href="#x" x="417.7" y="404.3"/>
<use href="#x" x="417.7" y="375.4"/>
<use href="#x" x="417.9" y="406.8"/>
<use href="#x" x="418.0" y="317.5"/>
<use href="#x" x="418.0" y="379.9"/>
<use href="#x" x="418.0" y="394.4"/>
<use href="#c" x="418.1" y="396.7"/>
<use href="#x" x="418.1" y="397.2"/>
<use href="#x" x="418.2" y="346.9"/>
<use href="#x" x="418.2" y="340.7"/>
<use href="#x" x="418.3" y="412.6"/>
<use href="#x" x="418.4" y="343.4"/>
<use href="#c" x="418.6" y="371.3"/>
<use href="#x" x="418.6" y="378.6"/>
<use href="#x" x="418.7" y="413.4"/>
<use href="#x" x="418.8" y="375.0"/>
<use href="#x" x="418.8" y="383.9"/>
<use href="#c" x="418.9" y="400.7"/>
<use href="#x" x="418.9" y="385.4"/>
<use href="#x" x="419.0" y="316.9"/>
<use href="#x" x="419.1" y="316.9"/>
<use href="#x" x="419.1" y="410.6"/>
<use href="#c" x="419.1" y="338.9"/>
<use href="#x" x="419.3" y="313.8"/>
<use href="#x" x="419.3" y="392.4"/>
<use href="#x" x="419.4" y="363.1"/>
<use href="#x" x="419.5" y="401.9"/>
<use href="#x" x="419.5" y="366.4"/>
<use href="#x" x="419.5" y="400.4"/>
<use href="#x" x="419.6" y="312.1"/>
<use href="#x" x="419.8" y="404.7"/>
<use href="#x" x="419.8" y="399.3"/>
<use href="#x" x="419.8" y="399.0"/>
<use href="#x" x="420.0" y="406.6"/>
<use href="#x" x="420.0" y="389.4"/>
<use href="#x" x="420.4" y="393.4"/>
<use href="#x" x="420.4" y="413.2"/>
<use href="#x" x="420.5" y="386.5"/>
<use href="#c" x="420.5" y="411.2"/>
<use href="#x" x="420.5" y="388.6"/>
<use href="#x" x="420.6" y="386.0"/>
<use href="#x" x="420.7" y="374.9"/>
<use href="#x" x="420.7" y="368.9"/>
<use href="#x" x="420.9" y="382.7"/>
<use href="#x" x="421.1" y="378.7"/>
<use href="#x" x="421.1" y="411.0"/>
<use href="#x" x="421.3" y="394.6"/>
<use href="#c" x="421.4" y="408.9"/>
<use href="#x" x="421.4" y="400.9"/>
<use href="#c" x="421.6" y="387.5"/>
<use href="#c" x="421.6" y="411.7"/>
<use href="#c" x="421.9" y="407.6"/>
<use href="#x" x="421.9" y="377.0"/>
<use href="#x" x="421.9" y="394.7"/>
<use href="#x" x="422.0" y="382.7"/>
<use href="#x" x="422.1" y="397.5"/>
<use href="#x" x="422.2" y="378.2"/>
<use href="#c" x="422.4" y="408.9"/>
<use href="#x" x="422.5" y="380.4"/>
<use href="#x" x="422.6" y="384.5"/>
<use href="#x" x="422.6" y="412.9"/>
<use href="#x" x="422.7" y="379.6"/>
<use href="#c" x="422.8" y="413.5"/>
<use href="#x" x="422.9" y="407.6"/>
<use href="#x" x="423.1" y="388.9"/>
<use href="#x" x="423.2" y="316.7"/>
<use href="#x" x="423.3" y="358.6"/>
<use href="#x" x="423.4" y="402.5"/>
<use href="#x" x="423.4" y="410.8"/>
<use href="#x" x="423.4" y="339.1"/>
<use href="#x" x="423.5" y="407.4"/>
<use href="#x" x="423.5" y="385.0"/>
<use href="#x" x="423.5" y="373.1"/>
<use href="#x" x="423.6" y="340.2"/>
<use href="#c" x="423.6" y="380.1"/>
<use href="#x" x="423.6" y="340.0"/>
<use href="#c" x="423.8" y="390.4"/>
<use href="#x" x="423.9" y="375.0"/>
<use href="#x" x="423.9" y="330.7"/>
<use href="#x" x="423.9" y="406.2"/>
<use href="#x" x="424.2" y="404.6"/>
<use href="#x" x="424.2" y="380.2"/>
<use href="#x" x="424.3" y="379.6"/>
<use href="#x" x="424.4" y="412.8"/>
<use href="#x" x="424.4" y="382.7"/>
<use href="#x" x="424.4" y="407.1"/>
<use href="#x" x="424.4" y="408.1"/>
<use href="#x" x="424.5" y="343.6"/>
<use href="#c" x="424.5" y="396.4"/>
<use href="#x" x="424.6" y="405.6"/>
<use href="#x" x="424.7" y="391.2"/>
<use href="#x" x="424.8" y="408.1"/>
<use href="#x" x="424.9" y="405.1"/>
<use href="#x" x="425.0" y="410.6"/>
<use href="#x" x="425.1" y="391.2"/>
<use href="#x" x="425.2" y="401.7"/>
<use href="#c" x="425.3" y="363.9"/>
<use href="#c" x="425.3" y="413.4"/>
<use href="#x" x="425.7" y="391.6"/>
<use href="#x" x="425.7" y="390.2"/>
<use href="#x" x="425.7" y="383.3"/>
<use href="#x" x="425.7" y="403.5"/>
<use href="#x" x="425.7" y="388.5"/>
<use href="#x" x="425.8" y="382.0"/>
<use href="#x" x="425.8" y="351.9"/>
<use href="#c" x="425.9" y="391.4"/>
<use href="#c" x="426.0" y="413.1"/>
<use href="#x" x="426.2" y="369.9"/>
<use href="#x" x="426.2" y="401.0"/>
<use href="#x" x="426.3" y="386.8"/>
<use href="#c" x="426.3" y="375.9"/>
<use href="#x" x="426.5" y="315.2"/>
<use href="#x" x="426.5" y="397.9"/>
<use href="#x" x="426.7" y="400.6"/>
<use href="#x" x="426.7" y="406.1"/>
<use href="#c" x="426.7" y="409.0"/>
<use href="#x" x="426.8" y="390.4"/>
<use href="#x" x="426.9" y="408.8"/>
<use href="#x" x="427.0" y="388.4"/>
<use href="#x" x="427.0" y="413.2"/>
<use href="#x" x="427.3" y="372.2"/>
<use href="#x" x="427.3" y="394.6"/>
<use href="#x" x="427.3" y="380.4"/>
<use href="#x" x="427.5" y="377.4"/>
<use href="#x" x="427.5" y="360.5"/>
<use href="#x" x="427.5" y="412.3"/>
<use href="#x" x="427.7" y="405.7"/>
<use href="#c" x="427.7" y="391.3"/>
<use href="#x" x="428.0" y="384.4"/>
<use href="#x" x="428.1" y="399.4"/>
<use href="#x" x="428.2" y="409.3"/>
<use href="#x" x="428.3" y="400.4"/>
<use href="#x" x="428.4" y="404.8"/>
<use href="#x" x="428.5" y="413.0"/>
<use href="#x" x="428.6" y="384.7"/>
<use href="#c" x="428.7" y="403.8"/>
<use href="#x" x="428.7" y="394.4"/>
<use href="#x" x="428.9" y="380.6"/>
<use href="#x" x="428.9" y="403.7"/>
<use href="#x" x="429.0" y="391.2"/>
<use href="#x" x="429.1" y="402.2"/>
<use href="#x" x="429.2" y="400.8"/>
<use href="#x" x="429.3" y="345.4"/>
<use href="#x" x="429.3" y="345.8"/>
<use href="#x" x="429.4" y="408.3"/>
<use href="#x" x="429.5" y="404.8"/>
<use href="#x" x="429.6" y="413.2"/>
<use href="#x" x="429.7" y="402.8"/>
<use href="#x" x="429.7" y="406.3"/>
<use href="#x" x="429.8" y="396.6"/>
<use href="#x" x="429.8" y="392.9"/>
<use href="#x" x="429.8" y="359.8"/>
<use href="#x" x="429.9" y="404.8"/>
<use href="#x" x="430.0" y="330.5"/>
<use href="#c" x="430.0" y="323.2"/>
<use href="#x" x="430.2" y="392.1"/>
<use href="#x" x="430.2" y="379.1"/>
<use href="#x" x="430.4" y="391.3"/>
<use href="#c" x="430.6" y="410.8"/>
<use href="#c" x="430.7" y="387.1"/>
<use href="#x" x="430.7" y="390.3"/>
<use href="#x" x="430.8" y="396.5"/>
<use href="#x" x="430.9" y="411.9"/>
<use href="#x" x="430.9" y="404.9"/>
<use href="#x" x="431.0" y="397.5"/>
<use href="#x" x="431.2" y="362.6"/>
<use href="#x" x="431.2" y="389.8"/>
<use href="#x" x="431.4" y="390.8"/>
<use href="#c" x="431.6" y="323.2"/>
<use href="#x" x="431.7" y="388.6"/>
<use href="#x" x="431.8" y="373.7"/>
<use href="#x" x="431.8" y="391.0"/>
<use href="#x" x="431.9" y="406.1"/>
<use href="#x" x="431.9" y="379.2"/>
<use href="#x" x="432.0" y="387.4"/>
<use href="#c" x="432.0" y="378.7"/>
<use href="#x" x="432.1" y="386.6"/>
<use href="#x" x="432.3" y="402.4"/>
<use href="#x" x="432.3" y="393.5"/>
<use href="#c" x="432.4" y="412.6"/>
<use href="#x" x="432.5" y="380.9"/>
<use href="#c" x="432.6" y="394.2"/>
<use href="#x" x="432.6" y="349.2"/>
<use href="#x" x="432.6" y="398.6"/>
<use href="#c" x="432.7" y="412.9"/>
<use href="#x" x="432.8" y="390.9"/>
<use href="#c" x="432.9" y="405.5"/>
<use href="#c" x="433.1" y="395.8"/>
<use href="#x" x="433.1" y="390.8"/>
<use href="#x" x="433.3" y="374.2"/>
<use href="#x" x="433.4" y="379.7"/>
<use href="#c" x="433.4" y="398.0"/>
<use href="#x" x="433.4" y="321.5"/>
<use href="#x" x="433.7" y="381.2"/>
<use href="#x" x="433.7" y="345.3"/>
<use href="#x" x="433.8" y="407.5"/>
<use href="#x" x="433.8" y="383.8"/>
<use href="#c" x="433.9" y="369.2"/>
<use href="#x" x="433.9" y="385.7"/>
<use href="#c" x="434.0" y="396.6"/>
<use href="#x" x="434.0" y="382.4"/>
<use href="#c" x="434.1" y="287.7"/>
<use href="#c" x="434.2" y="287.0"/>
<use href="#x" x="434.3" y="375.2"/>
<use href="#x" x="434.3" y="395.2"/>
<use href="#c" x="434.5" y="400.3"/>
<use href="#c" x="434.5" y="413.0"/>
<use href="#c" x="434.6" y="287.7"/>
<use href="#x" x="434.7" y="411.4"/>
<use href="#c" x="434.7" y="345.7"/>
<use href="#x" x="434.8" y="384.1"/>
<use href="#x" x="435.0" y="410.9"/>
<use href="#c" x="435.1" y="406.8"/>
<use href="#x" x="435.2" y="392.6"/>
<use href="#x" x="435.2" y="408.2"/>
<use href="#x" x="435.3" y="413.3"/>
<use href="#x" x="435.3" y="409.1"/>
<use href="#x" x="435.4" y="390.6"/>
<use href="#x" x="435.5" y="403.4"/>
<use href="#x" x="435.8" y="397.8"/>
<use href="#x" x="435.8" y="389.9"/>
<use href="#x" x="435.8" y="412.0"/>
<use href="#x" x="435.9" y="343.9"/>
<use href="#x" x="435.9" y="409.0"/>
<use href="#x" x="436.1" y="388.9"/>
<use href="#x" x="436.1" y="340.8"/>
<use href="#x" x="436.1" y="397.2"/>
<use href="#x" x="436.2" y="389.0"/>
<use href="#x" x="436.4" y="364.0"/>
<use href="#x" x="436.4" y="377.8"/>
<use href="#x" x="436.5" y="397.0"/>
<use href="#c" x="436.5" y="351.5"/>
<use href="#x" x="436.7" y="411.5"/>
<use href="#x" x="436.7" y="391.7"/>
<use href="#x" x="436.7" y="411.4"/>
<use href="#x" x="436.9" y="385.7"/>
<use href="#x" x="436.9" y="398.5"/>
<use href="#x" x="437.0" y="370.7"/>
<use href="#x" x="437.0" y="408.6"/>
<use href="#c" x="437.0" y="379.3"/>
<use href="#x" x="437.2" y="380.8"/>
<use href="#x" x="437.3" y="407.4"/>
<use href="#c" x="437.4" y="413.1"/>
<use href="#x" x="437.5" y="408.5"/>
<use href="#x" x="437.7" y="404.6"/>
<use href="#x" x="437.8" y="382.9"/>
<use href="#c" x="438.0" y="408.3"/>
<use href="#x" x="438.2" y="380.3"/>
<use href="#x" x="438.2" y="405.7"/>
<use href="#x" x="438.3" y="388.2"/>
<use href="#x" x="438.4" y="376.1"/>
<use href="#c" x="438.4" y="402.4"/>
<use href="#c" x="438.5" y="344.0"/>
<use href="#c" x="438.5" y="380.7"/>
<use href="#x" x="438.6" y="405.3"/>
<use href="#x" x="438.6" y="364.4"/>
<use href="#x" x="438.7" y="389.3"/>
<use href="#x" x="438.9" y="402.4"/>
<use href="#c" x="439.0" y="383.1"/>
<use href="#c" x="439.0" y="336.0"/>
<use href="#x" x="439.0" y="367.0"/>
<use href="#x" x="439.1" y="379.7"/>
<use href="#x" x="439.2" y="350.0"/>
<use href="#x" x="439.2" y="381.4"/>
<use href="#x" x="439.4" y="402.7"/>
<use href="#x" x="439.5" y="390.4"/>
<use href="#x" x="439.6" y="388.2"/>
<use href="#x" x="439.7" y="367.8"/>
<use href="#x" x="439.8" y="381.2"/>
<use href="#c" x="439.9" y="399.5"/>
<use href="#x" x="440.0" y="381.3"/>
<use href="#x" x="440.0" y="293.0"/>
<use href="#x" x="440.1" y="388.0"/>
<use href="#x" x="440.4" y="391.3"/>
<use href="#c" x="440.5" y="405.4"/>
<use href="#x" x="440.5" y="403.8"/>
<use href="#x" x="440.6" y="373.4"/>
<use href="#x" x="440.6" y="403.7"/>
<use href="#x" x="440.7" y="377.8"/>
<use href="#x" x="440.7" y="383.6"/>
<use href="#x" x="440.9" y="403.5"/>
<use href="#x" x="440.9" y="413.3"/>
<use href="#x" x="441.1" y="380.7"/>
<use href="#c" x="441.3" y="379.3"/>
<use href="#x" x="441.3" y="384.4"/>
<use href="#x" x="441.4" y="411.6"/>
<use href="#x" x="441.4" y="396.2"/>
<use href="#c" x="441.5" y="304.9"/>
<use href="#c" x="441.5" y="397.4"/>
<use href="#x" x="441.7" y="393.7"/>
<use href="#x" x="441.8" y="384.5"/>
<use href="#x" x="441.9" y="396.2"/>
<use href="#x" x="442.0" y="395.0"/>
<use href="#x" x="442.1" y="380.6"/>
<use href="#x" x="442.1" y="392.6"/>
<use href="#x" x="442.1" y="399.4"/>
<use href="#c" x="442.2" y="376.2"/>
<use href="#x" x="442.4" y="400.0"/>
<use href="#x" x="442.5" y="384.1"/>
<use href="#x" x="442.5" y="387.5"/>
<use href="#x" x="442.6" y="395.1"/>
<use href="#x" x="442.6" y="405.1"/>
<use href="#x" x="442.7" y="390.5"/>
<use href="#c" x="442.8" y="390.6"/>
<use href="#x" x="442.9" y="378.2"/>
<use href="#x" x="443.0" y="390.8"/>
<use href="#x" x="443.2" y="412.1"/>
<use href="#c" x="443.4" y="320.7"/>
<use href="#x" x="443.5" y="379.4"/>
<use href="#x" x="443.5" y="393.0"/>
<use href="#x" x="443.6" y="393.7"/>
<use href="#x" x="443.7" y="406.3"/>
<use href="#x" x="443.9" y="411.1"/>
<use href="#x" x="443.9" y="374.1"/>
<use href="#c" x="444.0" y="357.0"/>
<use href="#x" x="444.0" y="411.4"/>
<use href="#x" x="444.1" y="410.9"/>
<use href="#x" x="444.3" y="387.2"/>
<use href="#x" x="444.5" y="380.4"/>
<use href="#x" x="444.6" y="397.5"/>
<use href="#x" x="444.6" y="381.6"/>
<use href="#x" x="444.8" y="379.2"/>
<use href="#x" x="445.0" y="385.3"/>
<use href="#c" x="445.1" y="398.5"/>
<use href="#x" x="445.1" y="413.2"/>
<use href="#x" x="445.2" y="406.2"/>
<use href="#c" x="445.2" y="412.3"/>
<use href="#c" x="445.3" y="408.5"/>
<use href="#x" x="445.5" y="411.4"/>
<use href="#x" x="445.8" y="404.8"/>
<use href="#x" x="445.9" y="377.6"/>
<use href="#c" x="445.9" y="374.3"/>
<use href="#x" x="445.9" y="410.6"/>
<use href="#x" x="446.0" y="412.3"/>
<use href="#x" x="446.1" y="412.8"/>
<use href="#x" x="446.1" y="388.0"/>
<use href="#x" x="446.1" y="390.4"/>
<use href="#x" x="446.2" y="411.8"/>
<use href="#c" x="446.5" y="354.0"/>
<use href="#x" x="446.5" y="391.9"/>
<use href="#c" x="446.6" y="383.8"/>
<use href="#x" x="446.8" y="360.9"/>
<use href="#c" x="446.8" y="376.9"/>
<use href="#x" x="446.9" y="385.7"/>
<use href="#x" x="446.9" y="405.5"/>
<use href="#c" x="447.0" y="402.7"/>
<use href="#x" x="447.0" y="413.5"/>
<use href="#x" x="447.2" y="388.2"/>
<use href="#x" x="447.5" y="398.1"/>
<use href="#x" x="447.5" y="404.5"/>
<use href="#x" x="447.5" y="408.9"/>
<use href="#x" x="447.5" y="295.5"/>
<use href="#x" x="447.6" y="394.0"/>
<use href="#x" x="447.7" y="400.7"/>
<use href="#x" x="447.8" y="397.2"/>
<use href="#c" x="447.9" y="389.2"/>
<use href="#x" x="448.0" y="387.0"/>
<use href="#x" x="448.1" y="398.7"/>
<use href="#x" x="448.2" y="395.1"/>
<use href="#x" x="448.2" y="413.6"/>
<use href="#x" x="448.6" y="395.6"/>
<use href="#x" x="448.6" y="390.0"/>
<use href="#x" x="448.9" y="378.4"/>
<use href="#x" x="449.0" y="345.0"/>
<use href="#c" x="449.2" y="412.6"/>
<use href="#x" x="449.2" y="410.0"/>
<use href="#c" x="449.3" y="413.3"/>
<use href="#x" x="449.4" y="401.1"/>
<use href="#x" x="449.4" y="383.4"/>
<use href="#x" x="449.5" y="406.0"/>
<use href="#x" x="449.5" y="410.6"/>
<use href="#x" x="449.6" y="396.6"/>
<use href="#x" x="449.6" y="403.5"/>
<use href="#c" x="449.6" y="399.6"/>
<use href="#x" x="449.9" y="408.2"/>
<use href="#x" x="450.0" y="385.6"/>
<use href="#x" x="450.2" y="397.5"/>
<use href="#x" x="450.3" y="406.6"/>
<use href="#c" x="450.4" y="385.5"/>
<use href="#x" x="450.7" y="404.1"/>
<use href="#x" x="450.8" y="383.1"/>
<use href="#x" x="451.0" y="412.1"/>
<use href="#x" x="451.1" y="400.7"/>
<use href="#c" x="451.1" y="401.9"/>
<use href="#c" x="451.2" y="388.0"/>
<use href="#c" x="451.3" y="390.9"/>
<use href="#x" x="451.3" y="377.4"/>
<use href="#x" x="451.3" y="413.4"/>
<use href="#x" x="451.4" y="397.9"/>
<use href="#c" x="451.4" y="398.1"/>
<use href="#x" x="451.6" y="392.2"/>
<use href="#c" x="451.6" y="409.3"/>
<use href="#x" x="451.8" y="381.1"/>
<use href="#x" x="451.8" y="407.6"/>
<use href="#x" x="451.8" y="407.6"/>
<use href="#x" x="451.9" y="402.7"/>
<use href="#x" x="452.0" y="272.4"/>
<use href="#x" x="452.1" y="408.5"/>
<use href="#x" x="452.1" y="273.3"/>
<use href="#x" x="452.1" y="371.8"/>
<use href="#x" x="452.2" y="403.7"/>
<use href="#x" x="452.4" y="412.2"/>
<use href="#x" x="452.5" y="401.8"/>
<use href="#x" x="452.7" y="394.8"/>
<use href="#x" x="452.7" y="412.2"/>
<use href="#x" x="452.8" y="388.2"/>
<use href="#x" x="452.9" y="380.4"/>
<use href="#x" x="453.0" y="378.1"/>
<use href="#c" x="453.0" y="372.7"/>
<use href="#x" x="453.1" y="407.5"/>
<use href="#c" x="453.3" y="405.1"/>
<use href="#c" x="453.4" y="412.3"/>
<use href="#x" x="453.4" y="403.3"/>
<use href="#c" x="453.6" y="412.6"/>
<use href="#x" x="453.7" y="411.9"/>
<use href="#x" x="453.8" y="398.1"/>
<use href="#x" x="453.9" y="409.1"/>
<use href="#c" x="454.0" y="401.8"/>
<use href="#x" x="454.0" y="362.3"/>
<use href="#x" x="454.0" y="411.4"/>
<use href="#c" x="454.1" y="408.9"/>
<use href="#x" x="454.1" y="408.4"/>
<use href="#x" x="454.2" y="365.2"/>
<use href="#x" x="454.4" y="404.3"/>
<use href="#x" x="454.5" y="394.7"/>
<use href="#c" x="454.6" y="371.4"/>
<use href="#c" x="454.6" y="410.5"/>
<use href="#c" x="454.8" y="410.0"/>
<use href="#c" x="454.8" y="377.6"/>
<use href="#x" x="455.0" y="340.0"/>
<use href="#x" x="455.2" y="410.6"/>
<use href="#x" x="455.3" y="378.4"/>
<use href="#x" x="455.3" y="393.6"/>
<use href="#c" x="455.5" y="411.9"/>
<use href="#c" x="455.5" y="392.7"/>
<use href="#c" x="455.5" y="388.5"/>
<use href="#x" x="455.6" y="390.2"/>
<use href="#x" x="455.8" y="381.4"/>
<use href="#x" x="455.8" y="401.5"/>
<use href="#x" x="455.8" y="392.9"/>
<use href="#x" x="456.0" y="376.7"/>
<use href="#c" x="456.0" y="400.4"/>
<use href="#x" x="456.1" y="401.4"/>
<use href="#x" x="456.2" y="401.0"/>
<use href="#x" x="456.4" y="408.2"/>
<use href="#x" x="456.6" y="405.5"/>
<use href="#x" x="456.7" y="405.8"/>
<use href="#x" x="456.9" y="393.3"/>
<use href="#c" x="456.9" y="402.0"/>
<use href="#x" x="456.9" y="409.7"/>
<use href="#c" x="457.0" y="394.1"/>
<use href="#x" x="457.4" y="413.5"/>
<use href="#x" x="457.5" y="394.8"/>
<use href="#c" x="457.5" y="399.4"/>
<use href="#x" x="457.6" y="411.7"/>
<use href="#c" x="457.6" y="399.9"/>
<use href="#c" x="457.7" y="411.0"/>
<use href="#c" x="458.0" y="374.6"/>
<use href="#c" x="458.1" y="377.2"/>
<use href="#x" x="458.2" y="380.8"/>
<use href="#c" x="458.2" y="410.5"/>
<use href="#x" x="458.2" y="384.9"/>
<use href="#x" x="458.4" y="390.0"/>
<use href="#x" x="458.5" y="412.3"/>
<use href="#x" x="458.6" y="407.5"/>
<use href="#x" x="458.7" y="386.7"/>
<use href="#x" x="458.8" y="405.6"/>
<use href="#x" x="458.8" y="393.6"/>
<use href="#x" x="458.9" y="385.2"/>
<use href="#x" x="459.0" y="373.1"/>
<use href="#x" x="459.0" y="384.9"/>
<use href="#c" x="459.1" y="408.6"/>
<use href="#x" x="459.4" y="404.7"/>
<use href="#x" x="459.5" y="397.1"/>
<use href="#x" x="459.5" y="413.0"/>
<use href="#x" x="459.6" y="411.0"/>
<use href="#x" x="459.7" y="412.0"/>
<use href="#x" x="459.9" y="392.2"/>
<use href="#x" x="460.0" y="403.4"/>
<use href="#x" x="460.0" y="353.0"/>
<use href="#x" x="460.1" y="385.1"/>
<use href="#x" x="460.2" y="412.2"/>
<use href="#x" x="460.5" y="398.9"/>
<use href="#x" x="460.5" y="393.9"/>
<use href="#x" x="460.5" y="408.7"/>
<use href="#c" x="460.8" y="412.7"/>
<use href="#x" x="460.9" y="397.3"/>
<use href="#x" x="460.9" y="383.7"/>
<use href="#c" x="461.0" y="391.1"/>
<use href="#c" x="461.1" y="413.3"/>
<use href="#c" x="461.2" y="403.5"/>
<use href="#x" x="461.2" y="412.3"/>
<use href="#c" x="461.2" y="387.1"/>
<use href="#x" x="461.3" y="378.5"/>
<use href="#x" x="461.4" y="385.1"/>
<use href="#c" x="461.5" y="413.3"/>
<use href="#x" x="461.6" y="376.8"/>
<use href="#x" x="461.7" y="386.9"/>
<use href="#x" x="461.7" y="384.6"/>
<use href="#c" x="461.8" y="374.8"/>
<use href="#x" x="461.9" y="404.8"/>
<use href="#x" x="462.0" y="391.1"/>
<use href="#x" x="462.0" y="396.3"/>
<use href="#x" x="462.0" y="384.9"/>
<use href="#x" x="462.0" y="402.7"/>
<use href="#x" x="462.1" y="412.7"/>
<use href="#x" x="462.2" y="398.4"/>
<use href="#c" x="462.5" y="409.1"/>
<use href="#x" x="462.6" y="388.8"/>
<use href="#c" x="462.7" y="407.6"/>
<use href="#x" x="463.0" y="402.9"/>
<use href="#x" x="463.0" y="387.8"/>
<use href="#x" x="463.2" y="411.0"/>
<use href="#x" x="463.2" y="411.5"/>
<use href="#x" x="463.3" y="412.1"/>
<use href="#x" x="463.4" y="394.3"/>
<use href="#x" x="463.5" y="393.1"/>
<use href="#x" x="463.6" y="316.6"/>
<use href="#x" x="463.6" y="411.1"/>
<use href="#x" x="463.7" y="412.7"/>
<use href="#x" x="463.7" y="385.3"/>
<use href="#x" x="463.9" y="385.3"/>
<use href="#x" x="464.0" y="407.8"/>
<use href="#x" x="464.1" y="390.8"/>
<use href="#x" x="464.2" y="373.4"/>
<use href="#x" x="464.3" y="390.1"/>
<use href="#x" x="464.3" y="370.0"/>
<use href="#x" x="464.4" y="412.9"/>
<use href="#x" x="464.5" y="409.6"/>
<use href="#c" x="464.6" y="394.2"/>
<use href="#x" x="464.6" y="395.7"/>
<use href="#x" x="464.6" y="375.9"/>
<use href="#c" x="464.7" y="413.5"/>
<use href="#x" x="464.8" y="380.5"/>
<use href="#x" x="464.8" y="373.5"/>
<use href="#x" x="464.8" y="412.0"/>
<use href="#x" x="465.2" y="412.2"/>
<use href="#c" x="465.2" y="397.5"/>
<use href="#x" x="465.3" y="376.0"/>
<use href="#x" x="465.5" y="402.7"/>
<use href="#x" x="465.7" y="401.4"/>
<use href="#x" x="465.9" y="373.3"/>
<use href="#c" x="465.9" y="412.8"/>
<use href="#c" x="465.9" y="404.3"/>
<use href="#x" x="465.9" y="406.4"/>
<use href="#c" x="465.9" y="399.5"/>
<use href="#c" x="466.0" y="365.2"/>
<use href="#x" x="466.0" y="368.6"/>
<use href="#x" x="466.2" y="412.6"/>
<use href="#x" x="466.2" y="412.1"/>
<use href="#x" x="466.2" y="374.3"/>
<use href="#x" x="466.3" y="373.8"/>
<use href="#x" x="466.5" y="398.2"/>
<use href="#c" x="466.5" y="373.7"/>
<use href="#c" x="466.6" y="413.6"/>
<use href="#x" x="466.7" y="390.1"/>
<use href="#x" x="466.8" y="412.1"/>
<use href="#x" x="466.9" y="407.3"/>
<use href="#c" x="466.9" y="378.9"/>
<use href="#x" x="467.1" y="388.1"/>
<use href="#x" x="467.3" y="398.5"/>
<use href="#x" x="467.3" y="411.1"/>
<use href="#x" x="467.3" y="386.2"/>
<use href="#c" x="467.3" y="413.1"/>
<use href="#x" x="467.4" y="391.7"/>
<use href="#x" x="467.5" y="377.8"/>
<use href="#c" x="467.7" y="411.5"/>
<use href="#c" x="467.7" y="400.6"/>
<use href="#x" x="467.7" y="387.9"/>
<use href="#x" x="467.9" y="411.8"/>
<use href="#c" x="468.0" y="353.0"/>
<use href="#x" x="468.0" y="411.4"/>
<use href="#x" x="468.1" y="403.4"/>
<use href="#c" x="468.2" y="383.0"/>
<use href="#x" x="468.3" y="391.1"/>
<use href="#c" x="468.3" y="405.8"/>
<use href="#x" x="468.4" y="389.9"/>
<use href="#c" x="468.5" y="301.9"/>
<use href="#x" x="468.5" y="378.9"/>
<use href="#x" x="468.6" y="403.9"/>
<use href="#c" x="468.7" y="411.8"/>
<use href="#c" x="469.0" y="413.6"/>
<use href="#x" x="469.1" y="403.0"/>
<use href="#x" x="469.1" y="379.1"/>
<use href="#x" x="469.2" y="380.7"/>
<use href="#x" x="469.4" y="406.1"/>
<use href="#x" x="469.4" y="411.7"/>
<use href="#c" x="469.5" y="382.7"/>
<use href="#x" x="469.5" y="366.8"/>
<use href="#x" x="469.6" y="373.0"/>
<use href="#x" x="469.7" y="388.2"/>
<use href="#x" x="470.0" y="333.0"/>
<use href="#c" x="470.0" y="396.4"/>
<use href="#x" x="470.0" y="380.0"/>
<use href="#x" x="470.2" y="410.3"/>
<use href="#c" x="470.3" y="405.4"/>
<use href="#x" x="470.3" y="406.9"/>
<use href="#c" x="470.3" y="344.5"/>
<use href="#x" x="470.3" y="373.7"/>
<use href="#x" x="470.3" y="413.1"/>
<use href="#c" x="470.5" y="387.0"/>
<use href="#x" x="470.8" y="374.0"/>
<use href="#x" x="470.8" y="377.4"/>
<use href="#x" x="470.8" y="410.4"/>
<use href="#x" x="471.0" y="404.5"/>
<use href="#x" x="471.0" y="373.4"/>
<use href="#x" x="471.0" y="383.2"/>
<use href="#x" x="471.0" y="412.9"/>
<use href="#x" x="471.1" y="404.5"/>
<use href="#c" x="471.1" y="390.6"/>
<use href="#c" x="471.3" y="382.1"/>
<use href="#x" x="471.3" y="413.3"/>
<use href="#c" x="471.6" y="398.9"/>
<use href="#c" x="471.7" y="408.4"/>
<use href="#x" x="471.7" y="379.1"/>
<use href="#c" x="471.8" y="387.5"/>
<use href="#x" x="471.9" y="403.2"/>
<use href="#c" x="471.9" y="406.9"/>
<use href="#c" x="472.2" y="400.3"/>
<use href="#x" x="472.2" y="386.0"/>
<use href="#x" x="472.3" y="412.9"/>
<use href="#c" x="472.3" y="412.6"/>
<use href="#c" x="472.4" y="371.8"/>
<use href="#x" x="472.6" y="384.1"/>
<use href="#x" x="472.7" y="400.6"/>
<use href="#x" x="472.8" y="388.8"/>
<use href="#c" x="472.8" y="412.9"/>
<use href="#x" x="472.9" y="404.0"/>
<use href="#x" x="473.1" y="400.5"/>
<use href="#x" x="473.1" y="363.0"/>
<use href="#c" x="473.2" y="412.5"/>
<use href="#x" x="473.2" y="398.2"/>
<use href="#x" x="473.4" y="402.8"/>
<use href="#c" x="473.4" y="397.9"/>
<use href="#x" x="473.5" y="413.6"/>
<use href="#x" x="473.5" y="410.9"/>
<use href="#c" x="473.7" y="388.5"/>
<use href="#x" x="474.0" y="405.2"/>
<use href="#x" x="474.0" y="413.2"/>
<use href="#c" x="474.0" y="408.3"/>
<use href="#c" x="474.1" y="405.1"/>
<use href="#x" x="474.1" y="375.1"/>
<use href="#x" x="474.2" y="386.3"/>
<use href="#c" x="474.3" y="376.1"/>
<use href="#c" x="474.3" y="372.7"/>
<use href="#c" x="474.5" y="397.5"/>
<use href="#x" x="474.6" y="386.9"/>
<use href="#x" x="474.6" y="378.8"/>
<use href="#x" x="474.7" y="400.1"/>
<use href="#x" x="474.9" y="386.9"/>
<use href="#c" x="474.9" y="409.1"/>
<use href="#x" x="475.0" y="411.7"/>
<use href="#c" x="475.2" y="401.1"/>
<use href="#x" x="475.5" y="374.1"/>
<use href="#x" x="475.5" y="388.7"/>
<use href="#c" x="475.5" y="385.5"/>
<use href="#c" x="475.6" y="412.0"/>
<use href="#x" x="475.6" y="382.3"/>
<use href="#x" x="475.7" y="343.4"/>
<use href="#x" x="475.8" y="374.7"/>
<use href="#x" x="475.9" y="379.4"/>
<use href="#x" x="475.9" y="405.2"/>
<use href="#x" x="475.9" y="379.8"/>
<use href="#x" x="476.0" y="406.3"/>
<use href="#x" x="476.3" y="389.1"/>
<use href="#c" x="476.4" y="394.3"/>
<use href="#x" x="476.5" y="381.6"/>
<use href="#c" x="476.6" y="402.1"/>
<use href="#x" x="476.7" y="389.1"/>
<use href="#x" x="476.7" y="377.2"/>
<use href="#c" x="476.7" y="382.3"/>
<use href="#x" x="476.8" y="400.6"/>
<use href="#x" x="476.9" y="410.8"/>
<use href="#x" x="477.0" y="412.0"/>
<use href="#x" x="477.2" y="380.2"/>
<use href="#c" x="477.3" y="376.1"/>
<use href="#x" x="477.4" y="404.1"/>
<use href="#c" x="477.5" y="341.8"/>
<use href="#c" x="477.6" y="373.8"/>
<use href="#c" x="477.6" y="393.4"/>
<use href="#x" x="477.8" y="389.4"/>
<use href="#x" x="477.8" y="413.4"/>
<use href="#x" x="477.8" y="380.8"/>
<use href="#x" x="477.9" y="404.0"/>
<use href="#x" x="478.1" y="411.1"/>
<use href="#x" x="478.2" y="404.2"/>
<use href="#c" x="478.4" y="409.8"/>
<use href="#c" x="478.4" y="410.4"/>
<use href="#c" x="478.4" y="379.1"/>
<use href="#x" x="478.5" y="409.5"/>
<use href="#x" x="478.6" y="408.9"/>
<use href="#c" x="478.6" y="412.3"/>
<use href="#x" x="478.7" y="365.2"/>
<use href="#x" x="478.8" y="411.2"/>
<use href="#x" x="478.9" y="367.5"/>
<use href="#c" x="478.9" y="386.3"/>
<use href="#x" x="478.9" y="399.7"/>
<use href="#x" x="479.0" y="395.3"/>
<use href="#c" x="479.0" y="360.0"/>
<use href="#x" x="479.0" y="381.4"/>
<use href="#x" x="479.2" y="387.8"/>
<use href="#x" x="479.4" y="377.4"/>
<use href="#c" x="479.4" y="386.8"/>
<use href="#x" x="479.6" y="405.4"/>
<use href="#x" x="479.7" y="384.8"/>
<use href="#x" x="479.7" y="407.4"/>
<use href="#x" x="479.8" y="393.5"/>
<use href="#c" x="479.9" y="403.6"/>
<use href="#c" x="480.0" y="402.3"/>
<use href="#x" x="480.0" y="397.2"/>
<use href="#c" x="480.2" y="411.1"/>
<use href="#x" x="480.4" y="406.3"/>
<use href="#c" x="480.5" y="393.9"/>
<use href="#x" x="480.6" y="398.3"/>
<use href="#x" x="480.7" y="384.0"/>
<use href="#x" x="480.9" y="376.3"/>
<use href="#x" x="480.9" y="360.8"/>
<use href="#x" x="481.0" y="379.3"/>
<use href="#x" x="481.1" y="404.1"/>
<use href="#x" x="481.2" y="389.8"/>
<use href="#x" x="481.3" y="381.9"/>
<use href="#x" x="481.5" y="375.9"/>
<use href="#c" x="481.5" y="348.0"/>
<use href="#c" x="481.5" y="380.6"/>
<use href="#c" x="481.7" y="400.8"/>
<use href="#x" x="481.7" y="411.1"/>
<use href="#x" x="481.7" y="378.5"/>
<use href="#x" x="481.8" y="394.6"/>
<use href="#x" x="482.0" y="383.9"/>
<use href="#x" x="482.1" y="412.5"/>
<use href="#x" x="482.1" y="403.3"/>
<use href="#c" x="482.4" y="391.7"/>
<use href="#x" x="482.4" y="412.8"/>
<use href="#x" x="482.5" y="395.2"/>
<use href="#x" x="482.5" y="402.2"/>
<use href="#c" x="482.9" y="412.2"/>
<use href="#x" x="483.1" y="389.2"/>
<use href="#x" x="483.2" y="413.0"/>
<use href="#x" x="483.4" y="404.7"/>
<use href="#x" x="483.4" y="393.2"/>
<use href="#x" x="483.5" y="394.2"/>
<use href="#c" x="483.5" y="390.6"/>
<use href="#c" x="483.6" y="410.2"/>
<use href="#x" x="483.6" y="408.5"/>
<use href="#x" x="483.6" y="409.4"/>
<use href="#x" x="484.0" y="335.0"/>
<use href="#x" x="484.0" y="379.9"/>
<use href="#c" x="484.1" y="412.2"/>
<use href="#c" x="484.3" y="412.2"/>
<use href="#x" x="484.4" y="386.9"/>
<use href="#c" x="484.4" y="407.4"/>
<use href="#x" x="484.5" y="394.4"/>
<use href="#c" x="484.5" y="404.1"/>
<use href="#x" x="484.6" y="401.6"/>
<use href="#x" x="484.6" y="391.5"/>
<use href="#x" x="484.7" y="400.9"/>
<use href="#x" x="484.7" y="395.4"/>
<use href="#x" x="485.3" y="390.9"/>
<use href="#x" x="485.3" y="387.7"/>
<use href="#x" x="485.4" y="379.2"/>
<use href="#x" x="485.4" y="406.2"/>
<use href="#x" x="485.6" y="398.9"/>
<use href="#x" x="485.7" y="389.1"/>
<use href="#x" x="485.7" y="384.3"/>
<use href="#x" x="485.8" y="389.4"/>
<use href="#x" x="485.9" y="413.0"/>
<use href="#x" x="486.0" y="413.5"/>
<use href="#x" x="486.1" y="404.7"/>
<use href="#c" x="486.1" y="410.5"/>
<use href="#x" x="486.2" y="401.7"/>
<use href="#x" x="486.4" y="373.3"/>
<use href="#x" x="486.6" y="382.4"/>
<use href="#x" x="486.7" y="398.5"/>
<use href="#x" x="486.7" y="397.8"/>
<use href="#x" x="486.8" y="391.5"/>
<use href="#x" x="486.9" y="388.1"/>
<use href="#x" x="487.1" y="384.2"/>
<use href="#x" x="487.2" y="403.0"/>
<use href="#c" x="487.2" y="380.5"/>
<use href="#x" x="487.4" y="392.0"/>
<use href="#x" x="487.6" y="368.0"/>
<use href="#x" x="487.6" y="390.5"/>
<use href="#x" x="487.6" y="375.4"/>
<use href="#x" x="487.6" y="394.7"/>
<use href="#x" x="487.6" y="372.2"/>
<use href="#c" x="487.6" y="392.4"/>
<use href="#x" x="487.7" y="401.3"/>
<use href="#x" x="487.9" y="400.2"/>
<use href="#x" x="488.1" y="398.4"/>
<use href="#x" x="488.4" y="385.5"/>
<use href="#x" x="488.5" y="402.2"/>
<use href="#x" x="488.5" y="413.2"/>
<use href="#c" x="488.6" y="412.2"/>
<use href="#x" x="488.8" y="401.9"/>
<use href="#x" x="489.0" y="412.5"/>
<use href="#c" x="489.0" y="378.7"/>
<use href="#c" x="489.1" y="400.2"/>
<use href="#c" x="489.1" y="387.4"/>
<use href="#x" x="489.3" y="393.2"/>
<use href="#c" x="489.5" y="376.0"/>
<use href="#c" x="489.6" y="413.1"/>
<use href="#x" x="489.8" y="361.6"/>
<use href="#x" x="489.9" y="374.5"/>
<use href="#x" x="489.9" y="413.0"/>
<use href="#x" x="490.0" y="403.0"/>
<use href="#c" x="490.0" y="366.0"/>
<use href="#x" x="490.0" y="412.3"/>
<use href="#x" x="490.3" y="408.7"/>
<use href="#x" x="490.4" y="379.4"/>
<use href="#c" x="490.4" y="399.5"/>
<use href="#c" x="490.5" y="393.7"/>
<use href="#x" x="490.5" y="386.8"/>
<use href="#x" x="490.6" y="380.3"/>
<use href="#x" x="490.7" y="404.4"/>
<use href="#x" x="490.7" y="382.0"/>
<use href="#c" x="490.8" y="412.7"/>
<use href="#c" x="491.0" y="395.4"/>
<use href="#x" x="491.0" y="341.0"/>
<use href="#x" x="491.4" y="399.3"/>
<use href="#x" x="491.5" y="404.8"/>
<use href="#x" x="491.5" y="406.1"/>
<use href="#x" x="491.5" y="402.5"/>
<use href="#x" x="491.8" y="388.9"/>
<use href="#c" x="491.8" y="406.7"/>
<use href="#x" x="492.0" y="381.6"/>
<use href="#x" x="492.0" y="359.0"/>
<use href="#x" x="492.1" y="380.7"/>
<use href="#c" x="492.2" y="382.8"/>
<use href="#x" x="492.2" y="396.1"/>
<use href="#c" x="492.4" y="412.9"/>
<use href="#x" x="492.4" y="405.6"/>
<use href="#x" x="492.5" y="388.1"/>
<use href="#x" x="492.5" y="393.3"/>
<use href="#x" x="492.5" y="376.5"/>
<use href="#x" x="492.6" y="394.5"/>
<use href="#x" x="492.7" y="383.8"/>
<use href="#x" x="493.0" y="412.7"/>
<use href="#x" x="493.0" y="388.9"/>
<use href="#x" x="493.0" y="403.6"/>
<use href="#x" x="493.1" y="371.0"/>
<use href="#x" x="493.1" y="397.1"/>
<use href="#c" x="493.1" y="412.0"/>
<use href="#x" x="493.5" y="411.0"/>
<use href="#x" x="493.5" y="379.3"/>
<use href="#x" x="493.6" y="396.7"/>
<use href="#x" x="493.8" y="412.8"/>
<use href="#x" x="494.0" y="389.7"/>
<use href="#c" x="494.1" y="407.3"/>
<use href="#x" x="494.2" y="388.7"/>
<use href="#x" x="494.2" y="409.2"/>
<use href="#x" x="494.5" y="385.3"/>
<use href="#x" x="494.5" y="393.1"/>
<use href="#c" x="494.6" y="399.0"/>
<use href="#x" x="494.7" y="370.1"/>
<use href="#x" x="494.8" y="413.3"/>
<use href="#x" x="494.9" y="409.2"/>
<use href="#x" x="495.0" y="393.0"/>
<use href="#x" x="495.0" y="401.4"/>
<use href="#x" x="495.1" y="378.7"/>
<use href="#x" x="495.1" y="398.2"/>
<use href="#c" x="495.1" y="367.8"/>
<use href="#x" x="495.2" y="383.9"/>
<use href="#x" x="495.4" y="389.9"/>
<use href="#x" x="495.4" y="397.3"/>
<use href="#x" x="495.5" y="385.9"/>
<use href="#x" x="495.6" y="401.4"/>
<use href="#x" x="495.6" y="408.8"/>
<use href="#x" x="496.0" y="392.1"/>
<use href="#x" x="496.1" y="383.1"/>
<use href="#x" x="496.2" y="398.3"/>
<use href="#x" x="496.2" y="410.9"/>
<use href="#x" x="496.3" y="412.9"/>
<use href="#x" x="496.5" y="401.4"/>
<use href="#c" x="496.6" y="411.0"/>
<use href="#x" x="496.7" y="399.1"/>
<use href="#x" x="496.8" y="391.5"/>
<use href="#c" x="497.0" y="413.2"/>
<use href="#c" x="497.0" y="382.8"/>
<use href="#c" x="497.1" y="390.8"/>
<use href="#x" x="497.2" y="400.5"/>
<use href="#c" x="497.4" y="399.6"/>
<use href="#c" x="497.5" y="412.0"/>
<use href="#x" x="497.5" y="410.3"/>
<use href="#x" x="497.7" y="413.5"/>
<use href="#x" x="498.1" y="412.3"/>
<use href="#x" x="498.1" y="409.8"/>
<use href="#x" x="498.2" y="391.8"/>
<use href="#x" x="498.2" y="388.4"/>
<use href="#c" x="498.5" y="393.9"/>
<use href="#x" x="498.8" y="385.9"/>
<use href="#x" x="498.8" y="388.1"/>
<use href="#x" x="499.4" y="402.7"/>
<use href="#x" x="499.4" y="402.0"/>
<use href="#x" x="499.4" y="407.4"/>
<use href="#x" x="499.5" y="403.2"/>
<use href="#c" x="499.5" y="412.4"/>
<use href="#x" x="499.5" y="399.2"/>
<use href="#x" x="499.5" y="405.5"/>
<use href="#x" x="499.6" y="394.8"/>
<use href="#c" x="499.9" y="403.8"/>
<use href="#x" x="500.2" y="386.1"/>
<use href="#x" x="500.2" y="398.2"/>
<use href="#x" x="500.7" y="413.2"/>
<use href="#x" x="500.8" y="380.6"/>
<use href="#x" x="500.8" y="411.9"/>
<use href="#x" x="500.8" y="400.0"/>
<use href="#x" x="500.8" y="412.0"/>
<use href="#x" x="500.9" y="396.1"/>
<use href="#x" x="501.0" y="388.0"/>
<use href="#x" x="501.4" y="402.1"/>
<use href="#c" x="501.7" y="402.4"/>
<use href="#c" x="502.0" y="411.4"/>
<use href="#x" x="502.0" y="387.4"/>
<use href="#x" x="502.1" y="409.9"/>
<use href="#x" x="502.1" y="376.5"/>
<use href="#x" x="502.4" y="406.4"/>
<use href="#x" x="502.4" y="406.8"/>
<use href="#x" x="502.5" y="408.2"/>
<use href="#c" x="502.5" y="369.5"/>
<use href="#c" x="502.7" y="391.0"/>
<use href="#c" x="502.7" y="407.9"/>
<use href="#x" x="502.8" y="383.3"/>
<use href="#x" x="502.8" y="387.1"/>
<use href="#x" x="503.0" y="413.0"/>
<use href="#c" x="503.0" y="400.0"/>
<use href="#x" x="503.0" y="406.4"/>
<use href="#x" x="503.2" y="406.0"/>
<use href="#x" x="503.3" y="407.2"/>
<use href="#x" x="503.5" y="406.9"/>
<use href="#c" x="503.8" y="413.0"/>
<use href="#x" x="503.9" y="412.9"/>
<use href="#x" x="504.0" y="404.0"/>
<use href="#x" x="504.0" y="391.6"/>
<use href="#x" x="504.1" y="413.3"/>
<use href="#x" x="504.2" y="388.6"/>
<use href="#x" x="504.8" y="410.1"/>
<use href="#x" x="505.3" y="412.2"/>
<use href="#x" x="505.4" y="392.2"/>
<use href="#x" x="505.4" y="398.0"/>
<use href="#x" x="505.4" y="394.5"/>
<use href="#x" x="505.5" y="388.1"/>
<use href="#x" x="505.5" y="411.1"/>
<use href="#c" x="505.6" y="412.1"/>
<use href="#c" x="505.8" y="411.7"/>
<use href="#x" x="505.9" y="396.5"/>
<use href="#x" x="506.2" y="382.4"/>
<use href="#c" x="506.3" y="395.0"/>
<use href="#x" x="506.5" y="393.5"/>
<use href="#x" x="506.6" y="395.3"/>
<use href="#x" x="506.8" y="398.1"/>
<use href="#x" x="506.8" y="378.3"/>
<use href="#x" x="507.0" y="401.8"/>
<use href="#x" x="507.1" y="394.5"/>
<use href="#x" x="507.2" y="412.9"/>
<use href="#x" x="507.2" y="393.5"/>
<use href="#x" x="507.6" y="412.4"/>
<use href="#c" x="507.7" y="412.8"/>
<use href="#x" x="507.7" y="413.2"/>
<use href="#c" x="507.8" y="382.0"/>
<use href="#c" x="508.0" y="394.8"/>
<use href="#x" x="508.0" y="395.8"/>
<use href="#x" x="508.2" y="407.5"/>
<use href="#x" x="508.4" y="412.6"/>
<use href="#x" x="508.4" y="355.4"/>
<use href="#c" x="508.5" y="413.5"/>
<use href="#x" x="508.6" y="398.9"/>
<use href="#x" x="508.7" y="405.3"/>
<use href="#x" x="508.8" y="394.1"/>
<use href="#x" x="509.0" y="412.9"/>
<use href="#x" x="509.3" y="400.1"/>
<use href="#c" x="509.4" y="395.5"/>
<use href="#x" x="509.5" y="355.5"/>
<use href="#x" x="509.6" y="397.3"/>
<use href="#x" x="509.9" y="373.1"/>
<use href="#x" x="510.0" y="403.5"/>
<use href="#x" x="510.1" y="396.8"/>
<use href="#x" x="510.1" y="408.7"/>
<use href="#c" x="510.3" y="400.0"/>
<use href="#x" x="510.4" y="389.4"/>
<use href="#x" x="510.5" y="392.6"/>
<use href="#x" x="510.6" y="399.3"/>
<use href="#x" x="510.7" y="400.1"/>
<use href="#x" x="510.8" y="383.5"/>
<use href="#c" x="510.8" y="404.8"/>
<use href="#c" x="511.0" y="409.1"/>
<use href="#c" x="511.1" y="413.5"/>
<use href="#x" x="511.5" y="400.1"/>
<use href="#c" x="511.6" y="375.7"/>
<use href="#x" x="511.8" y="413.4"/>
<use href="#x" x="511.9" y="402.0"/>
<use href="#x" x="511.9" y="412.6"/>
<use href="#x" x="512.0" y="400.8"/>
<use href="#x" x="512.2" y="385.2"/>
<use href="#c" x="512.4" y="404.2"/>
<use href="#c" x="512.4" y="413.0"/>
<use href="#x" x="512.6" y="398.7"/>
<use href="#x" x="512.6" y="401.3"/>
<use href="#x" x="512.6" y="407.9"/>
<use href="#c" x="512.7" y="413.3"/>
<use href="#x" x="512.7" y="411.5"/>
<use href="#c" x="512.8" y="399.7"/>
<use href="#x" x="512.9" y="390.9"/>
<use href="#x" x="513.3" y="389.9"/>
<use href="#x" x="513.6" y="399.4"/>
<use href="#x" x="513.8" y="403.7"/>
<use href="#x" x="513.9" y="412.1"/>
<use href="#x" x="514.0" y="384.4"/>
<use href="#x" x="514.2" y="390.9"/>
<use href="#x" x="514.4" y="404.6"/>
<use href="#x" x="514.5" y="387.3"/>
<use href="#x" x="514.6" y="404.9"/>
<use href="#x" x="514.7" y="410.3"/>
<use href="#x" x="514.7" y="400.8"/>
<use href="#x" x="514.7" y="399.3"/>
<use href="#x" x="514.8" y="405.7"/>
<use href="#x" x="514.9" y="413.1"/>
<use href="#x" x="515.0" y="362.0"/>
<use href="#x" x="515.0" y="368.5"/>
<use href="#x" x="515.1" y="400.7"/>
<use href="#x" x="515.5" y="388.4"/>
<use href="#x" x="515.5" y="412.9"/>
<use href="#x" x="515.5" y="411.5"/>
<use href="#x" x="516.1" y="406.5"/>
<use href="#x" x="516.1" y="401.7"/>
<use href="#c" x="516.2" y="402.7"/>
<use href="#c" x="516.5" y="378.8"/>
<use href="#x" x="516.7" y="384.5"/>
<use href="#x" x="517.0" y="394.2"/>
<use href="#x" x="517.0" y="409.6"/>
<use href="#c" x="517.1" y="408.4"/>
<use href="#x" x="517.2" y="412.9"/>
<use href="#x" x="517.3" y="396.4"/>
<use href="#x" x="517.3" y="406.6"/>
<use href="#x" x="517.5" y="387.8"/>
<use href="#x" x="517.6" y="387.2"/>
<use href="#x" x="517.8" y="401.8"/>
<use href="#x" x="517.8" y="409.6"/>
<use href="#x" x="518.2" y="385.8"/>
<use href="#x" x="518.2" y="406.8"/>
<use href="#x" x="518.4" y="399.9"/>
<use href="#x" x="518.5" y="371.2"/>
<use href="#x" x="518.5" y="408.5"/>
<use href="#x" x="518.6" y="401.5"/>
<use href="#x" x="518.7" y="412.8"/>
<use href="#c" x="519.0" y="413.1"/>
<use href="#x" x="519.0" y="369.0"/>
<use href="#x" x="519.0" y="409.9"/>
<use href="#x" x="519.1" y="409.6"/>
<use href="#c" x="519.3" y="411.5"/>
<use href="#x" x="519.5" y="394.2"/>
<use href="#x" x="519.6" y="393.9"/>
<use href="#x" x="519.6" y="411.6"/>
<use href="#x" x="519.6" y="380.0"/>
<use href="#x" x="519.8" y="404.2"/>
<use href="#c" x="519.9" y="399.3"/>
<use href="#c" x="519.9" y="403.5"/>
<use href="#x" x="520.0" y="357.0"/>
<use href="#x" x="520.3" y="411.1"/>
<use href="#x" x="520.4" y="410.1"/>
<use href="#x" x="520.4" y="377.4"/>
<use href="#x" x="520.7" y="381.3"/>
<use href="#x" x="520.8" y="412.4"/>
<use href="#x" x="520.9" y="411.2"/>
<use href="#c" x="521.0" y="396.3"/>
<use href="#x" x="521.1" y="390.3"/>
<use href="#c" x="521.1" y="407.1"/>
<use href="#x" x="521.1" y="396.6"/>
<use href="#x" x="521.1" y="386.2"/>
<use href="#x" x="521.3" y="393.9"/>
<use href="#x" x="521.4" y="406.6"/>
<use href="#x" x="521.6" y="409.5"/>
<use href="#x" x="521.6" y="390.2"/>
<use href="#c" x="521.7" y="413.4"/>
<use href="#x" x="521.8" y="403.3"/>
<use href="#c" x="521.8" y="388.4"/>
<use href="#x" x="521.9" y="371.4"/>
<use href="#x" x="521.9" y="393.7"/>
<use href="#x" x="522.2" y="412.6"/>
<use href="#c" x="522.5" y="413.5"/>
<use href="#x" x="522.5" y="410.9"/>
<use href="#x" x="522.5" y="410.8"/>
<use href="#x" x="522.7" y="354.8"/>
<use href="#c" x="523.1" y="385.0"/>
<use href="#x" x="523.2" y="413.4"/>
<use href="#x" x="523.3" y="404.0"/>
<use href="#x" x="523.4" y="378.8"/>
<use href="#x" x="523.4" y="399.1"/>
<use href="#x" x="523.4" y="408.0"/>
<use href="#x" x="523.5" y="408.8"/>
<use href="#x" x="523.6" y="413.3"/>
<use href="#x" x="523.8" y="391.1"/>
<use href="#x" x="523.8" y="402.9"/>
<use href="#x" x="524.1" y="405.2"/>
<use href="#x" x="524.1" y="404.8"/>
<use href="#x" x="524.2" y="412.5"/>
<use href="#x" x="524.3" y="393.7"/>
<use href="#c" x="524.4" y="413.3"/>
<use href="#x" x="524.5" y="410.5"/>
<use href="#c" x="524.7" y="406.6"/>
<use href="#x" x="524.8" y="382.1"/>
<use href="#c" x="524.8" y="412.9"/>
<use href="#x" x="524.9" y="405.9"/>
<use href="#x" x="525.0" y="369.3"/>
<use href="#x" x="525.0" y="330.0"/>
<use href="#x" x="525.1" y="410.3"/>
<use href="#c" x="525.2" y="397.9"/>
<use href="#x" x="525.3" y="384.3"/>
<use href="#x" x="525.3" y="413.1"/>
<use href="#x" x="525.3" y="400.3"/>
<use href="#c" x="525.4" y="374.5"/>
<use href="#c" x="525.4" y="379.6"/>
<use href="#c" x="525.7" y="401.0"/>
<use href="#x" x="525.7" y="386.2"/>
<use href="#c" x="525.9" y="410.4"/>
<use href="#c" x="526.0" y="395.6"/>
<use href="#x" x="526.1" y="413.5"/>
<use href="#x" x="526.1" y="410.7"/>
<use href="#c" x="526.2" y="411.3"/>
<use href="#x" x="526.3" y="405.7"/>
<use href="#x" x="526.3" y="383.6"/>
<use href="#c" x="526.5" y="376.5"/>
<use href="#x" x="526.5" y="412.0"/>
<use href="#x" x="526.7" y="394.4"/>
<use href="#x" x="526.8" y="405.3"/>
<use href="#c" x="526.8" y="384.2"/>
<use href="#x" x="526.9" y="385.5"/>
<use href="#x" x="527.0" y="379.2"/>
<use href="#x" x="527.2" y="400.6"/>
<use href="#c" x="527.2" y="389.5"/>
<use href="#x" x="527.4" y="385.0"/>
<use href="#x" x="527.4" y="381.9"/>
<use href="#x" x="527.5" y="410.7"/>
<use href="#c" x="527.6" y="412.4"/>
<use href="#x" x="527.7" y="404.3"/>
<use href="#x" x="527.7" y="400.7"/>
<use href="#x" x="527.8" y="346.5"/>
<use href="#x" x="527.8" y="397.2"/>
<use href="#x" x="528.0" y="348.0"/>
<use href="#x" x="528.0" y="412.2"/>
<use href="#x" x="528.3" y="390.2"/>
<use href="#x" x="528.3" y="396.7"/>
<use href="#x" x="528.4" y="405.8"/>
<use href="#x" x="528.5" y="403.8"/>
<use href="#c" x="528.5" y="405.6"/>
<use href="#c" x="528.8" y="409.7"/>
<use href="#x" x="528.9" y="413.4"/>
<use href="#c" x="529.1" y="385.1"/>
<use href="#x" x="529.2" y="395.6"/>
<use href="#x" x="529.2" y="388.9"/>
<use href="#x" x="529.3" y="381.8"/>
<use href="#x" x="529.3" y="381.9"/>
<use href="#c" x="529.4" y="398.4"/>
<use href="#c" x="529.5" y="405.7"/>
<use href="#x" x="529.6" y="393.0"/>
<use href="#x" x="530.0" y="389.2"/>
<use href="#c" x="530.1" y="413.5"/>
<use href="#x" x="530.2" y="404.1"/>
<use href="#x" x="530.3" y="410.3"/>
<use href="#x" x="530.3" y="394.5"/>
<use href="#x" x="530.4" y="387.7"/>
<use href="#x" x="530.5" y="389.9"/>
<use href="#x" x="530.5" y="412.7"/>
<use href="#x" x="530.5" y="389.3"/>
<use href="#x" x="530.6" y="385.2"/>
<use href="#x" x="530.7" y="386.1"/>
<use href="#c" x="530.8" y="411.6"/>
<use href="#x" x="530.9" y="387.2"/>
<use href="#x" x="531.0" y="411.5"/>
<use href="#x" x="531.1" y="377.3"/>
<use href="#x" x="531.2" y="385.3"/>
<use href="#x" x="531.3" y="391.9"/>
<use href="#x" x="531.4" y="374.9"/>
<use href="#x" x="531.4" y="374.2"/>
<use href="#c" x="531.4" y="412.0"/>
<use href="#c" x="531.6" y="413.1"/>
<use href="#x" x="531.8" y="387.5"/>
<use href="#x" x="531.9" y="413.5"/>
<use href="#x" x="531.9" y="385.2"/>
<use href="#x" x="531.9" y="399.9"/>
<use href="#x" x="532.0" y="389.8"/>
<use href="#c" x="532.0" y="366.0"/>
<use href="#x" x="532.1" y="405.1"/>
<use href="#x" x="532.3" y="412.9"/>
<use href="#x" x="532.4" y="376.5"/>
<use href="#x" x="532.5" y="412.6"/>
<use href="#x" x="532.6" y="382.0"/>
<use href="#x" x="532.7" y="398.6"/>
<use href="#c" x="532.7" y="387.1"/>
<use href="#x" x="532.9" y="390.9"/>
<use href="#c" x="533.0" y="397.3"/>
<use href="#c" x="533.0" y="411.9"/>
<use href="#x" x="533.2" y="413.3"/>
<use href="#x" x="533.3" y="402.5"/>
<use href="#x" x="533.4" y="410.5"/>
<use href="#x" x="533.6" y="406.4"/>
<use href="#x" x="533.7" y="413.0"/>
<use href="#c" x="533.8" y="410.2"/>
<use href="#x" x="533.8" y="378.6"/>
<use href="#x" x="533.9" y="409.3"/>
<use href="#x" x="534.2" y="387.7"/>
<use href="#c" x="534.3" y="412.5"/>
<use href="#x" x="534.4" y="400.3"/>
<use href="#x" x="534.4" y="398.5"/>
<use href="#x" x="534.4" y="411.1"/>
<use href="#x" x="534.5" y="377.0"/>
<use href="#x" x="534.6" y="395.7"/>
<use href="#x" x="534.7" y="411.3"/>
<use href="#c" x="534.8" y="394.2"/>
<use href="#x" x="534.8" y="371.2"/>
<use href="#x" x="534.9" y="406.5"/>
<use href="#x" x="534.9" y="381.8"/>
<use href="#x" x="535.1" y="405.7"/>
<use href="#x" x="535.2" y="408.2"/>
<use href="#x" x="535.4" y="365.6"/>
<use href="#x" x="535.5" y="400.5"/>
<use href="#c" x="535.5" y="361.0"/>
<use href="#x" x="535.7" y="396.6"/>
<use href="#x" x="535.8" y="408.7"/>
<use href="#x" x="535.8" y="402.8"/>
<use href="#c" x="535.8" y="412.5"/>
<use href="#x" x="535.8" y="408.5"/>
<use href="#x" x="536.3" y="380.4"/>
<use href="#x" x="536.4" y="413.6"/>
<use href="#c" x="536.4" y="400.8"/>
<use href="#x" x="536.4" y="398.0"/>
<use href="#x" x="536.5" y="408.1"/>
<use href="#x" x="536.6" y="398.8"/>
<use href="#x" x="536.6" y="384.6"/>
<use href="#x" x="537.0" y="391.7"/>
<use href="#x" x="537.0" y="413.5"/>
<use href="#c" x="537.1" y="402.6"/>
<use href="#x" x="537.2" y="412.3"/>
<use href="#x" x="537.4" y="403.2"/>
<use href="#x" x="537.5" y="386.4"/>
<use href="#x" x="537.8" y="404.3"/>
<use href="#c" x="537.9" y="395.5"/>
<use href="#x" x="538.0" y="405.6"/>
<use href="#x" x="538.1" y="399.4"/>
<use href="#c" x="538.1" y="412.6"/>
<use href="#x" x="538.3" y="368.5"/>
<use href="#x" x="538.3" y="392.2"/>
<use href="#x" x="538.4" y="413.4"/>
<use href="#x" x="538.5" y="384.0"/>
<use href="#c" x="538.6" y="380.8"/>
<use href="#c" x="538.8" y="366.8"/>
<use href="#x" x="538.9" y="396.1"/>
<use href="#x" x="538.9" y="382.1"/>
<use href="#x" x="539.2" y="407.9"/>
<use href="#c" x="539.2" y="413.0"/>
<use href="#x" x="539.2" y="392.9"/>
<use href="#x" x="539.3" y="389.4"/>
<use href="#x" x="539.4" y="394.3"/>
<use href="#x" x="539.8" y="399.1"/>
<use href="#x" x="539.8" y="402.3"/>
<use href="#x" x="540.1" y="382.1"/>
<use href="#x" x="540.1" y="392.0"/>
<use href="#x" x="540.1" y="403.6"/>
<use href="#x" x="540.2" y="379.6"/>
<use href="#x" x="540.3" y="409.3"/>
<use href="#x" x="540.3" y="397.7"/>
<use href="#x" x="540.5" y="405.0"/>
<use href="#x" x="540.5" y="394.0"/>
<use href="#c" x="540.7" y="381.0"/>
<use href="#x" x="540.7" y="412.3"/>
<use href="#x" x="541.0" y="396.3"/>
<use href="#x" x="541.1" y="402.6"/>
<use href="#x" x="541.2" y="381.5"/>
<use href="#x" x="541.2" y="379.4"/>
<use href="#x" x="541.3" y="402.2"/>
<use href="#x" x="541.4" y="411.6"/>
<use href="#x" x="541.4" y="395.1"/>
<use href="#x" x="541.5" y="406.4"/>
<use href="#x" x="541.7" y="394.0"/>
<use href="#x" x="541.9" y="409.1"/>
<use href="#x" x="542.0" y="403.7"/>
<use href="#x" x="542.3" y="368.7"/>
<use href="#x" x="542.3" y="409.2"/>
<use href="#x" x="542.3" y="413.5"/>
<use href="#x" x="542.3" y="386.2"/>
<use href="#x" x="542.4" y="412.3"/>
<use href="#c" x="542.4" y="390.7"/>
<use href="#x" x="542.5" y="377.4"/>
<use href="#x" x="542.6" y="373.7"/>
<use href="#x" x="542.7" y="396.1"/>
<use href="#x" x="542.8" y="403.6"/>
<use href="#x" x="542.9" y="375.2"/>
<use href="#x" x="543.0" y="405.0"/>
<use href="#c" x="543.1" y="396.3"/>
<use href="#x" x="543.1" y="401.3"/>
<use href="#x" x="543.4" y="397.4"/>
<use href="#x" x="543.5" y="413.4"/>
<use href="#x" x="543.5" y="413.2"/>
<use href="#c" x="543.5" y="413.0"/>
<use href="#x" x="543.6" y="362.1"/>
<use href="#x" x="543.6" y="402.0"/>
<use href="#x" x="543.8" y="383.5"/>
<use href="#x" x="543.8" y="405.5"/>
<use href="#x" x="543.8" y="384.4"/>
<use href="#c" x="543.9" y="392.4"/>
<use href="#x" x="544.3" y="413.1"/>
<use href="#x" x="544.4" y="411.3"/>
<use href="#x" x="544.7" y="396.2"/>
<use href="#x" x="544.8" y="372.2"/>
<use href="#x" x="544.8" y="411.2"/>
<use href="#c" x="544.9" y="412.0"/>
<use href="#x" x="545.1" y="394.9"/>
<use href="#x" x="545.2" y="401.3"/>
<use href="#x" x="545.2" y="399.1"/>
<use href="#x" x="545.2" y="410.0"/>
<use href="#x" x="545.3" y="395.6"/>
<use href="#x" x="545.8" y="387.7"/>
<use href="#c" x="545.9" y="413.3"/>
<use href="#x" x="546.0" y="399.0"/>
<use href="#x" x="546.0" y="382.9"/>
<use href="#x" x="546.2" y="406.7"/>
<use href="#x" x="546.2" y="400.0"/>
<use href="#x" x="546.3" y="408.7"/>
<use href="#x" x="546.4" y="412.6"/>
<use href="#x" x="546.4" y="399.2"/>
<use href="#x" x="546.7" y="409.0"/>
<use href="#x" x="546.9" y="400.9"/>
<use href="#x" x="547.0" y="411.8"/>
<use href="#x" x="547.0" y="387.6"/>
<use href="#x" x="547.2" y="413.5"/>
<use href="#x" x="547.3" y="399.6"/>
<use href="#x" x="547.4" y="397.4"/>
<use href="#x" x="547.5" y="404.0"/>
<use href="#x" x="547.7" y="404.5"/>
<use href="#x" x="547.8" y="413.1"/>
<use href="#x" x="547.9" y="352.7"/>
<use href="#x" x="548.0" y="394.7"/>
<use href="#x" x="548.2" y="400.6"/>
<use href="#x" x="548.2" y="393.3"/>
<use href="#c" x="548.3" y="378.4"/>
<use href="#x" x="548.5" y="393.5"/>
<use href="#c" x="548.5" y="367.5"/>
<use href="#x" x="548.6" y="412.0"/>
<use href="#c" x="548.7" y="394.0"/>
<use href="#x" x="548.9" y="389.1"/>
<use href="#c" x="549.1" y="387.1"/>
<use href="#x" x="549.2" y="392.8"/>
<use href="#x" x="549.3" y="407.6"/>
<use href="#c" x="549.3" y="399.9"/>
<use href="#x" x="549.5" y="382.3"/>
<use href="#x" x="549.6" y="411.4"/>
<use href="#x" x="549.7" y="396.6"/>
<use href="#c" x="549.8" y="394.6"/>
<use href="#x" x="550.0" y="411.9"/>
<use href="#x" x="550.2" y="404.1"/>
<use href="#x" x="550.2" y="388.3"/>
<use href="#x" x="550.3" y="400.7"/>
<use href="#c" x="550.3" y="369.9"/>
<use href="#x" x="550.4" y="385.5"/>
<use href="#x" x="550.6" y="397.3"/>
<use href="#x" x="550.7" y="401.4"/>
<use href="#x" x="550.7" y="380.4"/>
<use href="#x" x="550.8" y="403.5"/>
<use href="#x" x="550.8" y="412.3"/>
<use href="#c" x="550.9" y="413.5"/>
<use href="#x" x="551.0" y="389.0"/>
<use href="#x" x="551.4" y="386.5"/>
<use href="#x" x="551.4" y="393.2"/>
<use href="#x" x="551.5" y="391.2"/>
<use href="#x" x="551.6" y="400.1"/>
<use href="#x" x="551.7" y="393.4"/>
<use href="#c" x="551.7" y="411.0"/>
<use href="#x" x="551.8" y="410.0"/>
<use href="#x" x="551.9" y="412.0"/>
<use href="#x" x="551.9" y="375.9"/>
<use href="#x" x="552.1" y="378.8"/>
<use href="#x" x="552.1" y="395.1"/>
<use href="#x" x="552.4" y="410.5"/>
<use href="#x" x="552.4" y="400.7"/>
<use href="#x" x="553.1" y="389.0"/>
<use href="#x" x="553.1" y="411.3"/>
<use href="#x" x="553.3" y="392.0"/>
<use href="#x" x="553.4" y="380.0"/>
<use href="#c" x="553.4" y="394.8"/>
<use href="#x" x="553.4" y="413.4"/>
<use href="#x" x="553.4" y="395.7"/>
<use href="#x" x="553.5" y="396.5"/>
<use href="#x" x="553.5" y="407.1"/>
<use href="#x" x="553.6" y="401.3"/>
<use href="#c" x="553.9" y="395.8"/>
<use href="#x" x="554.1" y="413.6"/>
<use href="#x" x="554.1" y="403.2"/>
<use href="#c" x="554.2" y="393.5"/>
<use href="#x" x="554.2" y="375.7"/>
<use href="#c" x="554.3" y="413.4"/>
<use href="#x" x="554.3" y="355.0"/>
<use href="#x" x="554.3" y="388.7"/>
<use href="#x" x="554.5" y="366.7"/>
<use href="#x" x="554.5" y="388.1"/>
<use href="#x" x="554.6" y="401.7"/>
<use href="#x" x="554.7" y="412.7"/>
<use href="#x" x="554.7" y="395.3"/>
<use href="#c" x="554.8" y="387.1"/>
<use href="#c" x="555.0" y="397.1"/>
<use href="#x" x="555.1" y="409.8"/>
<use href="#x" x="555.3" y="391.0"/>
<use href="#x" x="555.6" y="403.2"/>
<use href="#x" x="556.0" y="409.5"/>
<use href="#x" x="556.0" y="388.5"/>
<use href="#x" x="556.1" y="398.3"/>
<use href="#x" x="556.2" y="390.4"/>
<use href="#x" x="556.5" y="412.4"/>
<use href="#x" x="556.5" y="390.4"/>
<use href="#x" x="556.7" y="413.6"/>
<use href="#x" x="556.8" y="402.3"/>
<use href="#x" x="556.8" y="389.3"/>
<use href="#x" x="557.1" y="403.3"/>
<use href="#x" x="557.2" y="400.4"/>
<use href="#x" x="557.6" y="386.2"/>
<use href="#x" x="557.7" y="400.9"/>
<use href="#x" x="557.8" y="390.3"/>
<use href="#x" x="557.8" y="389.5"/>
<use href="#x" x="558.1" y="383.1"/>
<use href="#x" x="558.3" y="398.2"/>
<use href="#x" x="558.4" y="413.2"/>
<use href="#x" x="558.4" y="387.0"/>
<use href="#x" x="558.5" y="391.2"/>
<use href="#x" x="558.5" y="410.4"/>
<use href="#x" x="558.8" y="412.5"/>
<use href="#x" x="558.8" y="412.7"/>
<use href="#x" x="559.1" y="396.3"/>
<use href="#x" x="559.1" y="409.5"/>
<use href="#x" x="559.3" y="398.6"/>
<use href="#x" x="559.3" y="405.7"/>
<use href="#x" x="559.5" y="413.5"/>
<use href="#x" x="559.7" y="381.8"/>
<use href="#c" x="559.8" y="391.2"/>
<use href="#c" x="559.9" y="405.2"/>
<use href="#x" x="560.0" y="390.7"/>
<use href="#x" x="560.2" y="388.6"/>
<use href="#x" x="560.3" y="395.2"/>
<use href="#x" x="560.4" y="402.2"/>
<use href="#c" x="560.7" y="393.1"/>
<use href="#x" x="560.8" y="402.0"/>
<use href="#x" x="560.8" y="409.9"/>
<use href="#c" x="561.0" y="412.1"/>
<use href="#x" x="561.0" y="409.0"/>
<use href="#x" x="561.4" y="402.7"/>
<use href="#c" x="561.4" y="387.8"/>
<use href="#x" x="561.4" y="401.9"/>
<use href="#c" x="561.7" y="407.3"/>
<use href="#x" x="561.9" y="401.9"/>
<use href="#x" x="561.9" y="404.9"/>
<use href="#x" x="562.0" y="413.5"/>
<use href="#x" x="562.2" y="407.7"/>
<use href="#x" x="562.2" y="413.3"/>
<use href="#x" x="562.7" y="391.5"/>
<use href="#x" x="562.8" y="397.6"/>
<use href="#x" x="563.0" y="411.5"/>
<use href="#x" x="563.1" y="412.9"/>
<use href="#x" x="563.1" y="410.4"/>
<use href="#x" x="563.2" y="394.0"/>
<use href="#x" x="563.6" y="397.7"/>
<use href="#x" x="563.8" y="397.6"/>
<use href="#x" x="563.9" y="410.8"/>
<use href="#x" x="563.9" y="411.9"/>
<use href="#x" x="564.4" y="406.3"/>
<use href="#x" x="564.4" y="358.1"/>
<use href="#x" x="564.5" y="403.0"/>
<use href="#x" x="564.7" y="403.3"/>
<use href="#x" x="564.8" y="391.5"/>
<use href="#c" x="564.9" y="408.2"/>
<use href="#x" x="565.0" y="405.0"/>
<use href="#c" x="565.0" y="413.6"/>
<use href="#x" x="565.1" y="395.8"/>
<use href="#x" x="566.0" y="411.0"/>
<use href="#x" x="566.0" y="408.2"/>
<use href="#x" x="566.2" y="394.7"/>
<use href="#x" x="566.4" y="405.3"/>
<use href="#x" x="566.4" y="392.7"/>
<use href="#x" x="566.5" y="408.3"/>
<use href="#c" x="566.5" y="388.3"/>
<use href="#x" x="566.8" y="406.8"/>
<use href="#x" x="566.9" y="409.7"/>
<use href="#x" x="567.0" y="409.9"/>
<use href="#x" x="567.0" y="396.3"/>
<use href="#x" x="567.2" y="411.3"/>
<use href="#x" x="567.4" y="376.9"/>
<use href="#x" x="567.5" y="408.4"/>
<use href="#x" x="567.6" y="407.1"/>
<use href="#c" x="567.6" y="385.7"/>
<use href="#x" x="567.9" y="410.7"/>
<use href="#x" x="568.1" y="407.0"/>
<use href="#x" x="568.1" y="398.1"/>
<use href="#x" x="568.6" y="398.7"/>
<use href="#c" x="568.7" y="412.4"/>
<use href="#x" x="569.1" y="411.8"/>
<use href="#x" x="569.1" y="398.9"/>
<use href="#x" x="569.3" y="411.5"/>
<use href="#x" x="569.3" y="396.8"/>
<use href="#x" x="569.7" y="395.2"/>
<use href="#x" x="569.7" y="403.7"/>
<use href="#c" x="570.2" y="389.3"/>
<use href="#x" x="570.3" y="409.2"/>
<use href="#c" x="570.4" y="399.6"/>
<use href="#x" x="570.4" y="394.2"/>
<use href="#x" x="570.7" y="413.4"/>
<use href="#x" x="570.7" y="373.8"/>
<use href="#x" x="570.8" y="366.7"/>
<use href="#x" x="570.8" y="376.3"/>
<use href="#x" x="570.8" y="404.5"/>
<use href="#x" x="570.9" y="400.7"/>
<use href="#x" x="571.0" y="369.5"/>
<use href="#x" x="571.1" y="410.2"/>
<use href="#x" x="571.4" y="412.5"/>
<use href="#x" x="571.4" y="385.3"/>
<use href="#x" x="571.5" y="367.9"/>
<use href="#x" x="571.6" y="413.0"/>
<use href="#x" x="571.7" y="413.0"/>
<use href="#x" x="572.0" y="382.7"/>
<use href="#x" x="572.0" y="392.2"/>
<use href="#x" x="572.1" y="392.8"/>
<use href="#x" x="572.1" y="401.8"/>
<use href="#x" x="572.2" y="377.6"/>
<use href="#x" x="572.4" y="411.5"/>
<use href="#x" x="572.6" y="399.4"/>
<use href="#x" x="573.0" y="393.0"/>
<use href="#x" x="573.1" y="392.6"/>
<use href="#x" x="573.1" y="397.1"/>
<use href="#x" x="573.1" y="370.3"/>
<use href="#x" x="573.2" y="399.7"/>
<use href="#c" x="573.4" y="412.1"/>
<use href="#x" x="573.5" y="408.5"/>
<use href="#x" x="573.5" y="412.4"/>
<use href="#x" x="573.7" y="367.9"/>
<use href="#x" x="573.8" y="408.5"/>
<use href="#x" x="574.0" y="413.5"/>
<use href="#x" x="574.2" y="409.3"/>
<use href="#c" x="574.5" y="402.3"/>
<use href="#x" x="574.5" y="410.6"/>
<use href="#x" x="574.6" y="383.5"/>
<use href="#x" x="574.7" y="387.7"/>
<use href="#x" x="574.8" y="409.2"/>
<use href="#x" x="575.0" y="405.2"/>
<use href="#x" x="575.0" y="405.5"/>
<use href="#x" x="575.1" y="369.5"/>
<use href="#x" x="575.2" y="406.0"/>
<use href="#x" x="575.2" y="395.0"/>
<use href="#x" x="575.8" y="404.1"/>
<use href="#x" x="576.2" y="392.8"/>
<use href="#x" x="576.3" y="401.1"/>
<use href="#x" x="576.4" y="412.9"/>
<use href="#x" x="576.5" y="401.3"/>
<use href="#x" x="576.9" y="401.5"/>
<use href="#x" x="576.9" y="403.4"/>
<use href="#x" x="577.2" y="401.2"/>
<use href="#x" x="577.2" y="408.0"/>
<use href="#x" x="577.4" y="407.7"/>
<use href="#x" x="577.5" y="394.9"/>
<use href="#x" x="577.6" y="390.7"/>
<use href="#x" x="577.8" y="401.5"/>
<use href="#x" x="577.9" y="395.9"/>
<use href="#x" x="578.1" y="396.0"/>
<use href="#x" x="578.4" y="405.0"/>
<use href="#x" x="578.6" y="358.8"/>
<use href="#x" x="578.7" y="385.8"/>
<use href="#x" x="578.7" y="411.5"/>
<use href="#x" x="578.8" y="398.1"/>
<use href="#x" x="578.9" y="384.1"/>
<use href="#x" x="579.1" y="392.0"/>
<use href="#c" x="579.2" y="413.3"/>
<use href="#x" x="579.3" y="401.1"/>
<use href="#c" x="579.5" y="413.5"/>
<use href="#c" x="579.7" y="410.3"/>
<use href="#x" x="579.8" y="409.7"/>
<use href="#x" x="579.9" y="392.6"/>
<use href="#x" x="580.0" y="347.5"/>
<use href="#x" x="580.1" y="381.4"/>
<use href="#x" x="580.2" y="376.2"/>
<use href="#c" x="580.2" y="413.0"/>
<use href="#x" x="580.3" y="405.5"/>
<use href="#x" x="580.3" y="408.5"/>
<use href="#x" x="580.6" y="399.2"/>
<use href="#x" x="580.7" y="404.5"/>
<use href="#x" x="580.9" y="403.9"/>
<use href="#x" x="581.1" y="409.9"/>
<use href="#x" x="581.2" y="404.3"/>
<use href="#x" x="581.2" y="397.0"/>
<use href="#c" x="581.4" y="413.1"/>
<use href="#c" x="581.6" y="401.7"/>
<use href="#x" x="581.7" y="393.0"/>
<use href="#x" x="582.2" y="394.4"/>
<use href="#c" x="582.3" y="412.9"/>
<use href="#x" x="582.4" y="397.9"/>
<use href="#x" x="582.5" y="409.1"/>
<use href="#x" x="582.5" y="393.6"/>
<use href="#x" x="582.5" y="410.3"/>
<use href="#x" x="582.7" y="401.0"/>
<use href="#x" x="582.9" y="394.0"/>
<use href="#x" x="583.3" y="412.2"/>
<use href="#x" x="583.4" y="403.3"/>
<use href="#x" x="583.5" y="410.8"/>
<use href="#x" x="583.6" y="385.1"/>
<use href="#c" x="583.7" y="410.4"/>
<use href="#x" x="583.8" y="404.6"/>
<use href="#x" x="583.8" y="406.7"/>
<use href="#x" x="584.0" y="402.2"/>
<use href="#x" x="584.2" y="399.1"/>
<use href="#x" x="584.4" y="403.0"/>
<use href="#x" x="584.5" y="413.0"/>
<use href="#x" x="584.9" y="406.3"/>
<use href="#x" x="584.9" y="407.4"/>
<use href="#x" x="585.0" y="393.4"/>
<use href="#x" x="585.1" y="393.8"/>
<use href="#x" x="585.3" y="411.1"/>
<use href="#x" x="585.6" y="413.0"/>
<use href="#x" x="585.7" y="404.1"/>
<use href="#c" x="586.0" y="411.8"/>
<use href="#x" x="586.0" y="402.7"/>
<use href="#x" x="586.1" y="413.0"/>
<use href="#x" x="586.2" y="412.9"/>
<use href="#x" x="586.4" y="386.8"/>
<use href="#c" x="586.4" y="400.1"/>
<use href="#x" x="586.6" y="398.9"/>
<use href="#x" x="586.8" y="394.4"/>
<use href="#x" x="586.8" y="395.8"/>
<use href="#x" x="587.2" y="408.2"/>
<use href="#x" x="587.3" y="400.1"/>
<use href="#x" x="587.4" y="400.4"/>
<use href="#x" x="587.6" y="391.1"/>
<use href="#c" x="587.8" y="400.2"/>
<use href="#x" x="587.8" y="403.5"/>
<use href="#x" x="587.9" y="396.6"/>
<use href="#x" x="588.0" y="413.0"/>
<use href="#x" x="588.0" y="400.8"/>
<use href="#x" x="588.6" y="406.1"/>
<use href="#x" x="588.7" y="393.0"/>
<use href="#x" x="588.7" y="410.1"/>
<use href="#x" x="588.9" y="410.2"/>
<use href="#x" x="589.0" y="400.0"/>
<use href="#c" x="589.1" y="412.3"/>
<use href="#x" x="589.5" y="412.4"/>
<use href="#c" x="589.5" y="383.4"/>
<use href="#x" x="589.6" y="391.2"/>
<use href="#x" x="589.8" y="400.2"/>
<use href="#x" x="589.9" y="399.4"/>
<use href="#x" x="590.0" y="346.0"/>
<use href="#x" x="590.0" y="413.4"/>
<use href="#x" x="590.2" y="406.7"/>
<use href="#x" x="590.3" y="408.0"/>
<use href="#x" x="590.6" y="405.7"/>
<use href="#x" x="590.6" y="389.5"/>
<use href="#x" x="590.6" y="394.4"/>
<use href="#x" x="590.7" y="386.5"/>
<use href="#x" x="590.8" y="398.8"/>
<use href="#x" x="591.1" y="398.4"/>
<use href="#x" x="591.1" y="392.3"/>
<use href="#x" x="591.2" y="402.0"/>
<use href="#c" x="591.5" y="412.9"/>
<use href="#c" x="591.5" y="396.5"/>
<use href="#x" x="591.5" y="377.0"/>
<use href="#x" x="591.7" y="410.7"/>
<use href="#x" x="591.8" y="411.3"/>
<use href="#x" x="591.8" y="402.8"/>
<use href="#x" x="591.8" y="412.7"/>
<use href="#c" x="591.9" y="373.4"/>
<use href="#x" x="592.3" y="413.0"/>
<use href="#x" x="592.5" y="410.1"/>
<use href="#x" x="592.7" y="406.7"/>
<use href="#x" x="592.9" y="397.5"/>
<use href="#x" x="593.0" y="413.6"/>
<use href="#x" x="593.4" y="402.7"/>
<use href="#c" x="593.4" y="409.1"/>
<use href="#x" x="593.7" y="390.0"/>
<use href="#x" x="593.8" y="404.9"/>
<use href="#x" x="593.9" y="410.0"/>
<use href="#x" x="593.9" y="412.8"/>
<use href="#c" x="594.0" y="412.0"/>
<use href="#x" x="594.0" y="378.2"/>
<use href="#x" x="594.1" y="393.4"/>
<use href="#x" x="594.2" y="382.9"/>
<use href="#x" x="594.2" y="380.6"/>
<use href="#x" x="594.3" y="389.3"/>
<use href="#x" x="594.4" y="409.7"/>
<use href="#c" x="594.7" y="411.9"/>
<use href="#c" x="594.7" y="402.2"/>
<use href="#x" x="594.7" y="401.6"/>
<use href="#x" x="595.0" y="390.2"/>
<use href="#x" x="595.0" y="376.6"/>
<use href="#x" x="595.0" y="407.6"/>
<use href="#x" x="595.1" y="402.3"/>
<use href="#x" x="595.2" y="393.5"/>
<use href="#c" x="595.8" y="396.3"/>
<use href="#x" x="596.1" y="411.6"/>
<use href="#x" x="596.1" y="395.1"/>
<use href="#x" x="596.3" y="391.9"/>
<use href="#x" x="596.4" y="384.6"/>
<use href="#x" x="596.4" y="385.6"/>
<use href="#x" x="596.5" y="400.7"/>
<use href="#x" x="596.5" y="404.2"/>
<use href="#x" x="596.6" y="382.4"/>
<use href="#c" x="597.0" y="391.0"/>
<use href="#x" x="597.0" y="358.0"/>
<use href="#c" x="597.1" y="411.8"/>
<use href="#x" x="597.1" y="399.1"/>
<use href="#x" x="597.1" y="407.0"/>
<use href="#x" x="597.4" y="400.2"/>
<use href="#c" x="597.4" y="397.0"/>
<use href="#x" x="597.6" y="394.5"/>
<use href="#x" x="597.7" y="413.0"/>
<use href="#x" x="598.0" y="391.8"/>
<use href="#x" x="598.1" y="413.4"/>
<use href="#x" x="598.2" y="391.6"/>
<use href="#x" x="598.3" y="412.9"/>
<use href="#x" x="598.3" y="391.0"/>
<use href="#x" x="598.7" y="411.3"/>
<use href="#x" x="598.9" y="408.5"/>
<use href="#c" x="599.1" y="412.0"/>
<use href="#x" x="599.3" y="388.2"/>
<use href="#x" x="599.3" y="411.9"/>
<use href="#x" x="599.4" y="408.4"/>
<use href="#x" x="599.5" y="381.5"/>
<use href="#c" x="599.5" y="413.5"/>
<use href="#x" x="599.6" y="397.7"/>
<use href="#x" x="599.7" y="408.5"/>
<use href="#x" x="599.7" y="391.1"/>
<use href="#x" x="599.9" y="395.6"/>
<use href="#x" x="600.0" y="395.6"/>
<use href="#x" x="600.2" y="408.5"/>
<use href="#x" x="600.5" y="409.6"/>
<use href="#x" x="600.6" y="387.9"/>
<use href="#x" x="600.8" y="395.4"/>
<use href="#x" x="600.9" y="410.8"/>
<use href="#x" x="601.2" y="402.7"/>
<use href="#x" x="601.3" y="399.9"/>
<use href="#x" x="601.6" y="393.9"/>
<use href="#x" x="601.6" y="405.1"/>
<use href="#x" x="601.6" y="392.3"/>
<use href="#c" x="601.8" y="412.7"/>
<use href="#x" x="601.9" y="388.4"/>
<use href="#x" x="602.1" y="405.3"/>
<use href="#x" x="602.3" y="393.3"/>
<use href="#x" x="602.6" y="400.9"/>
<use href="#x" x="602.9" y="394.4"/>
<use href="#x" x="603.0" y="412.6"/>
<use href="#x" x="603.2" y="387.3"/>
<use href="#x" x="603.3" y="405.9"/>
<use href="#x" x="603.4" y="391.8"/>
<use href="#c" x="603.4" y="384.9"/>
<use href="#c" x="603.4" y="404.2"/>
<use href="#c" x="603.6" y="405.7"/>
<use href="#x" x="603.6" y="388.7"/>
<use href="#x" x="603.8" y="401.6"/>
<use href="#x" x="603.9" y="403.1"/>
<use href="#c" x="603.9" y="411.8"/>
<use href="#x" x="604.0" y="394.2"/>
<use href="#c" x="604.0" y="372.0"/>
<use href="#x" x="604.4" y="379.4"/>
<use href="#x" x="604.4" y="406.4"/>
<use href="#x" x="604.6" y="410.3"/>
<use href="#c" x="604.7" y="409.6"/>
<use href="#x" x="604.8" y="408.3"/>
<use href="#c" x="605.1" y="413.0"/>
<use href="#x" x="605.3" y="396.5"/>
<use href="#x" x="605.4" y="411.9"/>
<use href="#x" x="605.4" y="402.9"/>
<use href="#x" x="605.5" y="403.5"/>
<use href="#x" x="605.6" y="400.4"/>
<use href="#x" x="605.9" y="404.9"/>
<use href="#x" x="606.1" y="390.2"/>
<use href="#x" x="606.1" y="392.2"/>
<use href="#x" x="606.3" y="401.7"/>
<use href="#x" x="606.3" y="407.3"/>
<use href="#c" x="606.7" y="413.2"/>
<use href="#x" x="606.7" y="404.5"/>
<use href="#x" x="606.8" y="413.2"/>
<use href="#x" x="606.9" y="388.6"/>
<use href="#x" x="607.0" y="398.4"/>
<use href="#c" x="607.0" y="397.0"/>
<use href="#x" x="607.1" y="401.5"/>
<use href="#x" x="607.2" y="386.2"/>
<use href="#x" x="607.4" y="374.2"/>
<use href="#x" x="607.5" y="406.7"/>
<use href="#x" x="607.7" y="389.2"/>
<use href="#x" x="607.8" y="410.2"/>
<use href="#x" x="607.9" y="386.4"/>
<use href="#c" x="608.0" y="374.5"/>
<use href="#c" x="608.1" y="374.8"/>
<use href="#x" x="608.3" y="386.1"/>
<use href="#x" x="608.4" y="388.4"/>
<use href="#x" x="608.5" y="391.7"/>
<use href="#x" x="608.6" y="398.2"/>
<use href="#x" x="608.6" y="410.2"/>
<use href="#x" x="608.7" y="409.8"/>
<use href="#x" x="608.8" y="412.6"/>
<use href="#x" x="608.9" y="413.3"/>
<use href="#x" x="608.9" y="391.4"/>
<use href="#x" x="608.9" y="380.0"/>
<use href="#x" x="609.0" y="362.0"/>
<use href="#x" x="609.1" y="392.8"/>
<use href="#c" x="609.2" y="409.1"/>
<use href="#x" x="609.6" y="406.4"/>
<use href="#x" x="609.7" y="386.9"/>
<use href="#x" x="609.8" y="413.1"/>
<use href="#c" x="609.8" y="396.0"/>
<use href="#x" x="609.8" y="384.2"/>
<use href="#c" x="610.1" y="413.4"/>
<use href="#x" x="610.3" y="397.6"/>
<use href="#c" x="610.4" y="408.3"/>
<use href="#x" x="610.4" y="387.3"/>
<use href="#x" x="610.6" y="397.2"/>
<use href="#c" x="610.7" y="413.1"/>
<use href="#x" x="610.9" y="413.3"/>
<use href="#x" x="610.9" y="408.2"/>
<use href="#x" x="611.2" y="386.4"/>
<use href="#c" x="611.3" y="412.6"/>
<use href="#x" x="611.4" y="399.4"/>
<use href="#x" x="611.4" y="398.4"/>
<use href="#x" x="611.6" y="409.4"/>
<use href="#x" x="611.8" y="391.1"/>
<use href="#x" x="612.0" y="410.0"/>
<use href="#x" x="612.1" y="410.1"/>
<use href="#x" x="612.2" y="412.8"/>
<use href="#x" x="612.3" y="400.0"/>
<use href="#x" x="612.4" y="408.8"/>
<use href="#x" x="612.5" y="384.0"/>
<use href="#x" x="612.6" y="393.9"/>
<use href="#c" x="612.6" y="413.6"/>
<use href="#c" x="612.8" y="400.3"/>
<use href="#x" x="612.8" y="371.9"/>
<use href="#x" x="612.9" y="410.9"/>
<use href="#x" x="613.2" y="402.1"/>
<use href="#x" x="613.2" y="411.0"/>
<use href="#x" x="613.3" y="394.6"/>
<use href="#x" x="613.4" y="389.5"/>
</g>
<g fill="#87cefa" stroke="#87cefa">
<use href="#x" x="233.4" y="332.7"/>
<use href="#x" x="237.0" y="338.0"/>
<use href="#c" x="243.6" y="295.4"/>
<use href="#c" x="245.0" y="345.0"/>
<use href="#c" x="245.0" y="352.0"/>
<use href="#c" x="245.5" y="360.0"/>
<use href="#x" x="248.1" y="360.2"/>
<use href="#x" x="248.2" y="363.3"/>
<use href="#x" x="248.7" y="365.0"/>
<use href="#x" x="248.7" y="369.8"/>
<use href="#c" x="250.0" y="390.0"/>
<use href="#x" x="251.4" y="370.7"/>
<use href="#c" x="251.5" y="357.7"/>
<use href="#x" x="251.8" y="365.8"/>
<use href="#x" x="252.0" y="366.2"/>
<use href="#x" x="252.9" y="369.9"/>
<use href="#x" x="253.1" y="363.5"/>
<use href="#x" x="253.5" y="369.5"/>
<use href="#x" x="253.8" y="365.3"/>
<use href="#x" x="254.0" y="366.6"/>
<use href="#x" x="255.0" y="369.6"/>
<use href="#x" x="255.2" y="362.2"/>
<use href="#x" x="255.5" y="370.6"/>
<use href="#x" x="255.5" y="369.0"/>
<use href="#x" x="255.6" y="360.5"/>
<use href="#x" x="256.4" y="365.4"/>
<use href="#x" x="256.5" y="362.9"/>
<use href="#x" x="257.3" y="361.9"/>
<use href="#x" x="258.0" y="360.7"/>
<use href="#x" x="258.0" y="370.6"/>
<use href="#c" x="258.7" y="358.9"/>
<use href="#x" x="259.5" y="369.4"/>
<use href="#x" x="260.7" y="367.2"/>
<use href="#x" x="260.7" y="367.0"/>
<use href="#x" x="261.3" y="368.2"/>
<use href="#x" x="261.5" y="369.8"/>
<use href="#c" x="261.8" y="356.9"/>
<use href="#x" x="262.0" y="363.4"/>
<use href="#x" x="262.4" y="367.2"/>
<use href="#c" x="263.0" y="328.0"/>
<use href="#x" x="263.9" y="368.9"/>
<use href="#c" x="264.8" y="357.8"/>
<use href="#x" x="265.4" y="360.9"/>
<use href="#c" x="268.6" y="357.3"/>
<use href="#x" x="268.8" y="363.8"/>
<use href="#x" x="269.5" y="367.7"/>
<use href="#x" x="269.5" y="370.4"/>
<use href="#x" x="270.0" y="366.5"/>
<use href="#c" x="270.5" y="358.0"/>
<use href="#x" x="271.0" y="367.1"/>
<use href="#x" x="271.6" y="365.5"/>
<use href="#x" x="271.7" y="370.3"/>
<use href="#x" x="272.5" y="364.4"/>
<use href="#x" x="272.8" y="361.0"/>
<use href="#x" x="273.6" y="368.7"/>
<use href="#c" x="273.8" y="317.9"/>
<use href="#x" x="274.5" y="361.9"/>
<use href="#x" x="274.7" y="364.5"/>
<use href="#x" x="276.1" y="360.2"/>
<use href="#x" x="276.5" y="362.9"/>
<use href="#x" x="276.7" y="369.4"/>
<use href="#c" x="276.8" y="359.5"/>
<use href="#c" x="278.4" y="297.5"/>
<use href="#x" x="279.6" y="362.2"/>
<use href="#c" x="279.8" y="360.2"/>
<use href="#c" x="280.0" y="335.0"/>
<use href="#x" x="280.6" y="364.1"/>
<use href="#c" x="281.9" y="332.2"/>
<use href="#x" x="282.5" y="363.9"/>
<use href="#x" x="282.6" y="362.8"/>
<use href="#x" x="283.2" y="362.0"/>
<use href="#x" x="283.3" y="365.5"/>
<use href="#x" x="283.7" y="370.4"/>
<use href="#x" x="283.7" y="362.7"/>
<use href="#x" x="284.6" y="365.2"/>
<use href="#c" x="284.8" y="356.4"/>
<use href="#x" x="285.6" y="369.3"/>
<use href="#c" x="286.6" y="358.9"/>
<use href="#x" x="287.1" y="361.1"/>
<use href="#x" x="289.6" y="360.1"/>
<use href="#x" x="289.7" y="360.7"/>
<use href="#c" x="290.8" y="356.6"/>
<use href="#x" x="291.4" y="362.0"/>
<use href="#x" x="291.9" y="360.4"/>
<use href="#x" x="292.0" y="368.2"/>
<use href="#x" x="292.6" y="362.8"/>
<use href="#x" x="293.6" y="362.8"/>
<use href="#x" x="293.9" y="360.6"/>
<use href="#c" x="294.3" y="361.0"/>
<use href="#x" x="295.2" y="363.6"/>
<use href="#x" x="296.2" y="361.7"/>
<use href="#x" x="296.3" y="361.5"/>
<use href="#x" x="297.0" y="364.8"/>
<use href="#c" x="297.1" y="359.2"/>
<use href="#x" x="297.2" y="366.1"/>
<use href="#x" x="297.5" y="370.8"/>
<use href="#x" x="297.5" y="367.7"/>
<use href="#x" x="297.5" y="362.9"/>
<use href="#x" x="298.0" y="360.1"/>
<use href="#x" x="298.3" y="365.2"/>
<use href="#c" x="299.1" y="359.2"/>
<use href="#x" x="299.4" y="367.7"/>
<use href="#c" x="300.0" y="318.0"/>
<use href="#x" x="300.1" y="369.4"/>
<use href="#c" x="300.8" y="306.2"/>
<use href="#x" x="300.9" y="367.3"/>
<use href="#x" x="301.6" y="361.7"/>
<use href="#x" x="301.9" y="367.5"/>
<use href="#x" x="302.5" y="368.5"/>
<use href="#x" x="302.6" y="366.5"/>
<use href="#c" x="302.8" y="361.9"/>
<use href="#x" x="303.7" y="360.1"/>
<use href="#x" x="303.7" y="363.7"/>
<use href="#x" x="304.1" y="367.7"/>
<use href="#x" x="305.1" y="362.5"/>
<use href="#x" x="305.4" y="370.9"/>
<use href="#c" x="305.8" y="358.0"/>
<use href="#x" x="306.0" y="364.3"/>
<use href="#x" x="306.3" y="364.5"/>
<use href="#x" x="306.5" y="362.5"/>
<use href="#x" x="307.4" y="367.0"/>
<use href="#x" x="307.7" y="364.8"/>
<use href="#x" x="308.0" y="360.1"/>
<use href="#x" x="308.9" y="369.1"/>
<use href="#x" x="309.2" y="366.2"/>
<use href="#c" x="309.7" y="355.9"/>
<use href="#x" x="311.8" y="365.5"/>
<use href="#c" x="313.3" y="356.3"/>
<use href="#x" x="313.7" y="360.6"/>
<use href="#c" x="314.5" y="253.4"/>
<use href="#x" x="314.7" y="365.9"/>
<use href="#x" x="315.1" y="366.5"/>
<use href="#x" x="315.2" y="370.8"/>
<use href="#c" x="315.2" y="282.3"/>
<use href="#c" x="316.0" y="316.0"/>
<use href="#c" x="316.4" y="358.7"/>
<use href="#x" x="316.6" y="367.7"/>
<use href="#x" x="316.7" y="366.3"/>
<use href="#x" x="317.7" y="361.4"/>
<use href="#c" x="318.5" y="360.7"/>
<use href="#x" x="319.1" y="369.9"/>
<use href="#x" x="320.3" y="362.9"/>
<use href="#x" x="320.6" y="366.2"/>
<use href="#x" x="320.8" y="361.4"/>
<use href="#x" x="321.2" y="229.7"/>
<use href="#c" x="321.9" y="357.9"/>
<use href="#x" x="322.0" y="250.0"/>
<use href="#x" x="322.9" y="365.1"/>
<use href="#x" x="322.9" y="364.5"/>
<use href="#x" x="323.0" y="249.9"/>
<use href="#x" x="323.1" y="365.2"/>
<use href="#x" x="323.6" y="368.6"/>
<use href="#x" x="324.6" y="362.4"/>
<use href="#c" x="325.0" y="361.2"/>
<use href="#x" x="325.0" y="367.4"/>
<use href="#x" x="325.4" y="363.4"/>
<use href="#x" x="325.8" y="366.4"/>
<use href="#x" x="325.9" y="364.0"/>
<use href="#x" x="326.1" y="360.5"/>
<use href="#x" x="326.2" y="365.4"/>
<use href="#x" x="327.8" y="369.3"/>
<use href="#x" x="328.1" y="364.3"/>
<use href="#x" x="328.1" y="364.1"/>
<use href="#x" x="328.7" y="361.3"/>
<use href="#c" x="329.1" y="360.1"/>
<use href="#x" x="329.2" y="367.0"/>
<use href="#x" x="329.5" y="365.8"/>
<use href="#x" x="329.8" y="364.8"/>
<use href="#x" x="330.9" y="367.8"/>
<use href="#x" x="331.7" y="222.2"/>
<use href="#c" x="331.9" y="356.2"/>
<use href="#x" x="332.8" y="362.4"/>
<use href="#x" x="333.0" y="247.0"/>
<use href="#x" x="333.2" y="364.8"/>
<use href="#x" x="334.0" y="366.3"/>
<use href="#x" x="334.0" y="370.2"/>
<use href="#c" x="334.6" y="359.4"/>
<use href="#x" x="335.1" y="363.9"/>
<use href="#x" x="336.0" y="367.5"/>
<use href="#x" x="337.7" y="368.6"/>
<use href="#c" x="337.8" y="357.7"/>
<use href="#x" x="338.0" y="363.2"/>
<use href="#c" x="338.2" y="248.5"/>
<use href="#x" x="338.7" y="367.1"/>
<use href="#x" x="339.1" y="370.2"/>
<use href="#x" x="339.2" y="367.1"/>
<use href="#x" x="339.2" y="361.0"/>
<use href="#x" x="339.3" y="362.2"/>
<use href="#x" x="339.3" y="364.3"/>
<use href="#x" x="340.0" y="367.0"/>
<use href="#x" x="340.3" y="367.9"/>
<use href="#x" x="340.6" y="364.1"/>
<use href="#x" x="341.0" y="370.0"/>
<use href="#c" x="341.3" y="359.9"/>
<use href="#x" x="343.0" y="244.0"/>
<use href="#x" x="343.0" y="235.0"/>
<use href="#x" x="343.1" y="361.5"/>
<use href="#c" x="344.2" y="356.2"/>
<use href="#c" x="345.0" y="352.7"/>
<use href="#x" x="345.1" y="361.3"/>
<use href="#x" x="345.6" y="370.0"/>
<use href="#x" x="345.7" y="364.0"/>
<use href="#c" x="345.7" y="321.6"/>
<use href="#x" x="345.9" y="354.8"/>
<use href="#x" x="346.1" y="368.6"/>
<use href="#x" x="346.4" y="365.4"/>
<use href="#x" x="346.7" y="362.2"/>
<use href="#x" x="346.8" y="362.7"/>
<use href="#x" x="347.2" y="317.4"/>
<use href="#x" x="347.4" y="191.0"/>
<use href="#x" x="347.9" y="365.9"/>
<use href="#x" x="349.4" y="361.7"/>
<use href="#c" x="349.8" y="365.9"/>
<use href="#c" x="350.0" y="352.7"/>
<use href="#x" x="351.0" y="358.0"/>
<use href="#x" x="351.1" y="370.6"/>
<use href="#x" x="351.6" y="361.9"/>
<use href="#x" x="352.3" y="354.9"/>
<use href="#x" x="352.3" y="369.6"/>
<use href="#x" x="353.2" y="361.4"/>
<use href="#x" x="353.5" y="354.4"/>
<use href="#c" x="355.0" y="353.0"/>
<use href="#x" x="356.2" y="302.8"/>
<use href="#x" x="356.8" y="361.0"/>
<use href="#c" x="356.8" y="358.3"/>
<use href="#x" x="358.5" y="364.5"/>
<use href="#c" x="360.4" y="360.5"/>
<use href="#x" x="360.6" y="363.9"/>
<use href="#x" x="361.2" y="343.2"/>
<use href="#x" x="362.5" y="360.2"/>
<use href="#x" x="368.0" y="363.1"/>
<use href="#x" x="368.3" y="357.8"/>
<use href="#x" x="368.8" y="370.9"/>
<use href="#x" x="369.9" y="362.5"/>
<use href="#x" x="370.3" y="362.9"/>
<use href="#x" x="371.1" y="367.6"/>
<use href="#c" x="371.4" y="358.7"/>
<use href="#x" x="371.5" y="364.0"/>
<use href="#c" x="371.9" y="354.3"/>
<use href="#x" x="375.1" y="316.5"/>
<use href="#c" x="375.2" y="364.1"/>
<use href="#x" x="375.3" y="303.0"/>
<use href="#x" x="375.5" y="350.1"/>
<use href="#x" x="377.0" y="362.7"/>
<use href="#x" x="377.1" y="323.8"/>
<use href="#c" x="383.4" y="354.3"/>
<use href="#x" x="384.3" y="354.3"/>
<use href="#x" x="384.3" y="316.6"/>
<use href="#x" x="384.4" y="366.5"/>
<use href="#c" x="384.6" y="362.4"/>
<use href="#x" x="387.7" y="359.2"/>
<use href="#x" x="390.0" y="345.0"/>
<use href="#x" x="390.1" y="358.0"/>
<use href="#x" x="392.2" y="356.6"/>
<use href="#x" x="392.4" y="361.8"/>
<use href="#x" x="393.3" y="358.1"/>
<use href="#x" x="395.0" y="355.0"/>
<use href="#x" x="396.4" y="363.0"/>
<use href="#x" x="396.4" y="317.7"/>
<use href="#x" x="396.8" y="371.3"/>
<use href="#x" x="397.1" y="370.2"/>
<use href="#x" x="397.1" y="364.2"/>
<use href="#c" x="398.6" y="332.5"/>
<use href="#x" x="399.3" y="369.0"/>
<use href="#x" x="399.9" y="361.2"/>
<use href="#x" x="400.8" y="357.8"/>
<use href="#c" x="401.3" y="354.3"/>
<use href="#c" x="401.4" y="337.9"/>
<use href="#x" x="401.8" y="342.3"/>
<use href="#x" x="403.3" y="363.6"/>
<use href="#c" x="406.3" y="378.8"/>
<use href="#x" x="406.6" y="321.3"/>
<use href="#x" x="406.6" y="371.5"/>
<use href="#x" x="408.1" y="356.2"/>
<use href="#x" x="408.2" y="354.6"/>
<use href="#x" x="408.5" y="361.5"/>
<use href="#c" x="409.9" y="223.5"/>
<use href="#c" x="410.4" y="324.0"/>
<use href="#x" x="411.1" y="312.9"/>
<use href="#c" x="412.8" y="360.0"/>
<use href="#x" x="416.5" y="345.6"/>
<use href="#c" x="416.9" y="337.9"/>
<use href="#c" x="417.7" y="351.0"/>
<use href="#c" x="419.4" y="308.5"/>
<use href="#c" x="420.5" y="347.4"/>
<use href="#x" x="422.5" y="305.9"/>
<use href="#x" x="423.4" y="319.2"/>
<use href="#x" x="425.0" y="350.0"/>
<use href="#x" x="425.6" y="330.2"/>
<use href="#x" x="430.0" y="335.0"/>
<use href="#x" x="432.0" y="300.0"/>
<use href="#x" x="433.3" y="316.9"/>
<use href="#x" x="433.4" y="359.8"/>
<use href="#x" x="433.9" y="322.0"/>
<use href="#x" x="434.1" y="358.4"/>
<use href="#x" x="435.6" y="359.1"/>
</g>
<g fill="#00ff00" stroke="#00ff00">
<use href="#x" x="243.0" y="318.0"/>
<use href="#c" x="244.6" y="320.5"/>
<use href="#x" x="245.3" y="295.2"/>
<use href="#x" x="245.6" y="302.8"/>
<use href="#x" x="245.7" y="296.1"/>
<use href="#x" x="245.8" y="312.6"/>
<use href="#x" x="245.9" y="290.7"/>
<use href="#c" x="247.7" y="307.2"/>
<use href="#x" x="248.3" y="305.8"/>
<use href="#x" x="248.4" y="292.4"/>
<use href="#x" x="248.4" y="296.4"/>
<use href="#x" x="248.5" y="299.0"/>
<use href="#x" x="249.0" y="304.7"/>
<use href="#x" x="249.7" y="310.3"/>
<use href="#x" x="249.9" y="314.5"/>
<use href="#x" x="250.0" y="342.0"/>
<use href="#x" x="250.7" y="299.2"/>
<use href="#x" x="250.7" y="302.9"/>
<use href="#c" x="250.8" y="293.6"/>
<use href="#x" x="250.8" y="310.2"/>
<use href="#c" x="251.1" y="326.6"/>
<use href="#x" x="251.4" y="298.7"/>
<use href="#x" x="251.5" y="297.3"/>
<use href="#x" x="252.2" y="309.6"/>
<use href="#c" x="252.8" y="304.1"/>
<use href="#x" x="252.8" y="301.5"/>
<use href="#c" x="253.3" y="303.3"/>
<use href="#c" x="253.3" y="307.2"/>
<use href="#x" x="254.2" y="309.9"/>
<use href="#c" x="254.3" y="313.8"/>
<use href="#x" x="254.4" y="296.6"/>
<use href="#x" x="254.8" y="292.4"/>
<use href="#x" x="255.6" y="290.8"/>
<use href="#x" x="256.5" y="301.2"/>
<use href="#x" x="256.7" y="302.2"/>
<use href="#c" x="256.9" y="282.2"/>
<use href="#c" x="257.4" y="306.7"/>
<use href="#x" x="258.3" y="305.3"/>
<use href="#x" x="258.3" y="296.0"/>
<use href="#x" x="259.0" y="294.3"/>
<use href="#x" x="259.2" y="312.7"/>
<use href="#c" x="260.5" y="305.7"/>
<use href="#x" x="260.5" y="299.4"/>
<use href="#x" x="262.0" y="280.0"/>
<use href="#c" x="262.4" y="299.5"/>
<use href="#x" x="263.4" y="299.7"/>
<use href="#x" x="263.9" y="310.2"/>
<use href="#x" x="264.7" y="295.2"/>
<use href="#c" x="265.6" y="304.1"/>
<use href="#x" x="266.8" y="298.2"/>
<use href="#x" x="267.2" y="308.4"/>
<use href="#x" x="267.3" y="308.2"/>
<use href="#x" x="267.5" y="307.1"/>
<use href="#c" x="270.4" y="306.5"/>
<use href="#x" x="271.3" y="307.8"/>
<use href="#x" x="271.4" y="311.8"/>
<use href="#c" x="271.7" y="304.1"/>
<use href="#x" x="272.1" y="314.3"/>
<use href="#c" x="272.9" y="303.3"/>
<use href="#x" x="274.8" y="296.0"/>
<use href="#c" x="275.8" y="303.6"/>
<use href="#x" x="275.9" y="312.0"/>
<use href="#x" x="276.6" y="299.8"/>
<use href="#x" x="276.8" y="292.7"/>
<use href="#x" x="276.9" y="307.0"/>
<use href="#x" x="277.1" y="294.0"/>
<use href="#x" x="277.1" y="302.6"/>
<use href="#x" x="278.2" y="292.3"/>
<use href="#x" x="278.8" y="303.9"/>
<use href="#x" x="278.8" y="314.7"/>
<use href="#c" x="279.4" y="301.2"/>
<use href="#x" x="279.4" y="297.9"/>
<use href="#x" x="279.6" y="296.7"/>
<use href="#c" x="279.8" y="306.6"/>
<use href="#x" x="280.0" y="313.0"/>
<use href="#x" x="280.3" y="293.1"/>
<use href="#x" x="281.4" y="299.3"/>
<use href="#x" x="282.0" y="314.3"/>
<use href="#x" x="282.2" y="304.6"/>
<use href="#x" x="283.1" y="301.3"/>
<use href="#x" x="283.7" y="295.3"/>
<use href="#x" x="284.0" y="301.3"/>
<use href="#x" x="284.0" y="279.0"/>
<use href="#x" x="284.3" y="293.3"/>
<use href="#x" x="284.8" y="313.8"/>
<use href="#x" x="284.8" y="312.8"/>
<use href="#x" x="285.7" y="311.6"/>
<use href="#x" x="286.2" y="293.7"/>
<use href="#c" x="286.2" y="305.1"/>
<use href="#c" x="288.1" y="305.8"/>
<use href="#x" x="288.3" y="300.4"/>
<use href="#x" x="288.5" y="297.6"/>
<use href="#x" x="288.7" y="302.1"/>
<use href="#x" x="289.1" y="312.9"/>
<use href="#x" x="289.7" y="307.6"/>
<use href="#c" x="289.9" y="294.9"/>
<use href="#c" x="290.0" y="310.6"/>
<use href="#x" x="290.4" y="304.5"/>
<use href="#c" x="291.1" y="310.3"/>
<use href="#x" x="291.2" y="301.4"/>
<use href="#x" x="291.4" y="290.2"/>
<use href="#x" x="291.5" y="302.4"/>
<use href="#x" x="292.2" y="304.8"/>
<use href="#x" x="292.3" y="292.0"/>
<use href="#x" x="292.9" y="295.2"/>
<use href="#x" x="293.4" y="309.2"/>
<use href="#x" x="295.8" y="299.1"/>
<use href="#x" x="296.2" y="298.1"/>
<use href="#x" x="298.0" y="290.0"/>
<use href="#x" x="298.9" y="298.9"/>
<use href="#x" x="299.9" y="303.2"/>
<use href="#x" x="300.2" y="307.7"/>
<use href="#x" x="300.5" y="299.0"/>
<use href="#x" x="300.8" y="287.5"/>
<use href="#x" x="301.7" y="311.2"/>
<use href="#x" x="301.9" y="300.5"/>
<use href="#x" x="302.8" y="299.0"/>
<use href="#x" x="303.0" y="295.5"/>
<use href="#x" x="303.5" y="300.0"/>
<use href="#x" x="303.9" y="308.6"/>
<use href="#x" x="304.9" y="308.8"/>
<use href="#x" x="305.0" y="300.0"/>
<use href="#x" x="305.4" y="311.5"/>
<use href="#x" x="310.2" y="309.9"/>
<use href="#x" x="310.4" y="299.8"/>
<use href="#x" x="310.6" y="307.4"/>
<use href="#x" x="315.9" y="288.4"/>
<use href="#x" x="317.1" y="293.8"/>
<use href="#x" x="317.5" y="291.5"/>
<use href="#x" x="320.0" y="343.0"/>
<use href="#x" x="320.4" y="299.6"/>
<use href="#x" x="322.0" y="187.7"/>
<use href="#x" x="322.2" y="307.8"/>
<use href="#x" x="323.0" y="310.5"/>
<use href="#x" x="327.2" y="292.9"/>
<use href="#c" x="328.6" y="310.1"/>
<use href="#x" x="329.8" y="308.7"/>
<use href="#c" x="346.2" y="198.2"/>
<use href="#x" x="347.4" y="203.4"/>
<use href="#x" x="350.0" y="190.6"/>
<use href="#x" x="350.0" y="221.8"/>
<use href="#x" x="350.5" y="319.4"/>
<use href="#x" x="351.0" y="309.6"/>
<use href="#x" x="351.8" y="196.4"/>
<use href="#x" x="354.0" y="304.1"/>
<use href="#x" x="354.1" y="300.5"/>
<use href="#c" x="354.4" y="290.8"/>
<use href="#x" x="354.9" y="316.3"/>
<use href="#x" x="355.0" y="312.7"/>
<use href="#x" x="358.3" y="309.5"/>
<use href="#x" x="358.3" y="320.5"/>
<use href="#x" x="360.2" y="298.1"/>
<use href="#x" x="360.2" y="308.5"/>
<use href="#x" x="360.9" y="314.2"/>
<use href="#x" x="361.0" y="303.2"/>
<use href="#c" x="361.3" y="330.9"/>
<use href="#x" x="361.5" y="309.7"/>
<use href="#x" x="362.7" y="300.7"/>
<use href="#x" x="364.7" y="317.2"/>
<use href="#x" x="364.8" y="305.9"/>
<use href="#x" x="365.8" y="305.0"/>
<use href="#x" x="366.5" y="312.0"/>
<use href="#x" x="366.7" y="318.0"/>
<use href="#x" x="367.3" y="299.4"/>
<use href="#x" x="367.8" y="306.2"/>
<use href="#x" x="367.9" y="301.7"/>
<use href="#x" x="368.0" y="299.8"/>
<use href="#x" x="368.4" y="320.9"/>
<use href="#x" x="370.0" y="320.9"/>
<use href="#x" x="370.9" y="315.2"/>
<use href="#x" x="372.2" y="300.7"/>
<use href="#x" x="372.4" y="311.6"/>
<use href="#x" x="372.9" y="310.9"/>
<use href="#x" x="373.8" y="298.1"/>
<use href="#x" x="375.4" y="306.2"/>
<use href="#x" x="375.6" y="307.9"/>
<use href="#x" x="376.4" y="314.9"/>
<use href="#x" x="376.5" y="318.9"/>
<use href="#x" x="377.1" y="302.1"/>
<use href="#x" x="377.3" y="305.9"/>
<use href="#x" x="377.6" y="311.4"/>
<use href="#x" x="379.3" y="300.0"/>
<use href="#c" x="380.1" y="326.5"/>
<use href="#c" x="380.1" y="333.8"/>
<use href="#x" x="380.7" y="293.3"/>
<use href="#x" x="380.8" y="284.5"/>
<use href="#x" x="383.3" y="281.6"/>
<use href="#x" x="385.3" y="294.0"/>
<use href="#x" x="385.9" y="291.6"/>
<use href="#x" x="388.1" y="292.2"/>
<use href="#x" x="390.2" y="323.0"/>
<use href="#x" x="390.4" y="317.4"/>
<use href="#x" x="391.0" y="277.0"/>
<use href="#c" x="392.0" y="349.4"/>
<use href="#x" x="392.0" y="310.0"/>
<use href="#x" x="394.5" y="316.3"/>
<use href="#x" x="395.0" y="352.0"/>
<use href="#x" x="396.5" y="285.0"/>
<use href="#x" x="396.7" y="312.0"/>
<use href="#c" x="398.6" y="299.5"/>
<use href="#c" x="400.1" y="305.7"/>
<use href="#c" x="402.5" y="314.2"/>
<use href="#x" x="405.0" y="329.3"/>
<use href="#c" x="405.1" y="319.1"/>
<use href="#c" x="405.5" y="342.3"/>
<use href="#x" x="408.0" y="282.0"/>
<use href="#x" x="410.7" y="328.8"/>
<use href="#x" x="414.9" y="322.6"/>
<use href="#x" x="416.4" y="329.2"/>
<use href="#x" x="416.8" y="304.3"/>
<use href="#x" x="419.9" y="307.0"/>
</g>
<g fill="#ffa500" stroke="#ffa500">
<use href="#x" x="246.3" y="229.6"/>
<use href="#c" x="265.3" y="248.6"/>
<use href="#x" x="266.4" y="217.9"/>
<use href="#x" x="266.8" y="214.4"/>
<use href="#x" x="268.5" y="265.3"/>
<use href="#x" x="269.9" y="212.9"/>
<use href="#x" x="270.0" y="278.0"/>
<use href="#x" x="270.2" y="226.9"/>
<use href="#x" x="273.5" y="223.4"/>
<use href="#x" x="273.9" y="209.9"/>
<use href="#x" x="276.1" y="201.8"/>
<use href="#x" x="276.3" y="202.8"/>
<use href="#x" x="278.0" y="207.0"/>
<use href="#x" x="278.7" y="249.7"/>
<use href="#x" x="279.2" y="227.2"/>
<use href="#x" x="279.7" y="246.3"/>
<use href="#x" x="280.5" y="244.9"/>
<use href="#x" x="280.6" y="233.4"/>
<use href="#x" x="280.6" y="244.3"/>
<use href="#x" x="281.4" y="221.5"/>
<use href="#x" x="281.5" y="226.7"/>
<use href="#x" x="282.0" y="245.0"/>
<use href="#x" x="282.6" y="221.0"/>
<use href="#x" x="284.0" y="247.7"/>
<use href="#x" x="285.7" y="250.6"/>
<use href="#x" x="285.7" y="221.7"/>
<use href="#c" x="286.7" y="239.3"/>
<use href="#x" x="286.9" y="208.6"/>
<use href="#c" x="286.9" y="239.1"/>
<use href="#x" x="288.0" y="218.3"/>
<use href="#x" x="288.7" y="223.7"/>
<use href="#x" x="289.0" y="217.3"/>
<use href="#x" x="290.0" y="276.0"/>
<use href="#x" x="290.2" y="209.4"/>
<use href="#x" x="290.5" y="243.8"/>
<use href="#x" x="290.6" y="213.0"/>
<use href="#x" x="290.7" y="212.1"/>
<use href="#x" x="290.8" y="221.6"/>
<use href="#x" x="291.7" y="209.9"/>
<use href="#x" x="292.7" y="216.8"/>
<use href="#x" x="292.7" y="211.9"/>
<use href="#x" x="292.8" y="221.3"/>
<use href="#x" x="292.8" y="221.4"/>
<use href="#x" x="293.0" y="206.9"/>
<use href="#x" x="293.3" y="213.7"/>
<use href="#x" x="293.4" y="225.9"/>
<use href="#x" x="293.4" y="217.5"/>
<use href="#x" x="293.6" y="214.9"/>
<use href="#x" x="294.0" y="258.0"/>
<use href="#x" x="294.1" y="222.1"/>
<use href="#x" x="294.3" y="211.5"/>
<use href="#x" x="294.5" y="224.4"/>
<use href="#x" x="294.5" y="220.6"/>
<use href="#x" x="294.5" y="218.2"/>
<use href="#x" x="295.1" y="223.9"/>
<use href="#x" x="295.4" y="216.4"/>
<use href="#x" x="295.8" y="218.0"/>
<use href="#x" x="296.0" y="261.0"/>
<use href="#x" x="296.1" y="222.5"/>
<use href="#x" x="296.3" y="202.9"/>
<use href="#x" x="297.4" y="223.4"/>
<use href="#x" x="297.9" y="221.8"/>
<use href="#x" x="298.4" y="220.8"/>
<use href="#x" x="298.7" y="215.4"/>
<use href="#x" x="299.6" y="204.5"/>
<use href="#x" x="299.9" y="227.6"/>
<use href="#x" x="300.8" y="208.1"/>
<use href="#x" x="300.9" y="218.7"/>
<use href="#c" x="301.0" y="214.8"/>
<use href="#x" x="301.0" y="223.7"/>
<use href="#x" x="301.1" y="220.0"/>
<use href="#x" x="301.6" y="208.8"/>
<use href="#x" x="302.7" y="215.1"/>
<use href="#x" x="302.9" y="217.3"/>
<use href="#x" x="303.2" y="217.3"/>
<use href="#x" x="303.5" y="218.7"/>
<use href="#x" x="303.5" y="224.3"/>
<use href="#x" x="303.6" y="218.8"/>
<use href="#x" x="303.9" y="211.5"/>
<use href="#x" x="304.0" y="214.8"/>
<use href="#x" x="304.1" y="215.0"/>
<use href="#x" x="304.6" y="220.5"/>
<use href="#x" x="305.0" y="245.0"/>
<use href="#x" x="305.5" y="226.0"/>
<use href="#x" x="305.9" y="216.7"/>
<use href="#x" x="306.5" y="204.9"/>
<use href="#x" x="306.7" y="211.7"/>
<use href="#x" x="307.0" y="207.9"/>
<use href="#x" x="307.9" y="224.7"/>
<use href="#x" x="308.6" y="219.3"/>
<use href="#x" x="308.7" y="214.5"/>
<use href="#x" x="308.7" y="225.6"/>
<use href="#x" x="309.5" y="217.1"/>
<use href="#x" x="310.0" y="219.4"/>
<use href="#x" x="310.0" y="262.0"/>
<use href="#x" x="311.0" y="212.9"/>
<use href="#x" x="311.2" y="217.9"/>
<use href="#x" x="311.4" y="229.9"/>
<use href="#x" x="312.0" y="240.0"/>
<use href="#x" x="313.2" y="219.2"/>
<use href="#x" x="313.5" y="217.8"/>
<use href="#x" x="314.5" y="215.9"/>
<use href="#x" x="315.1" y="221.9"/>
<use href="#x" x="316.5" y="213.7"/>
<use href="#c" x="317.7" y="216.6"/>
<use href="#x" x="318.6" y="212.9"/>
<use href="#x" x="319.0" y="211.1"/>
<use href="#x" x="319.7" y="223.9"/>
<use href="#x" x="338.0" y="233.0"/>
<use href="#x" x="345.0" y="270.0"/>
<use href="#x" x="356.0" y="253.0"/>
<use href="#x" x="379.0" y="247.0"/>
<use href="#x" x="380.4" y="246.1"/>
<use href="#x" x="381.0" y="245.0"/>
<use href="#c" x="399.8" y="157.1"/>
<use href="#x" x="404.5" y="280.0"/>
</g>
<g fill="#ff0000" stroke="#ff0000">
<use href="#x" x="291.0" y="207.0"/>
<use href="#x" x="297.0" y="216.0"/>
<use href="#c" x="299.6" y="137.6"/>
<use href="#x" x="305.0" y="216.0"/>
<use href="#x" x="308.9" y="187.0"/>
<use href="#x" x="311.0" y="216.0"/>
<use href="#x" x="312.0" y="127.0"/>
<use href="#c" x="312.8" y="142.8"/>
<use href="#x" x="314.5" y="193.0"/>
<use href="#x" x="317.3" y="129.8"/>
<use href="#x" x="317.5" y="137.1"/>
<use href="#x" x="318.7" y="97.6"/>
<use href="#x" x="318.7" y="133.3"/>
<use href="#x" x="318.8" y="98.1"/>
<use href="#x" x="318.9" y="137.2"/>
<use href="#x" x="319.0" y="97.8"/>
<use href="#x" x="319.5" y="102.0"/>
<use href="#x" x="319.8" y="143.6"/>
<use href="#x" x="320.4" y="131.9"/>
<use href="#x" x="320.6" y="128.6"/>
<use href="#x" x="320.6" y="98.8"/>
<use href="#x" x="320.7" y="134.1"/>
<use href="#x" x="321.0" y="100.5"/>
<use href="#x" x="321.1" y="134.5"/>
<use href="#x" x="321.8" y="135.6"/>
<use href="#x" x="322.1" y="99.9"/>
<use href="#x" x="322.2" y="136.2"/>
<use href="#x" x="322.3" y="99.7"/>
<use href="#x" x="323.2" y="138.9"/>
<use href="#x" x="323.9" y="101.1"/>
<use href="#x" x="325.0" y="123.0"/>
<use href="#x" x="325.0" y="99.6"/>
<use href="#x" x="326.1" y="136.3"/>
<use href="#x" x="327.2" y="135.6"/>
<use href="#x" x="327.9" y="99.8"/>
<use href="#x" x="328.1" y="135.5"/>
<use href="#x" x="328.1" y="101.5"/>
<use href="#x" x="328.1" y="97.2"/>
<use href="#x" x="328.5" y="103.3"/>
<use href="#c" x="328.5" y="153.7"/>
<use href="#c" x="328.5" y="164.4"/>
<use href="#x" x="328.6" y="134.9"/>
<use href="#x" x="328.9" y="141.8"/>
<use href="#x" x="329.0" y="128.0"/>
<use href="#x" x="329.1" y="136.0"/>
<use href="#x" x="329.3" y="136.9"/>
<use href="#x" x="329.6" y="140.3"/>
<use href="#x" x="329.9" y="139.6"/>
<use href="#x" x="330.4" y="126.6"/>
<use href="#x" x="330.7" y="136.1"/>
<use href="#x" x="331.0" y="136.8"/>
<use href="#x" x="331.4" y="129.4"/>
<use href="#x" x="331.7" y="133.9"/>
<use href="#x" x="332.0" y="168.0"/>
<use href="#x" x="332.2" y="101.6"/>
<use href="#x" x="333.3" y="136.8"/>
<use href="#x" x="333.4" y="97.8"/>
<use href="#x" x="334.0" y="132.4"/>
<use href="#x" x="336.7" y="97.8"/>
<use href="#x" x="337.0" y="140.1"/>
<use href="#x" x="337.1" y="126.9"/>
<use href="#x" x="337.2" y="96.8"/>
<use href="#x" x="337.3" y="143.9"/>
<use href="#x" x="337.8" y="161.4"/>
<use href="#x" x="338.0" y="160.0"/>
<use href="#x" x="338.5" y="127.0"/>
<use href="#x" x="338.9" y="133.1"/>
<use href="#x" x="338.9" y="132.0"/>
<use href="#x" x="339.9" y="134.9"/>
<use href="#c" x="340.8" y="118.3"/>
<use href="#x" x="340.8" y="104.4"/>
<use href="#x" x="342.9" y="108.3"/>
<use href="#x" x="343.0" y="120.8"/>
<use href="#x" x="343.2" y="120.8"/>
<use href="#x" x="343.7" y="125.8"/>
<use href="#x" x="343.7" y="107.5"/>
<use href="#x" x="344.0" y="86.4"/>
<use href="#x" x="348.3" y="114.9"/>
<use href="#x" x="348.5" y="136.6"/>
<use href="#x" x="349.9" y="113.9"/>
<use href="#x" x="350.5" y="118.7"/>
<use href="#x" x="350.9" y="105.3"/>
<use href="#x" x="351.6" y="117.3"/>
<use href="#x" x="352.6" y="105.1"/>
<use href="#x" x="353.3" y="115.3"/>
<use href="#x" x="357.0" y="108.6"/>
<use href="#x" x="358.6" y="107.1"/>
</g>
<path d="M343.6,75.5 L348.3,80.2 L343.6,84.9 L338.9,80.2 Z" fill="#7b2fcf" stroke="#333" stroke-width="0.8"/>
</svg>
<rect x="75.3" y="0.5" width="537.1" height="432.4" fill="none" stroke="#9a9a9a" stroke-width="1.3"/>
<line x1="64" y1="412.6" x2="75.3" y2="412.6" stroke="#8a8a8a" stroke-width="1.2"/>
<text x="52.6" y="419.1" text-anchor="end" font-size="18" fill="#454545">0</text>
<line x1="64" y1="334.1" x2="75.3" y2="334.1" stroke="#8a8a8a" stroke-width="1.2"/>
<text x="52.6" y="340.6" text-anchor="end" font-size="18" fill="#454545">2</text>
<line x1="64" y1="255.6" x2="75.3" y2="255.6" stroke="#8a8a8a" stroke-width="1.2"/>
<text x="52.6" y="262.1" text-anchor="end" font-size="18" fill="#454545">4</text>
<line x1="64" y1="177.1" x2="75.3" y2="177.1" stroke="#8a8a8a" stroke-width="1.2"/>
<text x="52.6" y="183.6" text-anchor="end" font-size="18" fill="#454545">6</text>
<line x1="64" y1="98.6" x2="75.3" y2="98.6" stroke="#8a8a8a" stroke-width="1.2"/>
<text x="52.6" y="105.1" text-anchor="end" font-size="18" fill="#454545">8</text>
<line x1="64" y1="20.1" x2="75.3" y2="20.1" stroke="#8a8a8a" stroke-width="1.2"/>
<text x="52.6" y="26.6" text-anchor="end" font-size="18" fill="#454545">10</text>
<line x1="612.6" y1="20.1" x2="612.6" y2="412.6" stroke="#7584e8" stroke-width="1.1"/>
<line x1="612.6" y1="412.6" x2="623.5" y2="412.6" stroke="#6272ff" stroke-width="1.2"/>
<text x="633.1" y="419.1" font-size="18" fill="#3347ff">0</text>
<line x1="612.6" y1="334.1" x2="623.5" y2="334.1" stroke="#6272ff" stroke-width="1.2"/>
<text x="633.1" y="340.6" font-size="18" fill="#3347ff">20</text>
<line x1="612.6" y1="255.6" x2="623.5" y2="255.6" stroke="#6272ff" stroke-width="1.2"/>
<text x="633.1" y="262.1" font-size="18" fill="#3347ff">40</text>
<line x1="612.6" y1="177.1" x2="623.5" y2="177.1" stroke="#6272ff" stroke-width="1.2"/>
<text x="633.1" y="183.6" font-size="18" fill="#3347ff">60</text>
<line x1="612.6" y1="98.6" x2="623.5" y2="98.6" stroke="#6272ff" stroke-width="1.2"/>
<text x="633.1" y="105.1" font-size="18" fill="#3347ff">80</text>
<line x1="612.6" y1="20.1" x2="623.5" y2="20.1" stroke="#6272ff" stroke-width="1.2"/>
<text x="633.1" y="26.6" font-size="18" fill="#3347ff">100</text>
<text transform="translate(13.6,217) rotate(-90)" text-anchor="middle" font-size="18" fill="#454545">−log<tspan font-size="12.5" dy="3.5">10</tspan><tspan dy="-3.5">(p−value)</tspan></text>
<text transform="translate(672.6,218.6) rotate(90)" text-anchor="middle" font-size="18.3" fill="#3347ff">Recombination rate (cM/Mb)</text>
<text x="343.3" y="68.6" text-anchor="middle" font-size="18.9" fill="#111">rs4466200</text>
<rect x="555.6" y="6.6" width="50.5" height="120.7" fill="#fff" stroke="#555" stroke-width="1"/>
<rect x="558.6" y="29.4" width="15" height="18.1" fill="#ff0000" stroke="#555" stroke-width="0.7"/>
<rect x="558.6" y="47.5" width="15" height="18.1" fill="#ffa500" stroke="#555" stroke-width="0.7"/>
<rect x="558.6" y="65.6" width="15" height="18.1" fill="#00ff00" stroke="#555" stroke-width="0.7"/>
<rect x="558.6" y="83.7" width="15" height="18.1" fill="#87cefa" stroke="#555" stroke-width="0.7"/>
<rect x="558.6" y="101.8" width="15" height="18.1" fill="#000080" stroke="#555" stroke-width="0.7"/>
<line x1="573.6" y1="47.5" x2="581" y2="47.5" stroke="#333" stroke-width="1"/>
<text x="585" y="51.7" font-size="12" fill="#333">0.8</text>
<line x1="573.6" y1="65.6" x2="581" y2="65.6" stroke="#333" stroke-width="1"/>
<text x="585" y="69.8" font-size="12" fill="#333">0.6</text>
<line x1="573.6" y1="83.7" x2="581" y2="83.7" stroke="#333" stroke-width="1"/>
<text x="585" y="87.9" font-size="12" fill="#333">0.4</text>
<line x1="573.6" y1="101.8" x2="581" y2="101.8" stroke="#333" stroke-width="1"/>
<text x="585" y="106.0" font-size="12" fill="#333">0.2</text>
<text x="576" y="21" font-size="12" fill="#333">r<tspan font-size="9" dy="-5.5">2</tspan></text>
<rect x="75" y="448.6" width="537.4" height="99.4" fill="none" stroke="#6a6a6a" stroke-width="1.2"/>
<line x1="77.3" y1="460.8" x2="92.7" y2="460.8" stroke="#111" stroke-width="1"/>
<path d="M82.3,458.2 L77.3,460.8 L82.3,463.40000000000003" fill="none" stroke="#111" stroke-width="1"/>
<text x="97.0" y="465.5" font-size="13.3" letter-spacing="0.3" font-style="italic" fill="#111">CDO1</text>
<line x1="98.1" y1="472.2" x2="105.7" y2="472.2" stroke="#0c0c8a" stroke-width="1.4"/>
<rect x="98.10" y="469.30" width="1.90" height="5.8" fill="#0c0c8a"/>
<rect x="102.00" y="469.30" width="1.60" height="5.8" fill="#0c0c8a" fill-opacity="0.8"/>
<rect x="104.40" y="469.30" width="1.30" height="5.8" fill="#0c0c8a"/>
<text x="167.5" y="465.7" font-size="13.3" letter-spacing="0.3" font-style="italic" fill="#111">AQPEP</text>
<line x1="218.1" y1="460.8" x2="233" y2="460.8" stroke="#111" stroke-width="1"/>
<path d="M228,458.2 L233,460.8 L228,463.40000000000003" fill="none" stroke="#111" stroke-width="1"/>
<line x1="183.4" y1="472.3" x2="218.8" y2="472.3" stroke="#0c0c8a" stroke-width="1.4"/>
<rect x="183.20" y="469.40" width="1.20" height="5.8" fill="#0c0c8a"/>
<rect x="194.10" y="469.40" width="2.00" height="5.8" fill="#0c0c8a"/>
<rect x="196.90" y="469.40" width="1.30" height="5.8" fill="#0c0c8a"/>
<rect x="198.70" y="469.40" width="2.20" height="5.8" fill="#0c0c8a"/>
<rect x="203.00" y="469.40" width="4.00" height="5.8" fill="#0c0c8a"/>
<rect x="208.80" y="469.40" width="3.40" height="5.8" fill="#0c0c8a"/>
<rect x="215.00" y="469.40" width="1.00" height="5.8" fill="#0c0c8a"/>
<rect x="216.20" y="469.40" width="2.60" height="5.8" fill="#0c0c8a"/>
<text x="261.8" y="465.7" font-size="13.3" letter-spacing="0.3" font-style="italic" fill="#111">COMMD10</text>
<line x1="333" y1="461" x2="348.5" y2="461" stroke="#111" stroke-width="1"/>
<path d="M343.5,458.4 L348.5,461 L343.5,463.6" fill="none" stroke="#111" stroke-width="1"/>
<line x1="249.1" y1="472.3" x2="361.4" y2="472.3" stroke="#0c0c8a" stroke-width="1.4"/>
<rect x="249.00" y="469.40" width="1.30" height="5.8" fill="#0c0c8a"/>
<rect x="251.60" y="469.40" width="1.20" height="5.8" fill="#0c0c8a"/>
<rect x="274.70" y="469.40" width="1.20" height="5.8" fill="#0c0c8a"/>
<rect x="360.30" y="469.40" width="1.20" height="5.8" fill="#0c0c8a"/>
<line x1="440.1" y1="460.6" x2="455.9" y2="460.6" stroke="#111" stroke-width="1"/>
<path d="M445.1,458.0 L440.1,460.6 L445.1,463.20000000000005" fill="none" stroke="#111" stroke-width="1"/>
<text x="460.0" y="465.7" font-size="13.3" letter-spacing="0.3" font-style="italic" fill="#111">SEMA6A</text>
<line x1="441.9" y1="472.2" x2="512.5" y2="472.2" stroke="#0c0c8a" stroke-width="1.4"/>
<rect x="441.70" y="469.30" width="2.70" height="5.8" fill="#0c0c8a"/>
<rect x="454.00" y="469.30" width="1.20" height="5.8" fill="#0c0c8a"/>
<rect x="457.00" y="469.30" width="5.20" height="5.8" fill="#0c0c8a" fill-opacity="0.85"/>
<rect x="464.70" y="469.30" width="2.10" height="5.8" fill="#0c0c8a"/>
<rect x="468.00" y="469.30" width="2.80" height="5.8" fill="#0c0c8a"/>
<rect x="473.00" y="469.30" width="2.40" height="5.8" fill="#0c0c8a" fill-opacity="0.85"/>
<rect x="511.50" y="469.30" width="1.20" height="5.8" fill="#0c0c8a"/>
<line x1="84.9" y1="494.2" x2="100.5" y2="494.2" stroke="#111" stroke-width="1"/>
<path d="M89.9,491.59999999999997 L84.9,494.2 L89.9,496.8" fill="none" stroke="#111" stroke-width="1"/>
<text x="104.3" y="499.4" font-size="13.3" letter-spacing="0.3" font-style="italic" fill="#111">ATG12</text>
<line x1="110.7" y1="505.3" x2="119" y2="505.3" stroke="#0c0c8a" stroke-width="1.4"/>
<rect x="110.70" y="502.40" width="3.20" height="5.8" fill="#0c0c8a"/>
<rect x="116.10" y="502.40" width="1.00" height="5.8" fill="#0c0c8a"/>
<rect x="118.00" y="502.40" width="1.00" height="5.8" fill="#0c0c8a"/>
<text x="189.5" y="499.4" font-size="13.3" letter-spacing="0.3" font-style="italic" fill="#111">ARL14EPL</text>
<line x1="260.7" y1="493.7" x2="276.3" y2="493.7" stroke="#111" stroke-width="1"/>
<path d="M271.3,491.09999999999997 L276.3,493.7 L271.3,496.3" fill="none" stroke="#111" stroke-width="1"/>
<line x1="231.2" y1="505.9" x2="236.0" y2="505.9" stroke="#0c0c8a" stroke-width="1.4"/>
<rect x="231.00" y="503.00" width="1.60" height="5.8" fill="#0c0c8a"/>
<rect x="235.00" y="503.00" width="1.10" height="5.8" fill="#0c0c8a"/>
<line x1="345.3" y1="494.2" x2="361.1" y2="494.2" stroke="#111" stroke-width="1"/>
<path d="M350.3,491.59999999999997 L345.3,494.2 L350.3,496.8" fill="none" stroke="#111" stroke-width="1"/>
<text x="365.0" y="499.4" font-size="13.3" letter-spacing="0.3" font-style="italic" fill="#111">LOC101927190</text>
<line x1="400.5" y1="505.8" x2="405.5" y2="505.8" stroke="#0c0c8a" stroke-width="1.4"/>
<rect x="400.40" y="502.90" width="2.20" height="5.8" fill="#0c0c8a"/>
<rect x="404.40" y="502.90" width="1.20" height="5.8" fill="#0c0c8a"/>
<line x1="492.2" y1="494.2" x2="507.6" y2="494.2" stroke="#111" stroke-width="1"/>
<path d="M497.2,491.59999999999997 L492.2,494.2 L497.2,496.8" fill="none" stroke="#111" stroke-width="1"/>
<text x="511.4" y="499.4" font-size="13.3" letter-spacing="0.3" font-style="italic" fill="#111">LOC102467223</text>
<line x1="602.6" y1="505.2" x2="612" y2="505.2" stroke="#0c0c8a" stroke-width="1.4"/>
<rect x="602.20" y="502.30" width="1.20" height="5.8" fill="#0c0c8a"/>
<text x="107.0" y="531.7" font-size="13.3" letter-spacing="0.3" font-style="italic" fill="#111">AP3S1</text>
<line x1="153.1" y1="527.1" x2="168.3" y2="527.1" stroke="#111" stroke-width="1"/>
<path d="M163.3,524.5 L168.3,527.1 L163.3,529.7" fill="none" stroke="#111" stroke-width="1"/>
<line x1="118.4" y1="538.6" x2="157.8" y2="538.6" stroke="#0c0c8a" stroke-width="1.4"/>
<rect x="118.00" y="535.70" width="1.20" height="5.8" fill="#0c0c8a"/>
<rect x="131.10" y="535.70" width="3.60" height="5.8" fill="#0c0c8a" fill-opacity="0.6"/>
<rect x="146.60" y="535.70" width="1.20" height="5.8" fill="#0c0c8a"/>
<rect x="150.90" y="535.70" width="1.20" height="5.8" fill="#0c0c8a"/>
<rect x="156.80" y="535.70" width="1.20" height="5.8" fill="#0c0c8a"/>
<text x="397.5" y="531.7" font-size="13.3" letter-spacing="0.3" font-style="italic" fill="#111">CTB−118N6.3</text>
<line x1="487.7" y1="527.5" x2="503.3" y2="527.5" stroke="#111" stroke-width="1"/>
<path d="M498.3,524.9 L503.3,527.5 L498.3,530.1" fill="none" stroke="#111" stroke-width="1"/>
<line x1="443.7" y1="538.8" x2="457.7" y2="538.8" stroke="#0c0c8a" stroke-width="1.4"/>
<rect x="443.30" y="535.90" width="1.20" height="5.8" fill="#0c0c8a"/>
<rect x="456.90" y="535.90" width="1.20" height="5.8" fill="#0c0c8a"/>
<line x1="130.6" y1="548" x2="130.6" y2="558.9" stroke="#777" stroke-width="1.2"/>
<text x="130.6" y="587.8" text-anchor="middle" font-size="18" fill="#454545">115.2</text>
<line x1="238.2" y1="548" x2="238.2" y2="558.9" stroke="#777" stroke-width="1.2"/>
<text x="238.2" y="587.8" text-anchor="middle" font-size="18" fill="#454545">115.4</text>
<line x1="345.8" y1="548" x2="345.8" y2="558.9" stroke="#777" stroke-width="1.2"/>
<text x="345.8" y="587.8" text-anchor="middle" font-size="18" fill="#454545">115.6</text>
<line x1="453.4" y1="548" x2="453.4" y2="558.9" stroke="#777" stroke-width="1.2"/>
<text x="453.4" y="587.8" text-anchor="middle" font-size="18" fill="#454545">115.8</text>
<line x1="561.0" y1="548" x2="561.0" y2="558.9" stroke="#777" stroke-width="1.2"/>
<text x="561.0" y="587.8" text-anchor="middle" font-size="18" fill="#454545">116</text>
<text x="343.6" y="608.6" text-anchor="middle" font-size="18" fill="#454545">Position on chr5 (Mb)</text>
<text x="355.8" y="650.6" font-size="10.8" letter-spacing="0.25" font-weight="bold" fill="#111">1−(5e−08)%</text>
<text x="98.4" y="664.1" font-size="10.8" letter-spacing="0.25" font-weight="bold" fill="#111">Strata</text>
<text x="283.6" y="664.1" font-size="10.8" letter-spacing="0.25" font-weight="bold" text-anchor="end" fill="#111">EAfreq</text>
<text x="319.5" y="664.1" font-size="10.8" letter-spacing="0.25" font-weight="bold" text-anchor="middle" fill="#111">Effect size</text>
<text x="355.8" y="664.1" font-size="10.8" letter-spacing="0.25" font-weight="bold" fill="#111">Confidence Interval</text>
<text x="98.4" y="677.6" font-size="10.8" letter-spacing="0.25" fill="#111">SouthAmerican</text>
<text x="283.6" y="677.6" font-size="10.8" letter-spacing="0.25" text-anchor="end" fill="#111">33.3%</text>
<text x="319.5" y="677.6" font-size="10.8" letter-spacing="0.25" text-anchor="middle" fill="#111">−0.002</text>
<text x="355.8" y="677.6" font-size="10.8" letter-spacing="0.25" fill="#111">(−0.036 , 0.031)</text>
<text x="98.4" y="691.1" font-size="10.8" letter-spacing="0.25" fill="#111">PuertoRican</text>
<text x="283.6" y="691.1" font-size="10.8" letter-spacing="0.25" text-anchor="end" fill="#111">35.1%</text>
<text x="319.5" y="691.1" font-size="10.8" letter-spacing="0.25" text-anchor="middle" fill="#111">0.024</text>
<text x="355.8" y="691.1" font-size="10.8" letter-spacing="0.25" fill="#111">(0.002 , 0.047)</text>
<text x="98.4" y="704.6" font-size="10.8" letter-spacing="0.25" fill="#111">Dominican</text>
<text x="283.6" y="704.6" font-size="10.8" letter-spacing="0.25" text-anchor="end" fill="#111">52.9%</text>
<text x="319.5" y="704.6" font-size="10.8" letter-spacing="0.25" text-anchor="middle" fill="#111">0.003</text>
<text x="355.8" y="704.6" font-size="10.8" letter-spacing="0.25" fill="#111">(−0.026 , 0.032)</text>
<text x="98.4" y="718.1" font-size="10.8" letter-spacing="0.25" fill="#111">Mexican</text>
<text x="283.6" y="718.1" font-size="10.8" letter-spacing="0.25" text-anchor="end" fill="#111">28.9%</text>
<text x="319.5" y="718.1" font-size="10.8" letter-spacing="0.25" text-anchor="middle" fill="#111">−0.005</text>
<text x="355.8" y="718.1" font-size="10.8" letter-spacing="0.25" fill="#111">(−0.020 , 0.010)</text>
<text x="98.4" y="731.6" font-size="10.8" letter-spacing="0.25" fill="#111">Cuban</text>
<text x="283.6" y="731.6" font-size="10.8" letter-spacing="0.25" text-anchor="end" fill="#111">32.6%</text>
<text x="319.5" y="731.6" font-size="10.8" letter-spacing="0.25" text-anchor="middle" fill="#111">0.005</text>
<text x="355.8" y="731.6" font-size="10.8" letter-spacing="0.25" fill="#111">(−0.019 , 0.028)</text>
<text x="98.4" y="745.1" font-size="10.8" letter-spacing="0.25" fill="#111">CentralAmerican</text>
<text x="283.6" y="745.1" font-size="10.8" letter-spacing="0.25" text-anchor="end" fill="#111">33.2%</text>
<text x="319.5" y="745.1" font-size="10.8" letter-spacing="0.25" text-anchor="middle" fill="#111">0.004</text>
<text x="355.8" y="745.1" font-size="10.8" letter-spacing="0.25" fill="#111">(−0.024 , 0.033)</text>
<text x="98.4" y="772.1" font-size="10.8" letter-spacing="0.25" font-weight="bold" fill="#111">Meta analysis – Caribbean</text>
<text x="319.5" y="772.1" font-size="10.8" letter-spacing="0.25" font-weight="bold" text-anchor="middle" fill="#111">0.012</text>
<text x="355.8" y="772.1" font-size="10.8" letter-spacing="0.25" font-weight="bold" fill="#111">(−0.002 , 0.026)</text>
<text x="98.4" y="785.6" font-size="10.8" letter-spacing="0.25" font-weight="bold" fill="#111">Meta analysis – Mainland</text>
<text x="319.5" y="785.6" font-size="10.8" letter-spacing="0.25" font-weight="bold" text-anchor="middle" fill="#111">−0.003</text>
<text x="355.8" y="785.6" font-size="10.8" letter-spacing="0.25" font-weight="bold" fill="#111">(−0.015 , 0.010)</text>
<text x="98.4" y="812.6" font-size="10.8" letter-spacing="0.25" font-weight="bold" fill="#111">Meta analysis – all</text>
<text x="319.5" y="812.6" font-size="10.8" letter-spacing="0.25" font-weight="bold" text-anchor="middle" fill="#111">0.004</text>
<text x="355.8" y="812.6" font-size="10.8" letter-spacing="0.25" font-weight="bold" fill="#111">(−0.006 , 0.013)</text>
<text x="355.8" y="839.6" font-size="10.8" letter-spacing="0.25" font-weight="bold" fill="#111">95%</text>
<text x="98.4" y="853.1" font-size="10.8" letter-spacing="0.25" font-weight="bold" fill="#111">Replication group</text>
<text x="355.8" y="853.1" font-size="10.8" letter-spacing="0.25" font-weight="bold" fill="#111">Confidence Interval</text>
<text x="98.4" y="866.6" font-size="10.8" letter-spacing="0.25" fill="#111">European Americans</text>
<text x="319.5" y="866.6" font-size="10.8" letter-spacing="0.25" text-anchor="middle" fill="#111">−0.037</text>
<text x="355.8" y="866.6" font-size="10.8" letter-spacing="0.25" fill="#111">(−0.098 , 0.024)</text>
<text x="98.4" y="880.1" font-size="10.8" letter-spacing="0.25" fill="#111">Hispanic/Latino Americans</text>
<text x="319.5" y="880.1" font-size="10.8" letter-spacing="0.25" text-anchor="middle" fill="#111">0.016</text>
<text x="355.8" y="880.1" font-size="10.8" letter-spacing="0.25" fill="#111">(−0.057 , 0.089)</text>
<text x="98.4" y="893.6" font-size="10.8" letter-spacing="0.25" fill="#111">African Americans</text>
<text x="319.5" y="893.6" font-size="10.8" letter-spacing="0.25" text-anchor="middle" fill="#111">0.074</text>
<text x="355.8" y="893.6" font-size="10.8" letter-spacing="0.25" fill="#111">(0.002 , 0.145)</text>
<line x1="522" y1="640" x2="522" y2="917" stroke="#e2e2e2" stroke-width="1.5"/>
<line x1="502" y1="673.5" x2="539.6" y2="673.5" stroke="#4d50bb" stroke-width="1.3"/>
<rect x="518.00" y="671.00" width="5" height="5" fill="#4169e1"/>
<line x1="522.7" y1="687.5" x2="548.3" y2="687.5" stroke="#4d50bb" stroke-width="1.3"/>
<rect x="531.95" y="683.35" width="7.3" height="7.3" fill="#4169e1"/>
<line x1="507.2" y1="700.5" x2="540.2" y2="700.5" stroke="#4d50bb" stroke-width="1.3"/>
<rect x="520.90" y="697.50" width="6" height="6" fill="#4169e1"/>
<line x1="510.5" y1="714.5" x2="528" y2="714.5" stroke="#4d50bb" stroke-width="1.3"/>
<rect x="513.95" y="708.65" width="10.7" height="10.7" fill="#4169e1"/>
<line x1="511.3" y1="727.5" x2="538" y2="727.5" stroke="#4d50bb" stroke-width="1.3"/>
<rect x="521.20" y="724.00" width="7" height="7" fill="#4169e1"/>
<line x1="508" y1="741.5" x2="540.7" y2="741.5" stroke="#4d50bb" stroke-width="1.3"/>
<rect x="521.30" y="738.00" width="6" height="6" fill="#4169e1"/>
<path d="M520.7,768.0 L528.7,761.0 L537.0,768.0 L528.7,775.0 Z" fill="#4169e1"/>
<path d="M513.1,781.5 L520.4,774.5 L527.8,781.5 L520.4,788.5 Z" fill="#4169e1"/>
<path d="M518.5,808.5 L524.1,801.6 L529.8,808.5 L524.1,815.4 Z" fill="#4169e1"/>
<line x1="467.7" y1="862.5" x2="535.8" y2="862.5" stroke="#4a5cd0" stroke-width="1.2"/>
<rect x="500.0" y="860.9" width="3.2" height="3.2" fill="#4169e1"/>
<line x1="490.2" y1="876.5" x2="571.7" y2="876.5" stroke="#4a5cd0" stroke-width="1.2"/>
<rect x="528.9" y="874.9" width="3.2" height="3.2" fill="#4169e1"/>
<line x1="523.1" y1="889.5" x2="603" y2="889.5" stroke="#4a5cd0" stroke-width="1.2"/>
<rect x="561.3" y="887.9" width="3.2" height="3.2" fill="#4169e1"/>
<line x1="494" y1="916.5" x2="578" y2="916.5" stroke="#777" stroke-width="1.3"/>
<line x1="494.5" y1="916" x2="494.5" y2="917" stroke="#777" stroke-width="1"/>
<line x1="522" y1="916" x2="522" y2="917" stroke="#777" stroke-width="1"/>
<line x1="550" y1="916" x2="550" y2="917" stroke="#777" stroke-width="1"/>
<line x1="577.5" y1="916" x2="577.5" y2="917" stroke="#777" stroke-width="1"/>
</svg>
</body></html>
